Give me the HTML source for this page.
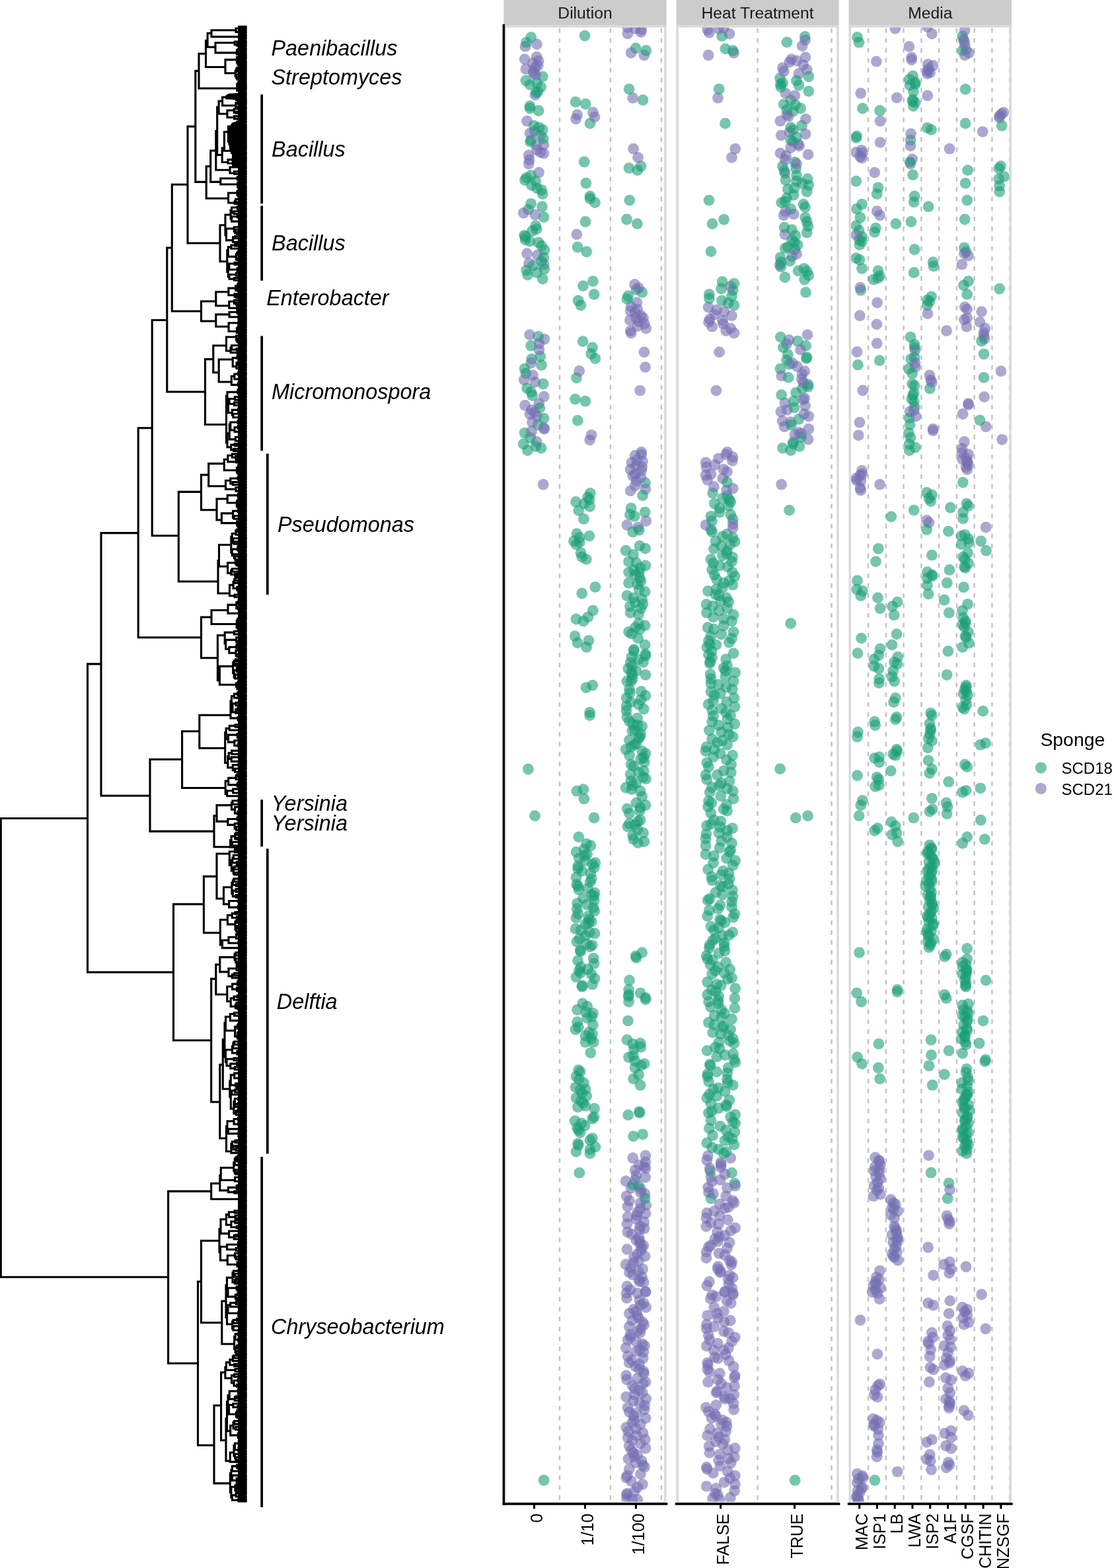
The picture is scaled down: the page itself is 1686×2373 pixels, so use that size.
<!DOCTYPE html>
<html><head><meta charset="utf-8"><title>Isolates</title>
<style>
html,body{margin:0;padding:0;background:#fff;}
svg{display:block;}
text{font-family:"Liberation Sans",sans-serif;fill:#000;}
.st{font-size:24.7px;text-anchor:middle;fill:#1a1a1a;}
.gl{font-size:32.4px;font-style:italic;}
.tl{font-size:25px;text-anchor:end;}
.lt{font-size:28.4px;}
.ll{font-size:24px;}
.dl{stroke:#c2c2c2;stroke-width:2.4;stroke-dasharray:7 8;}
.ax{stroke:#000;stroke-width:3.5;}
.tk{stroke:#000;stroke-width:3.1;}
.bar{stroke:#000;stroke-width:3.7;}
.g{fill:#1b9e77;fill-opacity:0.6;}
.p{fill:#7570b3;fill-opacity:0.6;}
.tree{fill:none;stroke:#000;stroke-width:3.1;stroke-linecap:square;}
</style></head><body>
<svg width="1686" height="2373" viewBox="0 0 1686 2373">
<rect x="0" y="0" width="1686" height="2373" fill="#fff"/>
<rect x="762.35" y="0" width="246.25" height="38.20" fill="#cccccc"/>
<text x="885.48" y="28.1" class="st">Dilution</text>
<line x1="847.00" y1="42.70" x2="847.00" y2="2275.00" class="dl"/>
<line x1="923.95" y1="42.70" x2="923.95" y2="2275.00" class="dl"/>
<line x1="1000.90" y1="42.70" x2="1000.90" y2="2275.00" class="dl"/>
<rect x="1023.50" y="0" width="246.20" height="38.20" fill="#cccccc"/>
<text x="1146.60" y="28.1" class="st">Heat Treatment</text>
<line x1="1146.60" y1="42.70" x2="1146.60" y2="2275.00" class="dl"/>
<line x1="1258.51" y1="42.70" x2="1258.51" y2="2275.00" class="dl"/>
<rect x="1284.60" y="0" width="246.30" height="38.20" fill="#cccccc"/>
<text x="1407.75" y="28.1" class="st">Media</text>
<line x1="1314.05" y1="42.70" x2="1314.05" y2="2275.00" class="dl"/>
<line x1="1340.82" y1="42.70" x2="1340.82" y2="2275.00" class="dl"/>
<line x1="1367.59" y1="42.70" x2="1367.59" y2="2275.00" class="dl"/>
<line x1="1394.36" y1="42.70" x2="1394.36" y2="2275.00" class="dl"/>
<line x1="1421.14" y1="42.70" x2="1421.14" y2="2275.00" class="dl"/>
<line x1="1447.91" y1="42.70" x2="1447.91" y2="2275.00" class="dl"/>
<line x1="1474.68" y1="42.70" x2="1474.68" y2="2275.00" class="dl"/>
<line x1="1501.45" y1="42.70" x2="1501.45" y2="2275.00" class="dl"/>
<line x1="1528.22" y1="42.70" x2="1528.22" y2="2275.00" class="dl"/>
<defs><clipPath id="clipD"><rect x="762.35" y="38.20" width="246.25" height="2237.80"/></clipPath><clipPath id="clipH"><rect x="1023.50" y="38.20" width="246.20" height="2237.80"/></clipPath><clipPath id="clipM"><rect x="1284.60" y="38.20" width="246.30" height="2237.80"/></clipPath></defs>
<g clip-path="url(#clipD)">
<circle cx="804.6" cy="620.3" r="8.4" class="p"/>
<circle cx="961.2" cy="689.5" r="8.4" class="p"/>
<circle cx="794.1" cy="655.3" r="8.4" class="g"/>
<circle cx="962.1" cy="1446.8" r="8.4" class="g"/>
<circle cx="893.0" cy="1432.8" r="8.4" class="g"/>
<circle cx="899.0" cy="1356.1" r="8.4" class="g"/>
<circle cx="891.4" cy="1562.5" r="8.4" class="g"/>
<circle cx="803.7" cy="523.2" r="8.4" class="g"/>
<circle cx="875.8" cy="772.6" r="8.4" class="g"/>
<circle cx="963.0" cy="438.4" r="8.4" class="g"/>
<circle cx="893.0" cy="1745.5" r="8.4" class="g"/>
<circle cx="974.3" cy="1166.6" r="8.4" class="g"/>
<circle cx="799.4" cy="317.1" r="8.4" class="g"/>
<circle cx="955.1" cy="1798.0" r="8.4" class="p"/>
<circle cx="957.7" cy="1579.8" r="8.4" class="g"/>
<circle cx="969.1" cy="1579.0" r="8.4" class="g"/>
<circle cx="966.4" cy="998.1" r="8.4" class="g"/>
<circle cx="952.3" cy="2062.4" r="8.4" class="p"/>
<circle cx="948.6" cy="332.0" r="8.4" class="g"/>
<circle cx="949.0" cy="1573.7" r="8.4" class="g"/>
<circle cx="964.7" cy="1897.9" r="8.4" class="p"/>
<circle cx="968.2" cy="1882.0" r="8.4" class="p"/>
<circle cx="950.1" cy="2130.1" r="8.4" class="p"/>
<circle cx="972.6" cy="1920.5" r="8.4" class="p"/>
<circle cx="807.5" cy="111.2" r="8.4" class="p"/>
<circle cx="884.2" cy="762.1" r="8.4" class="g"/>
<circle cx="963.0" cy="1185.0" r="8.4" class="g"/>
<circle cx="971.8" cy="1136.8" r="8.4" class="g"/>
<circle cx="949.9" cy="1826.0" r="8.4" class="p"/>
<circle cx="961.1" cy="717.5" r="8.4" class="p"/>
<circle cx="960.3" cy="781.3" r="8.4" class="g"/>
<circle cx="885.0" cy="1294.8" r="8.4" class="g"/>
<circle cx="975.2" cy="1859.2" r="8.4" class="p"/>
<circle cx="963.8" cy="1839.8" r="8.4" class="p"/>
<circle cx="892.1" cy="756.0" r="8.4" class="g"/>
<circle cx="957.0" cy="1998.5" r="8.4" class="p"/>
<circle cx="890.9" cy="969.4" r="8.4" class="g"/>
<circle cx="895.4" cy="1394.8" r="8.4" class="g"/>
<circle cx="948.6" cy="1964.6" r="8.4" class="p"/>
<circle cx="874.6" cy="1314.7" r="8.4" class="g"/>
<circle cx="964.7" cy="1097.5" r="8.4" class="g"/>
<circle cx="798.5" cy="416.0" r="8.4" class="g"/>
<circle cx="883.4" cy="1638.7" r="8.4" class="g"/>
<circle cx="949.9" cy="1841.7" r="8.4" class="p"/>
<circle cx="961.2" cy="912.0" r="8.4" class="g"/>
<circle cx="957.3" cy="1027.1" r="8.4" class="g"/>
<circle cx="878.4" cy="1472.2" r="8.4" class="g"/>
<circle cx="957.0" cy="2269.4" r="8.4" class="p"/>
<circle cx="977.1" cy="2091.6" r="8.4" class="p"/>
<circle cx="793.6" cy="356.3" r="8.4" class="g"/>
<circle cx="967.3" cy="866.5" r="8.4" class="g"/>
<circle cx="804.6" cy="280.3" r="8.4" class="g"/>
<circle cx="956.0" cy="700.0" r="8.4" class="p"/>
<circle cx="961.2" cy="472.5" r="8.4" class="p"/>
<circle cx="871.9" cy="1478.6" r="8.4" class="g"/>
<circle cx="951.6" cy="1497.6" r="8.4" class="g"/>
<circle cx="889.5" cy="1344.5" r="8.4" class="g"/>
<circle cx="972.4" cy="2246.3" r="8.4" class="p"/>
<circle cx="886.0" cy="1673.7" r="8.4" class="g"/>
<circle cx="965.6" cy="798.0" r="8.4" class="p"/>
<circle cx="969.6" cy="1111.0" r="8.4" class="g"/>
<circle cx="949.9" cy="51.1" r="8.4" class="p"/>
<circle cx="961.2" cy="870.0" r="8.4" class="g"/>
<circle cx="955.1" cy="1031.0" r="8.4" class="g"/>
<circle cx="971.7" cy="906.7" r="8.4" class="g"/>
<circle cx="795.0" cy="70.4" r="8.4" class="p"/>
<circle cx="812.1" cy="668.5" r="8.4" class="p"/>
<circle cx="965.5" cy="1275.5" r="8.4" class="g"/>
<circle cx="956.8" cy="2152.7" r="8.4" class="p"/>
<circle cx="822.1" cy="733.2" r="8.4" class="p"/>
<circle cx="879.0" cy="836.7" r="8.4" class="g"/>
<circle cx="896.8" cy="1037.1" r="8.4" class="g"/>
<circle cx="961.2" cy="1770.8" r="8.4" class="p"/>
<circle cx="899.1" cy="1458.2" r="8.4" class="g"/>
<circle cx="823.9" cy="513.3" r="8.4" class="p"/>
<circle cx="968.2" cy="1861.0" r="8.4" class="p"/>
<circle cx="803.7" cy="212.1" r="8.4" class="g"/>
<circle cx="872.5" cy="571.9" r="8.4" class="g"/>
<circle cx="972.6" cy="698.2" r="8.4" class="p"/>
<circle cx="963.0" cy="851.6" r="8.4" class="g"/>
<circle cx="977.0" cy="1218.5" r="8.4" class="g"/>
<circle cx="878.1" cy="1438.1" r="8.4" class="g"/>
<circle cx="973.2" cy="2093.9" r="8.4" class="p"/>
<circle cx="976.6" cy="830.1" r="8.4" class="g"/>
<circle cx="873.7" cy="1367.2" r="8.4" class="g"/>
<circle cx="819.5" cy="372.2" r="8.4" class="g"/>
<circle cx="970.1" cy="2010.8" r="8.4" class="p"/>
<circle cx="802.0" cy="128.1" r="8.4" class="g"/>
<circle cx="815.1" cy="167.5" r="8.4" class="g"/>
<circle cx="964.7" cy="1087.0" r="8.4" class="g"/>
<circle cx="823.3" cy="600.2" r="8.4" class="p"/>
<circle cx="817.5" cy="204.8" r="8.4" class="p"/>
<circle cx="958.6" cy="225.2" r="8.4" class="p"/>
<circle cx="970.8" cy="45.0" r="8.4" class="p"/>
<circle cx="896.8" cy="1307.7" r="8.4" class="g"/>
<circle cx="968.2" cy="1115.0" r="8.4" class="g"/>
<circle cx="975.2" cy="1609.9" r="8.4" class="g"/>
<circle cx="812.5" cy="412.5" r="8.4" class="g"/>
<circle cx="976.1" cy="946.6" r="8.4" class="g"/>
<circle cx="823.0" cy="400.2" r="8.4" class="p"/>
<circle cx="882.5" cy="1359.4" r="8.4" class="g"/>
<circle cx="812.5" cy="284.7" r="8.4" class="g"/>
<circle cx="872.0" cy="937.0" r="8.4" class="g"/>
<circle cx="872.9" cy="354.7" r="8.4" class="p"/>
<circle cx="972.8" cy="2001.1" r="8.4" class="p"/>
<circle cx="959.5" cy="1588.0" r="8.4" class="g"/>
<circle cx="886.0" cy="1577.2" r="8.4" class="g"/>
<circle cx="809.9" cy="578.4" r="8.4" class="p"/>
<circle cx="957.7" cy="720.1" r="8.4" class="p"/>
<circle cx="956.0" cy="959.2" r="8.4" class="g"/>
<circle cx="959.2" cy="1159.4" r="8.4" class="g"/>
<circle cx="972.6" cy="1716.6" r="8.4" class="g"/>
<circle cx="878.7" cy="1439.9" r="8.4" class="g"/>
<circle cx="965.5" cy="2014.0" r="8.4" class="p"/>
<circle cx="963.2" cy="2172.5" r="8.4" class="p"/>
<circle cx="893.0" cy="300.5" r="8.4" class="g"/>
<circle cx="964.7" cy="884.0" r="8.4" class="g"/>
<circle cx="974.9" cy="1273.6" r="8.4" class="g"/>
<circle cx="792.4" cy="672.0" r="8.4" class="g"/>
<circle cx="804.6" cy="543.4" r="8.4" class="g"/>
<circle cx="955.1" cy="769.1" r="8.4" class="g"/>
<circle cx="873.3" cy="1375.4" r="8.4" class="g"/>
<circle cx="958.8" cy="1910.8" r="8.4" class="p"/>
<circle cx="872.9" cy="1197.2" r="8.4" class="g"/>
<circle cx="964.7" cy="2201.7" r="8.4" class="p"/>
<circle cx="976.1" cy="895.4" r="8.4" class="g"/>
<circle cx="959.5" cy="1903.0" r="8.4" class="p"/>
<circle cx="975.1" cy="1765.7" r="8.4" class="p"/>
<circle cx="976.1" cy="1806.7" r="8.4" class="p"/>
<circle cx="900.9" cy="542.5" r="8.4" class="g"/>
<circle cx="970.0" cy="1584.5" r="8.4" class="g"/>
<circle cx="797.6" cy="183.2" r="8.4" class="p"/>
<circle cx="961.7" cy="2067.8" r="8.4" class="p"/>
<circle cx="823.9" cy="407.2" r="8.4" class="g"/>
<circle cx="961.5" cy="949.7" r="8.4" class="g"/>
<circle cx="947.2" cy="1913.5" r="8.4" class="p"/>
<circle cx="965.0" cy="1243.2" r="8.4" class="g"/>
<circle cx="812.1" cy="346.7" r="8.4" class="g"/>
<circle cx="892.6" cy="1078.2" r="8.4" class="g"/>
<circle cx="952.5" cy="1246.5" r="8.4" class="g"/>
<circle cx="949.0" cy="794.5" r="8.4" class="p"/>
<circle cx="954.0" cy="2020.0" r="8.4" class="p"/>
<circle cx="795.9" cy="565.2" r="8.4" class="g"/>
<circle cx="808.1" cy="190.2" r="8.4" class="g"/>
<circle cx="892.6" cy="1082.6" r="8.4" class="g"/>
<circle cx="973.5" cy="1176.2" r="8.4" class="g"/>
<circle cx="887.7" cy="1658.9" r="8.4" class="g"/>
<circle cx="899.7" cy="1378.7" r="8.4" class="g"/>
<circle cx="967.5" cy="2104.3" r="8.4" class="p"/>
<circle cx="895.3" cy="1330.3" r="8.4" class="g"/>
<circle cx="812.5" cy="630.0" r="8.4" class="p"/>
<circle cx="954.2" cy="1003.0" r="8.4" class="g"/>
<circle cx="811.6" cy="220.0" r="8.4" class="p"/>
<circle cx="872.0" cy="1629.1" r="8.4" class="g"/>
<circle cx="895.6" cy="1354.1" r="8.4" class="g"/>
<circle cx="894.7" cy="1474.0" r="8.4" class="g"/>
<circle cx="968.6" cy="591.1" r="8.4" class="p"/>
<circle cx="815.6" cy="610.7" r="8.4" class="p"/>
<circle cx="964.7" cy="468.1" r="8.4" class="p"/>
<circle cx="969.1" cy="1222.0" r="8.4" class="g"/>
<circle cx="964.7" cy="2086.2" r="8.4" class="p"/>
<circle cx="968.2" cy="1227.2" r="8.4" class="g"/>
<circle cx="823.0" cy="219.1" r="8.4" class="p"/>
<circle cx="961.2" cy="1605.5" r="8.4" class="g"/>
<circle cx="797.6" cy="383.6" r="8.4" class="p"/>
<circle cx="821.2" cy="293.5" r="8.4" class="g"/>
<circle cx="802.0" cy="164.0" r="8.4" class="g"/>
<circle cx="897.4" cy="425.6" r="8.4" class="g"/>
<circle cx="817.7" cy="539.5" r="8.4" class="g"/>
<circle cx="949.9" cy="41.5" r="8.4" class="p"/>
<circle cx="801.1" cy="241.8" r="8.4" class="p"/>
<circle cx="887.7" cy="1277.1" r="8.4" class="g"/>
<circle cx="880.7" cy="1318.2" r="8.4" class="g"/>
<circle cx="954.2" cy="500.5" r="8.4" class="p"/>
<circle cx="971.7" cy="707.0" r="8.4" class="p"/>
<circle cx="963.0" cy="1449.5" r="8.4" class="g"/>
<circle cx="955.0" cy="1181.9" r="8.4" class="g"/>
<circle cx="950.7" cy="1011.7" r="8.4" class="g"/>
<circle cx="823.0" cy="328.5" r="8.4" class="g"/>
<circle cx="899.6" cy="1677.6" r="8.4" class="g"/>
<circle cx="976.3" cy="2178.5" r="8.4" class="p"/>
<circle cx="881.6" cy="1518.6" r="8.4" class="g"/>
<circle cx="899.1" cy="1313.0" r="8.4" class="g"/>
<circle cx="974.0" cy="2075.5" r="8.4" class="p"/>
<circle cx="955.1" cy="463.7" r="8.4" class="p"/>
<circle cx="899.1" cy="1690.4" r="8.4" class="g"/>
<circle cx="966.3" cy="1994.6" r="8.4" class="p"/>
<circle cx="794.1" cy="89.6" r="8.4" class="p"/>
<circle cx="948.9" cy="1085.2" r="8.4" class="g"/>
<circle cx="962.1" cy="73.0" r="8.4" class="g"/>
<circle cx="872.9" cy="1338.4" r="8.4" class="g"/>
<circle cx="958.9" cy="904.6" r="8.4" class="g"/>
<circle cx="812.5" cy="125.5" r="8.4" class="g"/>
<circle cx="955.3" cy="1017.5" r="8.4" class="g"/>
<circle cx="880.7" cy="898.0" r="8.4" class="g"/>
<circle cx="968.2" cy="1684.2" r="8.4" class="g"/>
<circle cx="956.9" cy="1106.2" r="8.4" class="g"/>
<circle cx="973.5" cy="1260.5" r="8.4" class="g"/>
<circle cx="969.4" cy="2155.5" r="8.4" class="p"/>
<circle cx="794.6" cy="613.4" r="8.4" class="p"/>
<circle cx="957.7" cy="805.0" r="8.4" class="g"/>
<circle cx="879.9" cy="1700.0" r="8.4" class="g"/>
<circle cx="969.1" cy="1642.2" r="8.4" class="g"/>
<circle cx="953.5" cy="917.5" r="8.4" class="g"/>
<circle cx="873.7" cy="1707.0" r="8.4" class="g"/>
<circle cx="893.0" cy="297.0" r="8.4" class="g"/>
<circle cx="960.6" cy="430.5" r="8.4" class="p"/>
<circle cx="962.4" cy="704.6" r="8.4" class="p"/>
<circle cx="976.7" cy="1781.8" r="8.4" class="p"/>
<circle cx="963.8" cy="457.6" r="8.4" class="p"/>
<circle cx="947.2" cy="1787.5" r="8.4" class="p"/>
<circle cx="815.6" cy="261.1" r="8.4" class="p"/>
<circle cx="894.7" cy="1572.0" r="8.4" class="g"/>
<circle cx="887.7" cy="1428.5" r="8.4" class="g"/>
<circle cx="872.0" cy="1661.5" r="8.4" class="g"/>
<circle cx="803.7" cy="549.5" r="8.4" class="p"/>
<circle cx="977.8" cy="1823.7" r="8.4" class="p"/>
<circle cx="875.8" cy="1266.6" r="8.4" class="g"/>
<circle cx="972.4" cy="2033.9" r="8.4" class="p"/>
<circle cx="948.3" cy="2262.3" r="8.4" class="p"/>
<circle cx="815.1" cy="92.2" r="8.4" class="p"/>
<circle cx="947.8" cy="2081.6" r="8.4" class="p"/>
<circle cx="890.4" cy="1386.5" r="8.4" class="g"/>
<circle cx="886.0" cy="1398.7" r="8.4" class="g"/>
<circle cx="967.8" cy="2123.2" r="8.4" class="p"/>
<circle cx="803.7" cy="56.4" r="8.4" class="g"/>
<circle cx="967.3" cy="1682.5" r="8.4" class="g"/>
<circle cx="962.3" cy="2030.1" r="8.4" class="p"/>
<circle cx="872.2" cy="824.0" r="8.4" class="g"/>
<circle cx="878.1" cy="1622.1" r="8.4" class="g"/>
<circle cx="949.9" cy="1864.5" r="8.4" class="p"/>
<circle cx="800.2" cy="234.9" r="8.4" class="p"/>
<circle cx="952.5" cy="1231.1" r="8.4" class="g"/>
<circle cx="886.0" cy="1648.4" r="8.4" class="g"/>
<circle cx="821.2" cy="196.4" r="8.4" class="g"/>
<circle cx="950.1" cy="2175.5" r="8.4" class="p"/>
<circle cx="888.6" cy="1540.5" r="8.4" class="g"/>
<circle cx="812.5" cy="227.0" r="8.4" class="p"/>
<circle cx="819.1" cy="678.1" r="8.4" class="g"/>
<circle cx="977.0" cy="856.0" r="8.4" class="g"/>
<circle cx="955.1" cy="504.0" r="8.4" class="p"/>
<circle cx="874.4" cy="1675.4" r="8.4" class="g"/>
<circle cx="963.0" cy="1876.7" r="8.4" class="p"/>
<circle cx="963.0" cy="1845.2" r="8.4" class="p"/>
<circle cx="952.5" cy="1120.2" r="8.4" class="g"/>
<circle cx="977.1" cy="1955.4" r="8.4" class="p"/>
<circle cx="972.9" cy="2217.2" r="8.4" class="p"/>
<circle cx="954.1" cy="2023.7" r="8.4" class="p"/>
<circle cx="956.0" cy="994.2" r="8.4" class="g"/>
<circle cx="959.3" cy="985.2" r="8.4" class="g"/>
<circle cx="977.0" cy="1140.3" r="8.4" class="g"/>
<circle cx="900.9" cy="888.4" r="8.4" class="g"/>
<circle cx="977.0" cy="1758.6" r="8.4" class="p"/>
<circle cx="975.2" cy="490.0" r="8.4" class="p"/>
<circle cx="886.9" cy="1040.6" r="8.4" class="g"/>
<circle cx="952.5" cy="1043.2" r="8.4" class="g"/>
<circle cx="793.2" cy="574.9" r="8.4" class="p"/>
<circle cx="884.0" cy="1285.1" r="8.4" class="g"/>
<circle cx="947.8" cy="2114.0" r="8.4" class="p"/>
<circle cx="889.5" cy="1467.0" r="8.4" class="g"/>
<circle cx="802.0" cy="365.2" r="8.4" class="g"/>
<circle cx="950.1" cy="2027.7" r="8.4" class="p"/>
<circle cx="955.5" cy="2194.6" r="8.4" class="p"/>
<circle cx="970.8" cy="712.2" r="8.4" class="p"/>
<circle cx="949.0" cy="901.5" r="8.4" class="g"/>
<circle cx="975.2" cy="1153.5" r="8.4" class="g"/>
<circle cx="977.0" cy="1836.5" r="8.4" class="p"/>
<circle cx="965.8" cy="1923.7" r="8.4" class="p"/>
<circle cx="977.8" cy="1978.5" r="8.4" class="p"/>
<circle cx="800.2" cy="248.0" r="8.4" class="p"/>
<circle cx="870.6" cy="604.1" r="8.4" class="g"/>
<circle cx="954.2" cy="1952.0" r="8.4" class="p"/>
<circle cx="892.3" cy="1410.9" r="8.4" class="g"/>
<circle cx="898.2" cy="1450.3" r="8.4" class="g"/>
<circle cx="896.5" cy="525.9" r="8.4" class="g"/>
<circle cx="952.5" cy="1143.0" r="8.4" class="g"/>
<circle cx="871.6" cy="759.5" r="8.4" class="g"/>
<circle cx="963.2" cy="2044.7" r="8.4" class="p"/>
<circle cx="976.1" cy="775.2" r="8.4" class="g"/>
<circle cx="880.7" cy="842.9" r="8.4" class="g"/>
<circle cx="900.0" cy="1412.7" r="8.4" class="g"/>
<circle cx="965.6" cy="965.9" r="8.4" class="g"/>
<circle cx="878.1" cy="1649.2" r="8.4" class="g"/>
<circle cx="976.1" cy="975.9" r="8.4" class="g"/>
<circle cx="813.4" cy="386.2" r="8.4" class="p"/>
<circle cx="969.1" cy="1197.2" r="8.4" class="g"/>
<circle cx="966.5" cy="1626.5" r="8.4" class="g"/>
<circle cx="947.8" cy="2236.3" r="8.4" class="p"/>
<circle cx="794.4" cy="272.5" r="8.4" class="g"/>
<circle cx="951.6" cy="866.1" r="8.4" class="g"/>
<circle cx="810.7" cy="675.5" r="8.4" class="g"/>
<circle cx="961.2" cy="1616.0" r="8.4" class="g"/>
<circle cx="948.1" cy="1068.6" r="8.4" class="g"/>
<circle cx="802.5" cy="214.4" r="8.4" class="g"/>
<circle cx="966.9" cy="1117.4" r="8.4" class="g"/>
<circle cx="973.9" cy="1885.0" r="8.4" class="p"/>
<circle cx="977.0" cy="1509.8" r="8.4" class="g"/>
<circle cx="970.0" cy="879.6" r="8.4" class="g"/>
<circle cx="951.1" cy="1507.7" r="8.4" class="g"/>
<circle cx="871.1" cy="1405.7" r="8.4" class="g"/>
<circle cx="950.9" cy="2166.3" r="8.4" class="p"/>
<circle cx="822.1" cy="209.5" r="8.4" class="g"/>
<circle cx="895.6" cy="1538.7" r="8.4" class="g"/>
<circle cx="963.0" cy="1215.0" r="8.4" class="g"/>
<circle cx="956.3" cy="2058.5" r="8.4" class="p"/>
<circle cx="964.7" cy="2269.4" r="8.4" class="p"/>
<circle cx="970.0" cy="1799.7" r="8.4" class="p"/>
<circle cx="954.6" cy="1062.6" r="8.4" class="g"/>
<circle cx="977.1" cy="2191.7" r="8.4" class="p"/>
<circle cx="970.0" cy="48.5" r="8.4" class="p"/>
<circle cx="976.6" cy="730.6" r="8.4" class="g"/>
<circle cx="966.6" cy="1794.7" r="8.4" class="g"/>
<circle cx="877.1" cy="1420.6" r="8.4" class="g"/>
<circle cx="874.6" cy="1730.6" r="8.4" class="g"/>
<circle cx="959.5" cy="982.9" r="8.4" class="g"/>
<circle cx="871.6" cy="180.1" r="8.4" class="p"/>
<circle cx="808.9" cy="198.3" r="8.4" class="g"/>
<circle cx="883.0" cy="1194.6" r="8.4" class="g"/>
<circle cx="977.0" cy="740.2" r="8.4" class="p"/>
<circle cx="800.6" cy="398.3" r="8.4" class="p"/>
<circle cx="970.0" cy="1612.5" r="8.4" class="g"/>
<circle cx="814.2" cy="99.2" r="8.4" class="p"/>
<circle cx="974.3" cy="1146.5" r="8.4" class="g"/>
<circle cx="883.9" cy="1208.9" r="8.4" class="g"/>
<circle cx="952.4" cy="2007.7" r="8.4" class="p"/>
<circle cx="876.4" cy="1633.5" r="8.4" class="g"/>
<circle cx="886.3" cy="157.5" r="8.4" class="g"/>
<circle cx="963.0" cy="1778.7" r="8.4" class="p"/>
<circle cx="963.0" cy="728.0" r="8.4" class="p"/>
<circle cx="950.7" cy="1687.4" r="8.4" class="g"/>
<circle cx="887.7" cy="979.4" r="8.4" class="g"/>
<circle cx="810.7" cy="274.2" r="8.4" class="g"/>
<circle cx="971.7" cy="1441.6" r="8.4" class="g"/>
<circle cx="955.1" cy="1157.0" r="8.4" class="g"/>
<circle cx="957.7" cy="148.2" r="8.4" class="p"/>
<circle cx="960.1" cy="2257.1" r="8.4" class="p"/>
<circle cx="966.5" cy="486.5" r="8.4" class="p"/>
<circle cx="961.2" cy="1248.2" r="8.4" class="g"/>
<circle cx="797.6" cy="587.6" r="8.4" class="g"/>
<circle cx="973.5" cy="481.2" r="8.4" class="p"/>
<circle cx="973.2" cy="2168.8" r="8.4" class="p"/>
<circle cx="955.5" cy="2241.7" r="8.4" class="p"/>
<circle cx="807.2" cy="402.0" r="8.4" class="g"/>
<circle cx="964.9" cy="1991.4" r="8.4" class="p"/>
<circle cx="954.2" cy="1171.8" r="8.4" class="g"/>
<circle cx="897.5" cy="1533.5" r="8.4" class="g"/>
<circle cx="959.8" cy="2204.3" r="8.4" class="p"/>
<circle cx="814.2" cy="643.1" r="8.4" class="g"/>
<circle cx="977.0" cy="1052.8" r="8.4" class="g"/>
<circle cx="823.0" cy="232.2" r="8.4" class="p"/>
<circle cx="955.3" cy="1130.3" r="8.4" class="g"/>
<circle cx="956.9" cy="1020.5" r="8.4" class="g"/>
<circle cx="963.0" cy="1015.2" r="8.4" class="g"/>
<circle cx="974.3" cy="1073.0" r="8.4" class="g"/>
<circle cx="822.1" cy="581.0" r="8.4" class="g"/>
<circle cx="896.5" cy="1565.0" r="8.4" class="g"/>
<circle cx="874.1" cy="972.9" r="8.4" class="g"/>
<circle cx="958.6" cy="1632.6" r="8.4" class="g"/>
<circle cx="977.0" cy="1749.0" r="8.4" class="p"/>
<circle cx="823.9" cy="649.2" r="8.4" class="p"/>
<circle cx="963.0" cy="481.2" r="8.4" class="p"/>
<circle cx="963.2" cy="2138.6" r="8.4" class="p"/>
<circle cx="970.4" cy="1046.5" r="8.4" class="g"/>
<circle cx="950.4" cy="1544.8" r="8.4" class="g"/>
<circle cx="900.0" cy="1481.0" r="8.4" class="g"/>
<circle cx="952.4" cy="2137.0" r="8.4" class="p"/>
<circle cx="971.7" cy="1099.2" r="8.4" class="g"/>
<circle cx="951.6" cy="849.9" r="8.4" class="g"/>
<circle cx="882.5" cy="1669.4" r="8.4" class="g"/>
<circle cx="871.1" cy="154.4" r="8.4" class="g"/>
<circle cx="819.5" cy="287.3" r="8.4" class="g"/>
<circle cx="795.0" cy="362.8" r="8.4" class="g"/>
<circle cx="898.2" cy="1373.4" r="8.4" class="g"/>
<circle cx="948.1" cy="1957.2" r="8.4" class="p"/>
<circle cx="795.9" cy="122.0" r="8.4" class="g"/>
<circle cx="948.1" cy="1075.6" r="8.4" class="g"/>
<circle cx="970.0" cy="251.5" r="8.4" class="g"/>
<circle cx="873.7" cy="1528.2" r="8.4" class="g"/>
<circle cx="897.4" cy="1551.0" r="8.4" class="g"/>
<circle cx="966.5" cy="943.5" r="8.4" class="g"/>
<circle cx="964.7" cy="257.6" r="8.4" class="g"/>
<circle cx="974.7" cy="2004.7" r="8.4" class="p"/>
<circle cx="957.7" cy="1095.7" r="8.4" class="g"/>
<circle cx="948.1" cy="1810.2" r="8.4" class="p"/>
<circle cx="966.5" cy="929.5" r="8.4" class="g"/>
<circle cx="967.3" cy="891.9" r="8.4" class="g"/>
<circle cx="969.1" cy="1502.8" r="8.4" class="g"/>
<circle cx="954.2" cy="470.7" r="8.4" class="p"/>
<circle cx="806.4" cy="567.9" r="8.4" class="p"/>
<circle cx="896.3" cy="1430.3" r="8.4" class="g"/>
<circle cx="968.2" cy="1939.7" r="8.4" class="p"/>
<circle cx="973.5" cy="1002.1" r="8.4" class="g"/>
<circle cx="872.0" cy="1742.9" r="8.4" class="g"/>
<circle cx="816.9" cy="617.4" r="8.4" class="g"/>
<circle cx="886.0" cy="335.5" r="8.4" class="g"/>
<circle cx="873.7" cy="1546.6" r="8.4" class="g"/>
<circle cx="958.6" cy="1597.6" r="8.4" class="g"/>
<circle cx="952.5" cy="1817.2" r="8.4" class="p"/>
<circle cx="882.1" cy="516.6" r="8.4" class="g"/>
<circle cx="877.2" cy="813.7" r="8.4" class="g"/>
<circle cx="970.0" cy="920.7" r="8.4" class="g"/>
<circle cx="964.4" cy="338.6" r="8.4" class="g"/>
<circle cx="976.6" cy="555.6" r="8.4" class="p"/>
<circle cx="948.1" cy="1056.3" r="8.4" class="g"/>
<circle cx="960.8" cy="1104.5" r="8.4" class="g"/>
<circle cx="960.3" cy="2110.8" r="8.4" class="p"/>
<circle cx="900.0" cy="1351.1" r="8.4" class="g"/>
<circle cx="886.0" cy="607.2" r="8.4" class="g"/>
<circle cx="950.7" cy="448.0" r="8.4" class="g"/>
<circle cx="976.1" cy="1901.2" r="8.4" class="p"/>
<circle cx="896.5" cy="1722.7" r="8.4" class="g"/>
<circle cx="823.0" cy="633.1" r="8.4" class="g"/>
<circle cx="795.9" cy="104.5" r="8.4" class="p"/>
<circle cx="977.0" cy="989.9" r="8.4" class="g"/>
<circle cx="956.0" cy="1194.6" r="8.4" class="g"/>
<circle cx="874.6" cy="1383.0" r="8.4" class="g"/>
<circle cx="805.8" cy="598.5" r="8.4" class="g"/>
<circle cx="875.5" cy="1619.5" r="8.4" class="g"/>
<circle cx="967.8" cy="2064.7" r="8.4" class="p"/>
<circle cx="889.5" cy="752.5" r="8.4" class="g"/>
<circle cx="947.4" cy="2039.8" r="8.4" class="p"/>
<circle cx="875.9" cy="1346.4" r="8.4" class="g"/>
<circle cx="977.0" cy="1768.2" r="8.4" class="p"/>
<circle cx="898.2" cy="1577.2" r="8.4" class="g"/>
<circle cx="806.4" cy="95.7" r="8.4" class="p"/>
<circle cx="976.1" cy="1813.7" r="8.4" class="g"/>
<circle cx="972.6" cy="749.8" r="8.4" class="g"/>
<circle cx="966.8" cy="1169.0" r="8.4" class="g"/>
<circle cx="969.1" cy="859.5" r="8.4" class="g"/>
<circle cx="959.0" cy="1981.7" r="8.4" class="p"/>
<circle cx="879.0" cy="1463.5" r="8.4" class="g"/>
<circle cx="966.7" cy="1936.6" r="8.4" class="p"/>
<circle cx="893.0" cy="186.7" r="8.4" class="g"/>
<circle cx="952.5" cy="1483.6" r="8.4" class="g"/>
<circle cx="967.8" cy="1967.7" r="8.4" class="p"/>
<circle cx="874.6" cy="1341.0" r="8.4" class="g"/>
<circle cx="873.7" cy="173.6" r="8.4" class="p"/>
<circle cx="954.2" cy="927.4" r="8.4" class="g"/>
<circle cx="967.3" cy="802.3" r="8.4" class="g"/>
<circle cx="870.2" cy="1696.5" r="8.4" class="g"/>
<circle cx="971.7" cy="442.4" r="8.4" class="g"/>
<circle cx="874.8" cy="1310.9" r="8.4" class="g"/>
<circle cx="877.2" cy="820.7" r="8.4" class="g"/>
<circle cx="961.2" cy="735.0" r="8.4" class="p"/>
<circle cx="959.4" cy="862.7" r="8.4" class="g"/>
<circle cx="888.7" cy="1369.0" r="8.4" class="g"/>
<circle cx="900.5" cy="306.6" r="8.4" class="g"/>
<circle cx="818.6" cy="131.6" r="8.4" class="g"/>
<circle cx="968.6" cy="2017.0" r="8.4" class="p"/>
<circle cx="805.5" cy="349.5" r="8.4" class="g"/>
<circle cx="820.4" cy="312.7" r="8.4" class="g"/>
<circle cx="970.9" cy="2210.9" r="8.4" class="p"/>
<circle cx="970.0" cy="1148.2" r="8.4" class="g"/>
<circle cx="799.4" cy="1164.0" r="8.4" class="g"/>
<circle cx="893.0" cy="1725.4" r="8.4" class="g"/>
<circle cx="809.9" cy="143.9" r="8.4" class="p"/>
<circle cx="970.0" cy="722.7" r="8.4" class="p"/>
<circle cx="965.6" cy="238.3" r="8.4" class="p"/>
<circle cx="955.1" cy="80.0" r="8.4" class="p"/>
<circle cx="971.4" cy="1888.2" r="8.4" class="p"/>
<circle cx="886.9" cy="1531.7" r="8.4" class="g"/>
<circle cx="885.1" cy="1302.5" r="8.4" class="g"/>
<circle cx="967.4" cy="2072.1" r="8.4" class="p"/>
<circle cx="821.2" cy="422.1" r="8.4" class="g"/>
<circle cx="809.9" cy="325.0" r="8.4" class="p"/>
<circle cx="972.4" cy="2107.8" r="8.4" class="p"/>
<circle cx="897.4" cy="170.1" r="8.4" class="p"/>
<circle cx="795.0" cy="358.2" r="8.4" class="g"/>
<circle cx="974.1" cy="1972.1" r="8.4" class="p"/>
<circle cx="970.8" cy="684.2" r="8.4" class="p"/>
<circle cx="968.7" cy="1856.0" r="8.4" class="p"/>
<circle cx="883.0" cy="940.0" r="8.4" class="g"/>
<circle cx="872.9" cy="807.6" r="8.4" class="g"/>
<circle cx="893.9" cy="1321.7" r="8.4" class="g"/>
<circle cx="974.7" cy="1849.5" r="8.4" class="p"/>
<circle cx="947.2" cy="833.2" r="8.4" class="g"/>
<circle cx="966.5" cy="1066.0" r="8.4" class="g"/>
<circle cx="802.9" cy="662.3" r="8.4" class="g"/>
<circle cx="874.3" cy="636.4" r="8.4" class="g"/>
<circle cx="883.4" cy="785.4" r="8.4" class="g"/>
<circle cx="823.9" cy="378.3" r="8.4" class="g"/>
<circle cx="971.7" cy="1205.4" r="8.4" class="g"/>
<circle cx="964.7" cy="1957.2" r="8.4" class="p"/>
<circle cx="952.8" cy="303.1" r="8.4" class="g"/>
<circle cx="973.1" cy="151.4" r="8.4" class="g"/>
<circle cx="952.4" cy="2223.3" r="8.4" class="p"/>
<circle cx="803.7" cy="308.3" r="8.4" class="g"/>
<circle cx="890.4" cy="1397.0" r="8.4" class="g"/>
<circle cx="953.4" cy="1048.5" r="8.4" class="g"/>
<circle cx="963.8" cy="696.5" r="8.4" class="p"/>
<circle cx="974.0" cy="2046.2" r="8.4" class="p"/>
<circle cx="966.5" cy="435.7" r="8.4" class="p"/>
<circle cx="954.2" cy="1918.7" r="8.4" class="p"/>
<circle cx="969.4" cy="2230.9" r="8.4" class="p"/>
<circle cx="949.9" cy="1250.9" r="8.4" class="g"/>
<circle cx="950.9" cy="2207.9" r="8.4" class="p"/>
<circle cx="969.4" cy="2184.8" r="8.4" class="p"/>
<circle cx="947.8" cy="2160.1" r="8.4" class="p"/>
<circle cx="962.2" cy="2213.9" r="8.4" class="p"/>
<circle cx="811.2" cy="140.3" r="8.4" class="g"/>
<circle cx="960.1" cy="2101.6" r="8.4" class="p"/>
<circle cx="879.1" cy="1407.7" r="8.4" class="g"/>
<circle cx="957.7" cy="1792.7" r="8.4" class="g"/>
<circle cx="882.5" cy="432.6" r="8.4" class="g"/>
<circle cx="948.6" cy="2087.8" r="8.4" class="p"/>
<circle cx="973.1" cy="914.3" r="8.4" class="g"/>
<circle cx="958.9" cy="2143.0" r="8.4" class="p"/>
<circle cx="963.2" cy="1984.6" r="8.4" class="p"/>
<circle cx="951.6" cy="1600.2" r="8.4" class="g"/>
<circle cx="812.1" cy="86.1" r="8.4" class="p"/>
<circle cx="951.6" cy="1516.0" r="8.4" class="g"/>
<circle cx="899.3" cy="1362.5" r="8.4" class="g"/>
<circle cx="819.5" cy="552.5" r="8.4" class="g"/>
<circle cx="947.2" cy="1134.2" r="8.4" class="g"/>
<circle cx="809.1" cy="624.0" r="8.4" class="p"/>
<circle cx="966.5" cy="1908.2" r="8.4" class="p"/>
<circle cx="957.7" cy="1264.0" r="8.4" class="g"/>
<circle cx="821.2" cy="115.9" r="8.4" class="g"/>
<circle cx="967.3" cy="1763.0" r="8.4" class="p"/>
<circle cx="803.7" cy="593.2" r="8.4" class="g"/>
<circle cx="964.7" cy="1834.7" r="8.4" class="p"/>
<circle cx="967.9" cy="2043.0" r="8.4" class="p"/>
<circle cx="814.6" cy="509.2" r="8.4" class="g"/>
<circle cx="798.5" cy="681.6" r="8.4" class="g"/>
<circle cx="884.2" cy="245.0" r="8.4" class="g"/>
<circle cx="875.5" cy="1554.5" r="8.4" class="g"/>
<circle cx="885.1" cy="54.1" r="8.4" class="g"/>
<circle cx="956.0" cy="1868.0" r="8.4" class="p"/>
<circle cx="809.5" cy="1234.6" r="8.4" class="g"/>
<circle cx="886.9" cy="277.2" r="8.4" class="g"/>
<circle cx="879.0" cy="1665.9" r="8.4" class="g"/>
<circle cx="977.8" cy="2117.0" r="8.4" class="p"/>
<circle cx="900.9" cy="1305.6" r="8.4" class="g"/>
<circle cx="893.9" cy="1279.7" r="8.4" class="g"/>
<circle cx="818.1" cy="230.6" r="8.4" class="p"/>
<circle cx="952.4" cy="1987.7" r="8.4" class="p"/>
<circle cx="885.1" cy="1703.5" r="8.4" class="g"/>
<circle cx="803.7" cy="265.5" r="8.4" class="g"/>
<circle cx="953.4" cy="778.7" r="8.4" class="g"/>
<circle cx="958.6" cy="1719.6" r="8.4" class="g"/>
<circle cx="974.9" cy="83.5" r="8.4" class="p"/>
<circle cx="970.8" cy="687.7" r="8.4" class="p"/>
<circle cx="878.1" cy="1714.0" r="8.4" class="g"/>
<circle cx="974.9" cy="532.9" r="8.4" class="p"/>
<circle cx="802.0" cy="160.5" r="8.4" class="g"/>
<circle cx="891.8" cy="1391.6" r="8.4" class="g"/>
<circle cx="950.1" cy="2052.4" r="8.4" class="p"/>
<circle cx="952.2" cy="2188.2" r="8.4" class="p"/>
<circle cx="967.3" cy="1873.2" r="8.4" class="p"/>
<circle cx="957.7" cy="1929.2" r="8.4" class="p"/>
<circle cx="962.3" cy="2162.3" r="8.4" class="p"/>
<circle cx="891.9" cy="811.1" r="8.4" class="g"/>
<circle cx="956.9" cy="1008.2" r="8.4" class="g"/>
<circle cx="888.6" cy="1523.0" r="8.4" class="g"/>
<circle cx="887.7" cy="381.0" r="8.4" class="g"/>
<circle cx="802.0" cy="626.5" r="8.4" class="p"/>
<circle cx="894.7" cy="535.5" r="8.4" class="g"/>
<circle cx="881.4" cy="1491.5" r="8.4" class="g"/>
<circle cx="796.7" cy="64.2" r="8.4" class="g"/>
<circle cx="970.0" cy="477.7" r="8.4" class="p"/>
<circle cx="876.7" cy="561.4" r="8.4" class="p"/>
<circle cx="815.1" cy="367.0" r="8.4" class="g"/>
<circle cx="957.0" cy="2180.1" r="8.4" class="p"/>
<circle cx="810.4" cy="101.6" r="8.4" class="p"/>
<circle cx="977.0" cy="992.5" r="8.4" class="g"/>
<circle cx="805.5" cy="638.7" r="8.4" class="p"/>
<circle cx="977.7" cy="788.5" r="8.4" class="p"/>
<circle cx="968.2" cy="952.2" r="8.4" class="g"/>
<circle cx="875.1" cy="455.0" r="8.4" class="g"/>
<circle cx="893.0" cy="1334.9" r="8.4" class="g"/>
<circle cx="892.6" cy="665.8" r="8.4" class="p"/>
<circle cx="875.5" cy="1710.5" r="8.4" class="g"/>
<circle cx="893.3" cy="746.3" r="8.4" class="g"/>
<circle cx="969.5" cy="1804.4" r="8.4" class="p"/>
<circle cx="951.6" cy="882.2" r="8.4" class="g"/>
<circle cx="961.2" cy="1785.7" r="8.4" class="p"/>
<circle cx="969.1" cy="1241.2" r="8.4" class="g"/>
<circle cx="977.5" cy="1178.7" r="8.4" class="g"/>
<circle cx="810.7" cy="113.2" r="8.4" class="p"/>
<circle cx="958.6" cy="839.4" r="8.4" class="g"/>
<circle cx="823.0" cy="389.7" r="8.4" class="g"/>
<circle cx="949.0" cy="1031.0" r="8.4" class="g"/>
<circle cx="957.0" cy="2097.0" r="8.4" class="p"/>
<circle cx="977.1" cy="2146.3" r="8.4" class="p"/>
<circle cx="951.6" cy="1505.5" r="8.4" class="g"/>
<circle cx="823.0" cy="647.5" r="8.4" class="p"/>
<circle cx="949.3" cy="1223.9" r="8.4" class="g"/>
<circle cx="810.7" cy="341.6" r="8.4" class="g"/>
<circle cx="871.1" cy="1645.4" r="8.4" class="g"/>
<circle cx="889.8" cy="933.9" r="8.4" class="g"/>
<circle cx="949.0" cy="1946.7" r="8.4" class="p"/>
<circle cx="952.1" cy="134.8" r="8.4" class="g"/>
<circle cx="964.7" cy="2251.0" r="8.4" class="p"/>
<circle cx="874.6" cy="1453.8" r="8.4" class="g"/>
<circle cx="957.2" cy="1188.4" r="8.4" class="g"/>
<circle cx="977.0" cy="1954.6" r="8.4" class="p"/>
<circle cx="951.6" cy="956.3" r="8.4" class="g"/>
<circle cx="952.5" cy="1925.7" r="8.4" class="p"/>
<circle cx="948.6" cy="2267.9" r="8.4" class="p"/>
<circle cx="949.3" cy="2260.2" r="8.4" class="p"/>
<circle cx="872.0" cy="1289.4" r="8.4" class="g"/>
<circle cx="949.0" cy="452.4" r="8.4" class="g"/>
<circle cx="880.7" cy="1654.5" r="8.4" class="g"/>
<circle cx="970.0" cy="1059.0" r="8.4" class="g"/>
<circle cx="977.8" cy="497.0" r="8.4" class="p"/>
<circle cx="957.7" cy="1752.5" r="8.4" class="p"/>
<circle cx="870.2" cy="962.7" r="8.4" class="g"/>
<circle cx="973.2" cy="2055.5" r="8.4" class="p"/>
<circle cx="970.0" cy="1892.5" r="8.4" class="p"/>
<circle cx="967.9" cy="826.2" r="8.4" class="g"/>
<circle cx="960.0" cy="1127.1" r="8.4" class="g"/>
<circle cx="887.4" cy="846.4" r="8.4" class="g"/>
<circle cx="871.1" cy="1558.0" r="8.4" class="g"/>
<circle cx="964.7" cy="493.5" r="8.4" class="p"/>
<circle cx="954.2" cy="710.5" r="8.4" class="p"/>
<circle cx="816.0" cy="519.7" r="8.4" class="p"/>
<circle cx="888.6" cy="1292.9" r="8.4" class="g"/>
<circle cx="796.7" cy="269.0" r="8.4" class="g"/>
<circle cx="971.7" cy="1932.7" r="8.4" class="p"/>
<circle cx="952.5" cy="1091.6" r="8.4" class="g"/>
<circle cx="814.2" cy="138.6" r="8.4" class="g"/>
<circle cx="969.1" cy="1820.7" r="8.4" class="p"/>
<circle cx="796.7" cy="409.0" r="8.4" class="g"/>
<circle cx="953.4" cy="484.4" r="8.4" class="p"/>
<circle cx="895.1" cy="658.3" r="8.4" class="p"/>
<circle cx="947.2" cy="1192.0" r="8.4" class="g"/>
<circle cx="794.1" cy="558.2" r="8.4" class="g"/>
<circle cx="899.1" cy="1237.7" r="8.4" class="g"/>
<circle cx="949.0" cy="1890.7" r="8.4" class="p"/>
<circle cx="819.5" cy="395.0" r="8.4" class="g"/>
<circle cx="949.3" cy="2233.3" r="8.4" class="p"/>
<circle cx="963.0" cy="1125.5" r="8.4" class="g"/>
<circle cx="960.1" cy="2149.4" r="8.4" class="p"/>
<circle cx="876.9" cy="1774.9" r="8.4" class="g"/>
<circle cx="977.0" cy="1512.5" r="8.4" class="g"/>
<circle cx="954.2" cy="742.8" r="8.4" class="p"/>
<circle cx="872.0" cy="1327.9" r="8.4" class="g"/>
<circle cx="868.5" cy="819.0" r="8.4" class="g"/>
<circle cx="964.7" cy="1255.2" r="8.4" class="g"/>
<circle cx="892.5" cy="766.5" r="8.4" class="g"/>
<circle cx="975.2" cy="2133.3" r="8.4" class="p"/>
<circle cx="879.0" cy="462.0" r="8.4" class="g"/>
<circle cx="875.5" cy="1733.2" r="8.4" class="g"/>
<circle cx="900.9" cy="1735.9" r="8.4" class="g"/>
<circle cx="816.0" cy="529.4" r="8.4" class="p"/>
<circle cx="807.2" cy="108.0" r="8.4" class="p"/>
<circle cx="886.0" cy="1567.6" r="8.4" class="g"/>
<circle cx="975.5" cy="2127.0" r="8.4" class="p"/>
<circle cx="816.0" cy="192.9" r="8.4" class="g"/>
<circle cx="975.5" cy="2220.2" r="8.4" class="p"/>
<circle cx="949.0" cy="1852.2" r="8.4" class="p"/>
<circle cx="977.8" cy="76.5" r="8.4" class="g"/>
<circle cx="958.6" cy="1270.1" r="8.4" class="g"/>
<circle cx="812.5" cy="66.9" r="8.4" class="p"/>
<circle cx="896.5" cy="1489.7" r="8.4" class="g"/>
<circle cx="896.5" cy="1693.0" r="8.4" class="g"/>
<circle cx="792.4" cy="322.3" r="8.4" class="p"/>
<circle cx="876.4" cy="1469.0" r="8.4" class="g"/>
<circle cx="900.0" cy="177.1" r="8.4" class="p"/>
<circle cx="958.6" cy="2198.6" r="8.4" class="p"/>
<circle cx="974.3" cy="1940.6" r="8.4" class="p"/>
<circle cx="969.4" cy="1975.4" r="8.4" class="p"/>
<circle cx="804.6" cy="652.7" r="8.4" class="p"/>
<circle cx="872.0" cy="1389.1" r="8.4" class="g"/>
<circle cx="886.0" cy="1416.2" r="8.4" class="g"/>
<circle cx="880.7" cy="1493.2" r="8.4" class="g"/>
<circle cx="893.9" cy="1593.2" r="8.4" class="g"/>
<circle cx="969.1" cy="1829.5" r="8.4" class="p"/>
<circle cx="872.9" cy="1425.0" r="8.4" class="g"/>
<circle cx="958.6" cy="2120.1" r="8.4" class="p"/>
<circle cx="823.1" cy="2240.2" r="8.4" class="g"/>
<circle cx="897.4" cy="923.9" r="8.4" class="g"/>
<circle cx="968.2" cy="875.2" r="8.4" class="g"/>
<circle cx="893.0" cy="1739.4" r="8.4" class="g"/>
<circle cx="975.4" cy="2036.6" r="8.4" class="p"/>
<circle cx="952.1" cy="254.4" r="8.4" class="g"/>
<circle cx="899.1" cy="445.4" r="8.4" class="g"/>
<circle cx="974.5" cy="2078.5" r="8.4" class="p"/>
<circle cx="968.1" cy="1878.5" r="8.4" class="p"/>
<circle cx="802.0" cy="201.6" r="8.4" class="p"/>
<circle cx="961.2" cy="43.2" r="8.4" class="p"/>
<circle cx="876.4" cy="1299.0" r="8.4" class="g"/>
<circle cx="801.6" cy="506.6" r="8.4" class="p"/>
<circle cx="977.0" cy="1021.3" r="8.4" class="g"/>
<circle cx="874.1" cy="374.0" r="8.4" class="g"/>
</g>
<g clip-path="url(#clipH)">
<circle cx="1071.1" cy="949.7" r="8.4" class="g"/>
<circle cx="1076.9" cy="985.5" r="8.4" class="g"/>
<circle cx="1078.6" cy="917.2" r="8.4" class="g"/>
<circle cx="1194.1" cy="514.5" r="8.4" class="p"/>
<circle cx="1079.3" cy="2229.4" r="8.4" class="p"/>
<circle cx="1110.6" cy="2133.3" r="8.4" class="p"/>
<circle cx="1093.5" cy="754.2" r="8.4" class="g"/>
<circle cx="1109.2" cy="1309.5" r="8.4" class="g"/>
<circle cx="1109.2" cy="1817.2" r="8.4" class="p"/>
<circle cx="1098.5" cy="2050.1" r="8.4" class="p"/>
<circle cx="1076.0" cy="1781.3" r="8.4" class="p"/>
<circle cx="1073.4" cy="445.4" r="8.4" class="g"/>
<circle cx="1109.2" cy="1957.2" r="8.4" class="p"/>
<circle cx="1220.3" cy="542.5" r="8.4" class="g"/>
<circle cx="1180.6" cy="1163.6" r="8.4" class="g"/>
<circle cx="1202.9" cy="377.5" r="8.4" class="g"/>
<circle cx="1195.0" cy="94.0" r="8.4" class="p"/>
<circle cx="1075.4" cy="1965.4" r="8.4" class="p"/>
<circle cx="1069.5" cy="927.2" r="8.4" class="g"/>
<circle cx="1207.2" cy="516.2" r="8.4" class="g"/>
<circle cx="1108.4" cy="1043.2" r="8.4" class="g"/>
<circle cx="1070.8" cy="1990.8" r="8.4" class="p"/>
<circle cx="1090.0" cy="1251.7" r="8.4" class="g"/>
<circle cx="1213.4" cy="190.2" r="8.4" class="g"/>
<circle cx="1098.7" cy="687.7" r="8.4" class="p"/>
<circle cx="1217.7" cy="423.0" r="8.4" class="g"/>
<circle cx="1069.0" cy="914.6" r="8.4" class="g"/>
<circle cx="1103.1" cy="1111.5" r="8.4" class="g"/>
<circle cx="1103.1" cy="1943.0" r="8.4" class="p"/>
<circle cx="1073.9" cy="1656.0" r="8.4" class="g"/>
<circle cx="1205.5" cy="384.5" r="8.4" class="p"/>
<circle cx="1112.4" cy="2233.3" r="8.4" class="p"/>
<circle cx="1109.3" cy="1959.2" r="8.4" class="p"/>
<circle cx="1090.9" cy="1766.5" r="8.4" class="p"/>
<circle cx="1194.6" cy="772.1" r="8.4" class="g"/>
<circle cx="1072.5" cy="1804.4" r="8.4" class="p"/>
<circle cx="1103.7" cy="878.8" r="8.4" class="g"/>
<circle cx="1110.1" cy="2124.0" r="8.4" class="p"/>
<circle cx="1090.0" cy="1140.3" r="8.4" class="g"/>
<circle cx="1078.6" cy="1718.4" r="8.4" class="g"/>
<circle cx="1088.2" cy="1188.5" r="8.4" class="g"/>
<circle cx="1074.8" cy="1772.1" r="8.4" class="g"/>
<circle cx="1079.5" cy="1145.6" r="8.4" class="g"/>
<circle cx="1217.7" cy="602.9" r="8.4" class="p"/>
<circle cx="1073.4" cy="1939.7" r="8.4" class="p"/>
<circle cx="1091.1" cy="1491.5" r="8.4" class="g"/>
<circle cx="1086.4" cy="1920.5" r="8.4" class="p"/>
<circle cx="1090.9" cy="1759.5" r="8.4" class="p"/>
<circle cx="1111.9" cy="1095.7" r="8.4" class="g"/>
<circle cx="1105.7" cy="1286.7" r="8.4" class="g"/>
<circle cx="1203.2" cy="2240.2" r="8.4" class="g"/>
<circle cx="1215.6" cy="604.7" r="8.4" class="p"/>
<circle cx="1107.5" cy="1910.0" r="8.4" class="p"/>
<circle cx="1221.2" cy="105.4" r="8.4" class="p"/>
<circle cx="1188.0" cy="419.5" r="8.4" class="g"/>
<circle cx="1086.4" cy="1994.6" r="8.4" class="p"/>
<circle cx="1077.7" cy="494.4" r="8.4" class="p"/>
<circle cx="1107.5" cy="1774.9" r="8.4" class="g"/>
<circle cx="1104.0" cy="1880.2" r="8.4" class="p"/>
<circle cx="1072.5" cy="1516.0" r="8.4" class="g"/>
<circle cx="1100.5" cy="1193.7" r="8.4" class="g"/>
<circle cx="1181.0" cy="183.2" r="8.4" class="p"/>
<circle cx="1091.6" cy="437.0" r="8.4" class="g"/>
<circle cx="1076.0" cy="1027.5" r="8.4" class="g"/>
<circle cx="1087.4" cy="1036.2" r="8.4" class="g"/>
<circle cx="1196.7" cy="151.7" r="8.4" class="g"/>
<circle cx="1079.5" cy="1306.0" r="8.4" class="g"/>
<circle cx="1108.6" cy="1410.9" r="8.4" class="g"/>
<circle cx="1085.4" cy="1987.7" r="8.4" class="p"/>
<circle cx="1201.3" cy="324.1" r="8.4" class="p"/>
<circle cx="1074.6" cy="2162.4" r="8.4" class="p"/>
<circle cx="1081.2" cy="762.1" r="8.4" class="g"/>
<circle cx="1181.9" cy="396.7" r="8.4" class="g"/>
<circle cx="1111.9" cy="1525.6" r="8.4" class="g"/>
<circle cx="1092.6" cy="455.0" r="8.4" class="g"/>
<circle cx="1104.0" cy="51.1" r="8.4" class="p"/>
<circle cx="1188.0" cy="262.0" r="8.4" class="p"/>
<circle cx="1218.6" cy="614.2" r="8.4" class="p"/>
<circle cx="1075.4" cy="1523.8" r="8.4" class="g"/>
<circle cx="1088.2" cy="1896.8" r="8.4" class="p"/>
<circle cx="1098.7" cy="1810.2" r="8.4" class="p"/>
<circle cx="1089.3" cy="2078.5" r="8.4" class="p"/>
<circle cx="1184.5" cy="102.7" r="8.4" class="p"/>
<circle cx="1089.2" cy="1839.8" r="8.4" class="p"/>
<circle cx="1084.7" cy="469.0" r="8.4" class="p"/>
<circle cx="1095.2" cy="936.5" r="8.4" class="g"/>
<circle cx="1086.4" cy="1878.5" r="8.4" class="p"/>
<circle cx="1077.7" cy="1074.7" r="8.4" class="g"/>
<circle cx="1077.7" cy="995.1" r="8.4" class="g"/>
<circle cx="1097.0" cy="1828.6" r="8.4" class="p"/>
<circle cx="1074.1" cy="1430.3" r="8.4" class="g"/>
<circle cx="1106.2" cy="1972.3" r="8.4" class="p"/>
<circle cx="1110.1" cy="956.3" r="8.4" class="g"/>
<circle cx="1077.7" cy="1736.7" r="8.4" class="g"/>
<circle cx="1223.0" cy="585.4" r="8.4" class="g"/>
<circle cx="1077.7" cy="805.0" r="8.4" class="g"/>
<circle cx="1077.7" cy="1959.8" r="8.4" class="p"/>
<circle cx="1068.9" cy="1856.0" r="8.4" class="p"/>
<circle cx="1090.3" cy="1049.7" r="8.4" class="g"/>
<circle cx="1111.9" cy="1713.1" r="8.4" class="g"/>
<circle cx="1072.5" cy="969.7" r="8.4" class="g"/>
<circle cx="1072.5" cy="1160.5" r="8.4" class="g"/>
<circle cx="1076.0" cy="1046.7" r="8.4" class="g"/>
<circle cx="1080.4" cy="1295.5" r="8.4" class="g"/>
<circle cx="1107.5" cy="1480.1" r="8.4" class="g"/>
<circle cx="1100.5" cy="920.7" r="8.4" class="g"/>
<circle cx="1218.6" cy="329.3" r="8.4" class="g"/>
<circle cx="1112.7" cy="1700.0" r="8.4" class="g"/>
<circle cx="1109.0" cy="885.2" r="8.4" class="g"/>
<circle cx="1100.7" cy="1007.8" r="8.4" class="g"/>
<circle cx="1105.7" cy="1752.5" r="8.4" class="p"/>
<circle cx="1077.1" cy="1498.0" r="8.4" class="g"/>
<circle cx="1105.7" cy="778.7" r="8.4" class="g"/>
<circle cx="1111.6" cy="2256.3" r="8.4" class="p"/>
<circle cx="1068.5" cy="2130.1" r="8.4" class="p"/>
<circle cx="1090.0" cy="1785.7" r="8.4" class="p"/>
<circle cx="1111.0" cy="1056.3" r="8.4" class="g"/>
<circle cx="1219.5" cy="180.1" r="8.4" class="p"/>
<circle cx="1223.0" cy="342.5" r="8.4" class="g"/>
<circle cx="1110.6" cy="80.0" r="8.4" class="p"/>
<circle cx="1074.2" cy="1199.0" r="8.4" class="g"/>
<circle cx="1196.7" cy="943.5" r="8.4" class="g"/>
<circle cx="1191.0" cy="63.9" r="8.4" class="g"/>
<circle cx="1083.0" cy="899.7" r="8.4" class="g"/>
<circle cx="1219.5" cy="523.2" r="8.4" class="g"/>
<circle cx="1109.1" cy="1933.4" r="8.4" class="p"/>
<circle cx="1093.8" cy="2149.4" r="8.4" class="p"/>
<circle cx="1087.5" cy="1852.7" r="8.4" class="p"/>
<circle cx="1091.8" cy="1072.3" r="8.4" class="g"/>
<circle cx="1087.7" cy="2210.2" r="8.4" class="p"/>
<circle cx="1078.4" cy="1452.8" r="8.4" class="g"/>
<circle cx="1083.4" cy="2143.0" r="8.4" class="p"/>
<circle cx="1112.4" cy="2081.6" r="8.4" class="p"/>
<circle cx="1088.2" cy="1260.5" r="8.4" class="g"/>
<circle cx="1112.4" cy="2246.3" r="8.4" class="p"/>
<circle cx="1211.6" cy="164.0" r="8.4" class="g"/>
<circle cx="1071.6" cy="894.5" r="8.4" class="g"/>
<circle cx="1109.2" cy="785.7" r="8.4" class="g"/>
<circle cx="1089.1" cy="856.0" r="8.4" class="g"/>
<circle cx="1190.6" cy="545.1" r="8.4" class="g"/>
<circle cx="1081.2" cy="1551.0" r="8.4" class="g"/>
<circle cx="1110.1" cy="988.6" r="8.4" class="g"/>
<circle cx="1076.9" cy="1215.0" r="8.4" class="g"/>
<circle cx="1085.6" cy="1864.5" r="8.4" class="p"/>
<circle cx="1214.2" cy="588.0" r="8.4" class="g"/>
<circle cx="1081.2" cy="1052.0" r="8.4" class="g"/>
<circle cx="1092.6" cy="54.6" r="8.4" class="g"/>
<circle cx="1106.6" cy="1157.0" r="8.4" class="g"/>
<circle cx="1073.1" cy="2188.6" r="8.4" class="p"/>
<circle cx="1069.9" cy="1835.6" r="8.4" class="p"/>
<circle cx="1081.6" cy="2140.1" r="8.4" class="p"/>
<circle cx="1084.7" cy="1489.7" r="8.4" class="g"/>
<circle cx="1188.9" cy="141.2" r="8.4" class="p"/>
<circle cx="1097.0" cy="1439.0" r="8.4" class="g"/>
<circle cx="1107.6" cy="2030.1" r="8.4" class="p"/>
<circle cx="1108.4" cy="866.1" r="8.4" class="g"/>
<circle cx="1111.9" cy="1510.7" r="8.4" class="g"/>
<circle cx="1069.3" cy="1446.4" r="8.4" class="g"/>
<circle cx="1112.0" cy="872.3" r="8.4" class="g"/>
<circle cx="1180.6" cy="118.5" r="8.4" class="g"/>
<circle cx="1093.7" cy="724.0" r="8.4" class="p"/>
<circle cx="1211.6" cy="529.4" r="8.4" class="p"/>
<circle cx="1190.6" cy="173.6" r="8.4" class="p"/>
<circle cx="1069.9" cy="1661.5" r="8.4" class="g"/>
<circle cx="1108.6" cy="1143.2" r="8.4" class="g"/>
<circle cx="1187.1" cy="645.7" r="8.4" class="p"/>
<circle cx="1100.5" cy="1257.0" r="8.4" class="g"/>
<circle cx="1108.6" cy="843.3" r="8.4" class="g"/>
<circle cx="1181.0" cy="558.2" r="8.4" class="g"/>
<circle cx="1097.0" cy="1955.4" r="8.4" class="p"/>
<circle cx="1095.6" cy="332.3" r="8.4" class="g"/>
<circle cx="1078.6" cy="1423.2" r="8.4" class="g"/>
<circle cx="1182.7" cy="733.2" r="8.4" class="p"/>
<circle cx="1203.7" cy="356.5" r="8.4" class="g"/>
<circle cx="1102.2" cy="458.5" r="8.4" class="g"/>
<circle cx="1100.5" cy="808.5" r="8.4" class="g"/>
<circle cx="1095.4" cy="2014.7" r="8.4" class="p"/>
<circle cx="1074.2" cy="1003.8" r="8.4" class="g"/>
<circle cx="1105.4" cy="1998.5" r="8.4" class="p"/>
<circle cx="1099.1" cy="1040.0" r="8.4" class="g"/>
<circle cx="1091.7" cy="1272.7" r="8.4" class="g"/>
<circle cx="1099.6" cy="1299.0" r="8.4" class="g"/>
<circle cx="1071.6" cy="1315.6" r="8.4" class="g"/>
<circle cx="1077.7" cy="1332.2" r="8.4" class="g"/>
<circle cx="1086.8" cy="1375.4" r="8.4" class="g"/>
<circle cx="1209.0" cy="129.0" r="8.4" class="g"/>
<circle cx="1078.6" cy="746.3" r="8.4" class="g"/>
<circle cx="1085.6" cy="1172.7" r="8.4" class="g"/>
<circle cx="1081.2" cy="870.0" r="8.4" class="g"/>
<circle cx="1100.5" cy="1889.0" r="8.4" class="p"/>
<circle cx="1111.6" cy="2204.8" r="8.4" class="p"/>
<circle cx="1102.2" cy="1616.0" r="8.4" class="g"/>
<circle cx="1195.0" cy="551.2" r="8.4" class="g"/>
<circle cx="1069.9" cy="1179.7" r="8.4" class="g"/>
<circle cx="1104.7" cy="2117.0" r="8.4" class="p"/>
<circle cx="1215.6" cy="98.3" r="8.4" class="p"/>
<circle cx="1102.2" cy="1936.2" r="8.4" class="p"/>
<circle cx="1097.0" cy="1899.5" r="8.4" class="p"/>
<circle cx="1069.0" cy="707.0" r="8.4" class="p"/>
<circle cx="1097.0" cy="2178.5" r="8.4" class="p"/>
<circle cx="1079.5" cy="1060.7" r="8.4" class="g"/>
<circle cx="1105.7" cy="497.0" r="8.4" class="p"/>
<circle cx="1091.7" cy="1393.5" r="8.4" class="g"/>
<circle cx="1076.0" cy="1670.2" r="8.4" class="g"/>
<circle cx="1202.9" cy="245.3" r="8.4" class="g"/>
<circle cx="1204.6" cy="255.0" r="8.4" class="g"/>
<circle cx="1102.4" cy="2017.0" r="8.4" class="p"/>
<circle cx="1100.9" cy="1088.4" r="8.4" class="g"/>
<circle cx="1089.1" cy="1587.1" r="8.4" class="g"/>
<circle cx="1070.7" cy="1486.2" r="8.4" class="g"/>
<circle cx="1097.0" cy="1777.0" r="8.4" class="p"/>
<circle cx="1072.5" cy="1684.2" r="8.4" class="g"/>
<circle cx="1081.2" cy="1537.0" r="8.4" class="g"/>
<circle cx="1096.1" cy="471.6" r="8.4" class="p"/>
<circle cx="1100.8" cy="684.2" r="8.4" class="p"/>
<circle cx="1091.7" cy="1185.2" r="8.4" class="g"/>
<circle cx="1216.0" cy="309.2" r="8.4" class="g"/>
<circle cx="1098.7" cy="1710.5" r="8.4" class="g"/>
<circle cx="1094.4" cy="1318.2" r="8.4" class="g"/>
<circle cx="1077.7" cy="862.1" r="8.4" class="g"/>
<circle cx="1091.6" cy="2093.9" r="8.4" class="p"/>
<circle cx="1109.6" cy="1594.7" r="8.4" class="g"/>
<circle cx="1113.0" cy="1607.6" r="8.4" class="g"/>
<circle cx="1097.9" cy="1015.2" r="8.4" class="g"/>
<circle cx="1209.0" cy="111.5" r="8.4" class="p"/>
<circle cx="1069.9" cy="1729.7" r="8.4" class="g"/>
<circle cx="1203.7" cy="158.7" r="8.4" class="g"/>
<circle cx="1097.9" cy="73.9" r="8.4" class="g"/>
<circle cx="1087.1" cy="1646.3" r="8.4" class="g"/>
<circle cx="1200.2" cy="168.4" r="8.4" class="g"/>
<circle cx="1106.2" cy="2214.0" r="8.4" class="p"/>
<circle cx="1093.5" cy="1554.5" r="8.4" class="g"/>
<circle cx="1088.0" cy="901.4" r="8.4" class="g"/>
<circle cx="1102.5" cy="1826.9" r="8.4" class="p"/>
<circle cx="1109.2" cy="439.2" r="8.4" class="g"/>
<circle cx="1099.3" cy="2152.4" r="8.4" class="p"/>
<circle cx="1205.5" cy="248.0" r="8.4" class="p"/>
<circle cx="1101.6" cy="2194.0" r="8.4" class="p"/>
<circle cx="1086.8" cy="1514.1" r="8.4" class="g"/>
<circle cx="1087.8" cy="1507.7" r="8.4" class="g"/>
<circle cx="1205.5" cy="274.2" r="8.4" class="g"/>
<circle cx="1086.2" cy="2262.3" r="8.4" class="p"/>
<circle cx="1109.2" cy="798.8" r="8.4" class="p"/>
<circle cx="1109.6" cy="1388.3" r="8.4" class="g"/>
<circle cx="1071.6" cy="1221.1" r="8.4" class="g"/>
<circle cx="1071.2" cy="1362.5" r="8.4" class="g"/>
<circle cx="1072.5" cy="1212.4" r="8.4" class="g"/>
<circle cx="1100.0" cy="2100.1" r="8.4" class="p"/>
<circle cx="1107.5" cy="238.3" r="8.4" class="p"/>
<circle cx="1070.7" cy="726.2" r="8.4" class="p"/>
<circle cx="1180.1" cy="401.1" r="8.4" class="p"/>
<circle cx="1181.3" cy="127.4" r="8.4" class="g"/>
<circle cx="1083.1" cy="2181.7" r="8.4" class="p"/>
<circle cx="1089.3" cy="2200.9" r="8.4" class="p"/>
<circle cx="1085.4" cy="2105.5" r="8.4" class="p"/>
<circle cx="1078.1" cy="338.6" r="8.4" class="g"/>
<circle cx="1095.2" cy="1010.8" r="8.4" class="g"/>
<circle cx="1212.5" cy="656.3" r="8.4" class="p"/>
<circle cx="1208.1" cy="409.8" r="8.4" class="g"/>
<circle cx="1100.5" cy="1266.6" r="8.4" class="g"/>
<circle cx="1076.0" cy="1813.7" r="8.4" class="g"/>
<circle cx="1190.6" cy="520.6" r="8.4" class="p"/>
<circle cx="1073.4" cy="1377.7" r="8.4" class="g"/>
<circle cx="1087.4" cy="43.2" r="8.4" class="p"/>
<circle cx="1069.9" cy="1756.0" r="8.4" class="p"/>
<circle cx="1089.3" cy="2269.4" r="8.4" class="p"/>
<circle cx="1095.2" cy="42.4" r="8.4" class="p"/>
<circle cx="1087.4" cy="1518.6" r="8.4" class="g"/>
<circle cx="1072.3" cy="2020.8" r="8.4" class="p"/>
<circle cx="1219.1" cy="86.6" r="8.4" class="p"/>
<circle cx="1111.9" cy="1791.0" r="8.4" class="g"/>
<circle cx="1222.6" cy="1234.6" r="8.4" class="g"/>
<circle cx="1103.1" cy="1321.7" r="8.4" class="g"/>
<circle cx="1070.8" cy="2072.4" r="8.4" class="p"/>
<circle cx="1186.3" cy="108.0" r="8.4" class="p"/>
<circle cx="1071.6" cy="1797.1" r="8.4" class="p"/>
<circle cx="1104.2" cy="1907.6" r="8.4" class="p"/>
<circle cx="1095.2" cy="1166.6" r="8.4" class="g"/>
<circle cx="1196.7" cy="638.7" r="8.4" class="p"/>
<circle cx="1104.1" cy="1330.3" r="8.4" class="g"/>
<circle cx="1192.4" cy="286.5" r="8.4" class="g"/>
<circle cx="1072.6" cy="1636.7" r="8.4" class="g"/>
<circle cx="1099.6" cy="1674.6" r="8.4" class="g"/>
<circle cx="1078.7" cy="1562.5" r="8.4" class="g"/>
<circle cx="1190.6" cy="299.6" r="8.4" class="g"/>
<circle cx="1100.5" cy="1227.2" r="8.4" class="g"/>
<circle cx="1092.0" cy="1539.9" r="8.4" class="g"/>
<circle cx="1107.5" cy="966.2" r="8.4" class="g"/>
<circle cx="1097.0" cy="1396.1" r="8.4" class="g"/>
<circle cx="1101.4" cy="1101.0" r="8.4" class="g"/>
<circle cx="1219.1" cy="202.8" r="8.4" class="p"/>
<circle cx="1188.0" cy="354.7" r="8.4" class="p"/>
<circle cx="1112.4" cy="2191.7" r="8.4" class="p"/>
<circle cx="1221.2" cy="290.0" r="8.4" class="g"/>
<circle cx="1080.4" cy="736.7" r="8.4" class="p"/>
<circle cx="1079.5" cy="1083.5" r="8.4" class="g"/>
<circle cx="1100.8" cy="1623.8" r="8.4" class="g"/>
<circle cx="1181.9" cy="623.0" r="8.4" class="p"/>
<circle cx="1069.9" cy="1154.3" r="8.4" class="g"/>
<circle cx="1223.8" cy="280.3" r="8.4" class="g"/>
<circle cx="1098.9" cy="1672.1" r="8.4" class="g"/>
<circle cx="1077.4" cy="1788.2" r="8.4" class="p"/>
<circle cx="1111.0" cy="462.0" r="8.4" class="g"/>
<circle cx="1109.2" cy="739.3" r="8.4" class="p"/>
<circle cx="1079.5" cy="852.5" r="8.4" class="g"/>
<circle cx="1112.7" cy="1495.8" r="8.4" class="g"/>
<circle cx="1069.0" cy="1903.8" r="8.4" class="p"/>
<circle cx="1073.9" cy="2027.7" r="8.4" class="p"/>
<circle cx="1187.1" cy="344.2" r="8.4" class="g"/>
<circle cx="1071.4" cy="2065.6" r="8.4" class="p"/>
<circle cx="1102.6" cy="2039.8" r="8.4" class="p"/>
<circle cx="1112.7" cy="225.2" r="8.4" class="p"/>
<circle cx="1181.3" cy="510.1" r="8.4" class="g"/>
<circle cx="1223.8" cy="649.2" r="8.4" class="p"/>
<circle cx="1090.0" cy="2218.6" r="8.4" class="p"/>
<circle cx="1087.7" cy="1404.5" r="8.4" class="g"/>
<circle cx="1206.4" cy="554.7" r="8.4" class="p"/>
<circle cx="1070.2" cy="1590.1" r="8.4" class="g"/>
<circle cx="1181.0" cy="389.7" r="8.4" class="g"/>
<circle cx="1105.7" cy="433.5" r="8.4" class="p"/>
<circle cx="1189.7" cy="235.7" r="8.4" class="p"/>
<circle cx="1101.4" cy="1638.7" r="8.4" class="g"/>
<circle cx="1097.0" cy="1954.6" r="8.4" class="p"/>
<circle cx="1214.2" cy="277.7" r="8.4" class="g"/>
<circle cx="1214.0" cy="566.0" r="8.4" class="p"/>
<circle cx="1188.2" cy="304.8" r="8.4" class="g"/>
<circle cx="1069.0" cy="1262.2" r="8.4" class="g"/>
<circle cx="1200.2" cy="214.4" r="8.4" class="g"/>
<circle cx="1184.5" cy="678.1" r="8.4" class="g"/>
<circle cx="1100.5" cy="1798.0" r="8.4" class="p"/>
<circle cx="1102.2" cy="1337.5" r="8.4" class="g"/>
<circle cx="1078.5" cy="2267.9" r="8.4" class="p"/>
<circle cx="1073.9" cy="2198.6" r="8.4" class="p"/>
<circle cx="1110.1" cy="930.4" r="8.4" class="g"/>
<circle cx="1109.2" cy="76.5" r="8.4" class="g"/>
<circle cx="1207.2" cy="370.5" r="8.4" class="g"/>
<circle cx="1093.3" cy="1120.7" r="8.4" class="g"/>
<circle cx="1081.2" cy="476.0" r="8.4" class="p"/>
<circle cx="1100.5" cy="750.7" r="8.4" class="g"/>
<circle cx="1104.3" cy="1930.1" r="8.4" class="p"/>
<circle cx="1103.5" cy="972.3" r="8.4" class="g"/>
<circle cx="1181.9" cy="403.7" r="8.4" class="g"/>
<circle cx="1108.4" cy="1347.1" r="8.4" class="g"/>
<circle cx="1100.5" cy="1633.5" r="8.4" class="g"/>
<circle cx="1082.1" cy="703.5" r="8.4" class="p"/>
<circle cx="1075.1" cy="1460.0" r="8.4" class="g"/>
<circle cx="1204.3" cy="1237.7" r="8.4" class="g"/>
<circle cx="1096.2" cy="2000.8" r="8.4" class="p"/>
<circle cx="1196.7" cy="681.6" r="8.4" class="g"/>
<circle cx="1081.2" cy="1134.2" r="8.4" class="g"/>
<circle cx="1187.1" cy="258.5" r="8.4" class="g"/>
<circle cx="1095.9" cy="1427.0" r="8.4" class="g"/>
<circle cx="1216.9" cy="406.3" r="8.4" class="g"/>
<circle cx="1070.7" cy="1625.6" r="8.4" class="g"/>
<circle cx="1202.0" cy="367.0" r="8.4" class="g"/>
<circle cx="1109.1" cy="1697.9" r="8.4" class="g"/>
<circle cx="1086.2" cy="2033.1" r="8.4" class="p"/>
<circle cx="1102.2" cy="1720.5" r="8.4" class="g"/>
<circle cx="1111.0" cy="504.0" r="8.4" class="p"/>
<circle cx="1068.1" cy="1269.2" r="8.4" class="g"/>
<circle cx="1096.1" cy="1432.0" r="8.4" class="g"/>
<circle cx="1191.5" cy="620.3" r="8.4" class="p"/>
<circle cx="1071.4" cy="1749.5" r="8.4" class="p"/>
<circle cx="1076.0" cy="1850.5" r="8.4" class="p"/>
<circle cx="1209.0" cy="634.3" r="8.4" class="g"/>
<circle cx="1103.1" cy="2059.3" r="8.4" class="p"/>
<circle cx="1192.4" cy="536.4" r="8.4" class="g"/>
<circle cx="1197.6" cy="89.6" r="8.4" class="p"/>
<circle cx="1097.0" cy="2117.0" r="8.4" class="p"/>
<circle cx="1223.0" cy="665.0" r="8.4" class="p"/>
<circle cx="1084.7" cy="1622.1" r="8.4" class="g"/>
<circle cx="1186.2" cy="325.8" r="8.4" class="p"/>
<circle cx="1090.8" cy="1204.5" r="8.4" class="g"/>
<circle cx="1091.4" cy="1323.8" r="8.4" class="g"/>
<circle cx="1083.0" cy="1350.6" r="8.4" class="g"/>
<circle cx="1091.7" cy="1107.8" r="8.4" class="g"/>
<circle cx="1189.1" cy="272.5" r="8.4" class="g"/>
<circle cx="1208.1" cy="218.2" r="8.4" class="p"/>
<circle cx="1070.0" cy="2223.3" r="8.4" class="p"/>
<circle cx="1080.4" cy="1407.5" r="8.4" class="g"/>
<circle cx="1200.2" cy="196.4" r="8.4" class="g"/>
<circle cx="1085.7" cy="2168.8" r="8.4" class="p"/>
<circle cx="1086.5" cy="1917.0" r="8.4" class="p"/>
<circle cx="1110.8" cy="2110.9" r="8.4" class="p"/>
<circle cx="1083.0" cy="1500.2" r="8.4" class="g"/>
<circle cx="1072.3" cy="2136.3" r="8.4" class="p"/>
<circle cx="1221.2" cy="352.1" r="8.4" class="g"/>
<circle cx="1082.3" cy="2260.2" r="8.4" class="p"/>
<circle cx="1110.1" cy="2068.5" r="8.4" class="p"/>
<circle cx="1100.0" cy="1968.5" r="8.4" class="p"/>
<circle cx="1098.7" cy="500.5" r="8.4" class="p"/>
<circle cx="1089.1" cy="1283.2" r="8.4" class="g"/>
<circle cx="1084.2" cy="2107.5" r="8.4" class="p"/>
<circle cx="1072.5" cy="990.7" r="8.4" class="g"/>
<circle cx="1099.6" cy="1062.5" r="8.4" class="g"/>
<circle cx="1077.3" cy="1681.8" r="8.4" class="g"/>
<circle cx="1083.9" cy="2252.5" r="8.4" class="p"/>
<circle cx="1213.4" cy="574.0" r="8.4" class="p"/>
<circle cx="1099.6" cy="742.0" r="8.4" class="p"/>
<circle cx="1090.0" cy="1925.7" r="8.4" class="p"/>
<circle cx="1223.0" cy="581.9" r="8.4" class="g"/>
<circle cx="1200.5" cy="669.2" r="8.4" class="g"/>
<circle cx="1100.5" cy="1127.2" r="8.4" class="g"/>
<circle cx="1074.2" cy="975.0" r="8.4" class="g"/>
<circle cx="1090.0" cy="1369.9" r="8.4" class="g"/>
<circle cx="1090.9" cy="1243.0" r="8.4" class="g"/>
<circle cx="1105.7" cy="1690.4" r="8.4" class="g"/>
<circle cx="1196.7" cy="316.2" r="8.4" class="g"/>
<circle cx="1188.9" cy="319.7" r="8.4" class="p"/>
<circle cx="1079.5" cy="1806.7" r="8.4" class="p"/>
<circle cx="1218.6" cy="313.6" r="8.4" class="g"/>
<circle cx="1106.1" cy="1862.4" r="8.4" class="p"/>
<circle cx="1223.8" cy="630.0" r="8.4" class="p"/>
<circle cx="1111.9" cy="1383.0" r="8.4" class="g"/>
<circle cx="1223.8" cy="416.8" r="8.4" class="g"/>
<circle cx="1088.2" cy="1442.5" r="8.4" class="g"/>
<circle cx="1093.9" cy="2185.5" r="8.4" class="p"/>
<circle cx="1076.0" cy="801.5" r="8.4" class="g"/>
<circle cx="1072.1" cy="83.5" r="8.4" class="p"/>
<circle cx="1195.0" cy="199.9" r="8.4" class="p"/>
<circle cx="1080.0" cy="2043.1" r="8.4" class="p"/>
<circle cx="1108.4" cy="697.3" r="8.4" class="p"/>
<circle cx="1070.8" cy="2172.5" r="8.4" class="p"/>
<circle cx="1070.7" cy="1629.1" r="8.4" class="g"/>
<circle cx="1073.4" cy="1707.6" r="8.4" class="g"/>
<circle cx="1184.1" cy="636.9" r="8.4" class="p"/>
<circle cx="1076.0" cy="1695.6" r="8.4" class="g"/>
<circle cx="1083.9" cy="891.7" r="8.4" class="g"/>
<circle cx="1106.8" cy="1914.0" r="8.4" class="p"/>
<circle cx="1071.6" cy="2091.6" r="8.4" class="p"/>
<circle cx="1090.9" cy="1565.0" r="8.4" class="g"/>
<circle cx="1104.0" cy="1289.4" r="8.4" class="g"/>
<circle cx="1099.0" cy="1743.1" r="8.4" class="g"/>
<circle cx="1077.7" cy="1092.2" r="8.4" class="g"/>
<circle cx="1104.7" cy="2237.1" r="8.4" class="p"/>
<circle cx="1073.4" cy="49.4" r="8.4" class="p"/>
<circle cx="1216.9" cy="626.5" r="8.4" class="p"/>
<circle cx="1111.6" cy="2097.8" r="8.4" class="p"/>
<circle cx="1070.7" cy="45.0" r="8.4" class="p"/>
<circle cx="1082.5" cy="1420.6" r="8.4" class="g"/>
<circle cx="1107.5" cy="477.7" r="8.4" class="p"/>
<circle cx="1107.5" cy="448.0" r="8.4" class="g"/>
<circle cx="1093.5" cy="1354.1" r="8.4" class="g"/>
<circle cx="1087.4" cy="693.8" r="8.4" class="p"/>
<circle cx="1072.1" cy="465.1" r="8.4" class="p"/>
<circle cx="1095.2" cy="710.5" r="8.4" class="p"/>
<circle cx="1198.5" cy="388.0" r="8.4" class="p"/>
<circle cx="1075.7" cy="1885.0" r="8.4" class="p"/>
<circle cx="1201.1" cy="295.2" r="8.4" class="g"/>
<circle cx="1088.2" cy="134.8" r="8.4" class="g"/>
<circle cx="1079.5" cy="933.9" r="8.4" class="g"/>
<circle cx="1182.7" cy="568.7" r="8.4" class="p"/>
<circle cx="1069.9" cy="979.4" r="8.4" class="g"/>
<circle cx="1068.1" cy="794.5" r="8.4" class="p"/>
<circle cx="1195.6" cy="395.0" r="8.4" class="g"/>
<circle cx="1096.2" cy="2114.0" r="8.4" class="p"/>
<circle cx="1109.2" cy="1356.7" r="8.4" class="g"/>
<circle cx="1222.1" cy="270.7" r="8.4" class="g"/>
<circle cx="1079.5" cy="1648.4" r="8.4" class="g"/>
<circle cx="1096.0" cy="1472.2" r="8.4" class="g"/>
<circle cx="1202.0" cy="616.9" r="8.4" class="g"/>
<circle cx="1188.0" cy="609.9" r="8.4" class="p"/>
<circle cx="1084.7" cy="877.0" r="8.4" class="g"/>
<circle cx="1089.1" cy="1822.5" r="8.4" class="p"/>
<circle cx="1090.9" cy="909.4" r="8.4" class="g"/>
<circle cx="1090.0" cy="1704.4" r="8.4" class="g"/>
<circle cx="1184.5" cy="125.5" r="8.4" class="g"/>
<circle cx="1076.0" cy="717.5" r="8.4" class="p"/>
<circle cx="1102.7" cy="911.0" r="8.4" class="g"/>
<circle cx="1200.2" cy="672.0" r="8.4" class="g"/>
<circle cx="1099.6" cy="1217.6" r="8.4" class="g"/>
<circle cx="1212.5" cy="661.5" r="8.4" class="g"/>
<circle cx="1098.7" cy="1078.2" r="8.4" class="g"/>
<circle cx="1080.4" cy="1241.2" r="8.4" class="g"/>
<circle cx="1214.2" cy="69.5" r="8.4" class="p"/>
<circle cx="1103.9" cy="756.2" r="8.4" class="g"/>
<circle cx="1223.8" cy="138.1" r="8.4" class="g"/>
<circle cx="1088.2" cy="1577.2" r="8.4" class="g"/>
<circle cx="1073.4" cy="451.5" r="8.4" class="g"/>
<circle cx="1093.5" cy="1416.2" r="8.4" class="g"/>
<circle cx="1099.6" cy="1150.0" r="8.4" class="g"/>
<circle cx="1073.0" cy="303.1" r="8.4" class="g"/>
<circle cx="1104.5" cy="1575.4" r="8.4" class="g"/>
<circle cx="1097.0" cy="1869.7" r="8.4" class="p"/>
<circle cx="1185.4" cy="525.9" r="8.4" class="g"/>
<circle cx="1083.9" cy="2126.3" r="8.4" class="p"/>
<circle cx="1201.1" cy="607.2" r="8.4" class="g"/>
<circle cx="1086.2" cy="2087.8" r="8.4" class="p"/>
<circle cx="1107.5" cy="1276.2" r="8.4" class="g"/>
<circle cx="1100.0" cy="2158.6" r="8.4" class="p"/>
<circle cx="1069.0" cy="1843.5" r="8.4" class="p"/>
<circle cx="1076.9" cy="1327.0" r="8.4" class="g"/>
<circle cx="1087.4" cy="1677.2" r="8.4" class="g"/>
<circle cx="1068.1" cy="700.0" r="8.4" class="p"/>
<circle cx="1102.2" cy="765.6" r="8.4" class="g"/>
<circle cx="1069.0" cy="1130.7" r="8.4" class="g"/>
<circle cx="1182.7" cy="597.6" r="8.4" class="g"/>
<circle cx="1101.4" cy="1846.1" r="8.4" class="p"/>
<circle cx="1083.0" cy="819.0" r="8.4" class="g"/>
<circle cx="1221.2" cy="540.7" r="8.4" class="g"/>
<circle cx="1076.0" cy="380.6" r="8.4" class="g"/>
<circle cx="1097.5" cy="186.7" r="8.4" class="g"/>
<circle cx="1181.9" cy="131.6" r="8.4" class="g"/>
<circle cx="1088.6" cy="532.9" r="8.4" class="p"/>
<circle cx="1081.2" cy="1833.0" r="8.4" class="p"/>
<circle cx="1111.9" cy="819.8" r="8.4" class="g"/>
<circle cx="1090.2" cy="1340.0" r="8.4" class="g"/>
<circle cx="1069.3" cy="2249.4" r="8.4" class="p"/>
<circle cx="1089.1" cy="775.2" r="8.4" class="g"/>
<circle cx="1209.5" cy="220.9" r="8.4" class="p"/>
<circle cx="1087.4" cy="1739.4" r="8.4" class="g"/>
<circle cx="1073.9" cy="2076.2" r="8.4" class="p"/>
<circle cx="1109.0" cy="691.7" r="8.4" class="p"/>
<circle cx="1205.5" cy="207.7" r="8.4" class="g"/>
<circle cx="1105.7" cy="1082.6" r="8.4" class="g"/>
<circle cx="1084.7" cy="1658.9" r="8.4" class="g"/>
<circle cx="1184.5" cy="251.5" r="8.4" class="g"/>
<circle cx="1077.7" cy="1474.0" r="8.4" class="g"/>
<circle cx="1093.5" cy="484.7" r="8.4" class="p"/>
<circle cx="1084.7" cy="1599.4" r="8.4" class="g"/>
<circle cx="1218.3" cy="55.5" r="8.4" class="g"/>
<circle cx="1074.3" cy="1610.9" r="8.4" class="g"/>
<circle cx="1075.1" cy="1020.5" r="8.4" class="g"/>
<circle cx="1069.3" cy="2004.7" r="8.4" class="p"/>
<circle cx="1076.0" cy="962.6" r="8.4" class="g"/>
<circle cx="1111.0" cy="1732.4" r="8.4" class="g"/>
<circle cx="1074.2" cy="1360.2" r="8.4" class="g"/>
<circle cx="1192.4" cy="374.0" r="8.4" class="g"/>
<circle cx="1080.4" cy="952.2" r="8.4" class="g"/>
<circle cx="1076.0" cy="1402.2" r="8.4" class="g"/>
<circle cx="1222.1" cy="506.6" r="8.4" class="p"/>
<circle cx="1095.4" cy="1984.6" r="8.4" class="p"/>
<circle cx="1197.6" cy="643.1" r="8.4" class="g"/>
<circle cx="1069.0" cy="1894.7" r="8.4" class="p"/>
<circle cx="1093.5" cy="812.0" r="8.4" class="g"/>
<circle cx="1101.4" cy="857.7" r="8.4" class="g"/>
<circle cx="1109.2" cy="1115.0" r="8.4" class="g"/>
<circle cx="1111.6" cy="2084.7" r="8.4" class="p"/>
<circle cx="1068.1" cy="1136.8" r="8.4" class="g"/>
<circle cx="1112.7" cy="1302.5" r="8.4" class="g"/>
<circle cx="1096.5" cy="1533.5" r="8.4" class="g"/>
<circle cx="1082.4" cy="1585.1" r="8.4" class="g"/>
<circle cx="1188.0" cy="241.8" r="8.4" class="p"/>
<circle cx="1070.8" cy="2062.4" r="8.4" class="p"/>
<circle cx="1097.0" cy="1596.7" r="8.4" class="g"/>
<circle cx="1069.5" cy="1249.7" r="8.4" class="g"/>
<circle cx="1074.2" cy="1768.2" r="8.4" class="p"/>
<circle cx="1198.5" cy="363.5" r="8.4" class="g"/>
<circle cx="1097.9" cy="1024.0" r="8.4" class="g"/>
<circle cx="1088.2" cy="924.2" r="8.4" class="g"/>
<circle cx="1091.7" cy="1528.2" r="8.4" class="g"/>
<circle cx="1094.4" cy="490.0" r="8.4" class="p"/>
<circle cx="1103.1" cy="1415.3" r="8.4" class="g"/>
<circle cx="1093.5" cy="841.1" r="8.4" class="g"/>
<circle cx="1205.5" cy="265.5" r="8.4" class="g"/>
<circle cx="1101.3" cy="2226.8" r="8.4" class="p"/>
<circle cx="1086.5" cy="148.2" r="8.4" class="p"/>
<circle cx="1112.4" cy="2023.9" r="8.4" class="p"/>
<circle cx="1218.6" cy="60.7" r="8.4" class="p"/>
<circle cx="1074.9" cy="1001.3" r="8.4" class="g"/>
<circle cx="1100.5" cy="729.7" r="8.4" class="g"/>
<circle cx="1091.3" cy="1762.4" r="8.4" class="p"/>
<circle cx="1107.5" cy="1372.5" r="8.4" class="g"/>
<circle cx="1070.7" cy="1505.5" r="8.4" class="g"/>
<circle cx="1068.1" cy="1172.7" r="8.4" class="g"/>
<circle cx="1089.4" cy="1391.6" r="8.4" class="g"/>
<circle cx="1095.2" cy="882.2" r="8.4" class="g"/>
<circle cx="1073.4" cy="1434.6" r="8.4" class="g"/>
<circle cx="1104.9" cy="824.0" r="8.4" class="g"/>
<circle cx="1111.0" cy="1579.0" r="8.4" class="g"/>
<circle cx="1100.4" cy="833.6" r="8.4" class="g"/>
<circle cx="1104.0" cy="1665.0" r="8.4" class="g"/>
<circle cx="1106.3" cy="1169.0" r="8.4" class="g"/>
<circle cx="1096.2" cy="2243.3" r="8.4" class="p"/>
<circle cx="1077.7" cy="1118.5" r="8.4" class="g"/>
<circle cx="1095.6" cy="1552.8" r="8.4" class="g"/>
<circle cx="1105.7" cy="759.5" r="8.4" class="g"/>
<circle cx="1072.5" cy="1547.5" r="8.4" class="g"/>
<circle cx="1072.5" cy="1887.2" r="8.4" class="p"/>
<circle cx="1108.4" cy="1253.5" r="8.4" class="g"/>
<circle cx="1110.1" cy="1031.0" r="8.4" class="g"/>
<circle cx="1190.8" cy="166.1" r="8.4" class="g"/>
<circle cx="1098.5" cy="2166.3" r="8.4" class="p"/>
<circle cx="1100.5" cy="714.0" r="8.4" class="p"/>
<circle cx="1205.7" cy="91.9" r="8.4" class="p"/>
<circle cx="1080.8" cy="2007.7" r="8.4" class="p"/>
<circle cx="1102.4" cy="2207.5" r="8.4" class="p"/>
<circle cx="1112.7" cy="1686.9" r="8.4" class="g"/>
<circle cx="1076.0" cy="1247.4" r="8.4" class="g"/>
<circle cx="1209.9" cy="675.5" r="8.4" class="g"/>
<circle cx="1223.8" cy="115.9" r="8.4" class="g"/>
<circle cx="1083.9" cy="591.1" r="8.4" class="p"/>
<circle cx="1091.6" cy="2154.7" r="8.4" class="p"/>
<circle cx="1076.0" cy="781.3" r="8.4" class="g"/>
<circle cx="1204.6" cy="594.1" r="8.4" class="g"/>
<circle cx="1186.2" cy="157.9" r="8.4" class="g"/>
<circle cx="1095.4" cy="2043.1" r="8.4" class="p"/>
<circle cx="1107.5" cy="940.0" r="8.4" class="g"/>
<circle cx="1075.1" cy="1612.5" r="8.4" class="g"/>
<circle cx="1110.1" cy="1208.9" r="8.4" class="g"/>
<circle cx="1196.7" cy="212.1" r="8.4" class="g"/>
<circle cx="1090.8" cy="1923.7" r="8.4" class="p"/>
<circle cx="1112.7" cy="1017.8" r="8.4" class="g"/>
<circle cx="1068.1" cy="1292.9" r="8.4" class="g"/>
<circle cx="1112.6" cy="1794.7" r="8.4" class="p"/>
<circle cx="1221.2" cy="335.5" r="8.4" class="g"/>
<circle cx="1082.1" cy="1875.0" r="8.4" class="p"/>
<circle cx="1109.2" cy="1572.0" r="8.4" class="g"/>
<circle cx="1068.1" cy="1279.7" r="8.4" class="g"/>
<circle cx="1111.0" cy="429.1" r="8.4" class="g"/>
<circle cx="1072.5" cy="487.4" r="8.4" class="p"/>
<circle cx="1095.2" cy="947.0" r="8.4" class="g"/>
<circle cx="1068.1" cy="719.2" r="8.4" class="p"/>
<circle cx="1070.7" cy="1451.2" r="8.4" class="g"/>
<circle cx="1109.2" cy="792.7" r="8.4" class="p"/>
<circle cx="1196.7" cy="223.5" r="8.4" class="p"/>
<circle cx="1098.7" cy="1456.5" r="8.4" class="g"/>
<circle cx="1221.2" cy="410.7" r="8.4" class="g"/>
<circle cx="1111.9" cy="1069.5" r="8.4" class="g"/>
<circle cx="1076.0" cy="846.4" r="8.4" class="g"/>
<circle cx="1089.0" cy="769.1" r="8.4" class="g"/>
<circle cx="1110.9" cy="1820.5" r="8.4" class="p"/>
<circle cx="1077.0" cy="2146.3" r="8.4" class="p"/>
<circle cx="1076.0" cy="1034.5" r="8.4" class="g"/>
<circle cx="1217.7" cy="561.7" r="8.4" class="p"/>
<circle cx="1087.7" cy="2174.8" r="8.4" class="p"/>
<circle cx="1093.1" cy="426.5" r="8.4" class="g"/>
<circle cx="1087.4" cy="1097.5" r="8.4" class="g"/>
<circle cx="1086.5" cy="1463.5" r="8.4" class="g"/>
<circle cx="1073.4" cy="1105.3" r="8.4" class="g"/>
<circle cx="1193.2" cy="176.2" r="8.4" class="p"/>
<circle cx="1202.0" cy="284.7" r="8.4" class="g"/>
<circle cx="1108.4" cy="1723.6" r="8.4" class="g"/>
<circle cx="1102.2" cy="1566.7" r="8.4" class="g"/>
<circle cx="1105.4" cy="2266.4" r="8.4" class="p"/>
<circle cx="1209.0" cy="654.5" r="8.4" class="p"/>
<circle cx="1069.3" cy="2037.0" r="8.4" class="p"/>
<circle cx="1193.2" cy="571.4" r="8.4" class="g"/>
<circle cx="1081.6" cy="2053.9" r="8.4" class="p"/>
<circle cx="1112.7" cy="1858.3" r="8.4" class="p"/>
<circle cx="1069.3" cy="2220.4" r="8.4" class="p"/>
<circle cx="1095.2" cy="1224.6" r="8.4" class="g"/>
<circle cx="1083.9" cy="1962.3" r="8.4" class="p"/>
<circle cx="1077.3" cy="1191.6" r="8.4" class="g"/>
<circle cx="1091.7" cy="826.2" r="8.4" class="g"/>
<circle cx="1109.2" cy="1642.2" r="8.4" class="g"/>
<circle cx="1202.9" cy="658.0" r="8.4" class="p"/>
<circle cx="1069.3" cy="2010.8" r="8.4" class="p"/>
<circle cx="1219.5" cy="442.4" r="8.4" class="g"/>
<circle cx="1182.3" cy="204.8" r="8.4" class="p"/>
<circle cx="1216.0" cy="579.2" r="8.4" class="p"/>
<circle cx="1083.9" cy="975.9" r="8.4" class="g"/>
<circle cx="1070.7" cy="1386.5" r="8.4" class="g"/>
<circle cx="1086.4" cy="2055.9" r="8.4" class="p"/>
<circle cx="1099.6" cy="837.6" r="8.4" class="g"/>
<circle cx="1196.7" cy="192.9" r="8.4" class="g"/>
<circle cx="1107.5" cy="1542.2" r="8.4" class="g"/>
<circle cx="1105.7" cy="1558.0" r="8.4" class="g"/>
<circle cx="1080.4" cy="830.6" r="8.4" class="g"/>
<circle cx="1111.0" cy="1603.4" r="8.4" class="g"/>
<circle cx="1107.5" cy="1949.3" r="8.4" class="p"/>
<circle cx="1199.4" cy="549.5" r="8.4" class="p"/>
<circle cx="1085.3" cy="1123.9" r="8.4" class="g"/>
<circle cx="1077.4" cy="788.5" r="8.4" class="g"/>
<circle cx="1107.5" cy="1364.6" r="8.4" class="g"/>
<circle cx="1181.0" cy="231.9" r="8.4" class="p"/>
<circle cx="1088.6" cy="1872.1" r="8.4" class="p"/>
<circle cx="1072.1" cy="1065.8" r="8.4" class="g"/>
<circle cx="1097.0" cy="1651.9" r="8.4" class="g"/>
<circle cx="1109.2" cy="813.7" r="8.4" class="g"/>
<circle cx="1202.9" cy="144.7" r="8.4" class="p"/>
<circle cx="1107.5" cy="849.9" r="8.4" class="g"/>
<circle cx="1082.7" cy="1469.0" r="8.4" class="g"/>
<circle cx="1093.5" cy="1341.9" r="8.4" class="g"/>
<circle cx="1076.0" cy="1230.7" r="8.4" class="g"/>
<circle cx="1104.9" cy="1467.0" r="8.4" class="g"/>
<circle cx="1093.5" cy="889.2" r="8.4" class="g"/>
<circle cx="1198.5" cy="347.7" r="8.4" class="g"/>
<circle cx="1069.9" cy="1945.8" r="8.4" class="p"/>
<circle cx="1097.0" cy="1726.2" r="8.4" class="g"/>
<circle cx="1091.7" cy="960.1" r="8.4" class="g"/>
<circle cx="1223.1" cy="233.8" r="8.4" class="p"/>
<circle cx="1074.2" cy="483.0" r="8.4" class="p"/>
<circle cx="1098.7" cy="997.7" r="8.4" class="g"/>
<circle cx="1104.0" cy="1182.3" r="8.4" class="g"/>
<circle cx="1099.6" cy="904.6" r="8.4" class="g"/>
<circle cx="1101.0" cy="1481.9" r="8.4" class="g"/>
<circle cx="1205.5" cy="122.0" r="8.4" class="g"/>
<circle cx="1182.7" cy="306.6" r="8.4" class="g"/>
<circle cx="1095.2" cy="1745.5" r="8.4" class="g"/>
<circle cx="1080.8" cy="1978.5" r="8.4" class="p"/>
<circle cx="1109.2" cy="1197.2" r="8.4" class="g"/>
<circle cx="1188.2" cy="375.7" r="8.4" class="g"/>
</g>
<g clip-path="url(#clipM)">
<circle cx="1408.6" cy="758.6" r="8.4" class="g"/>
<circle cx="1466.1" cy="2001.2" r="8.4" class="p"/>
<circle cx="1331.6" cy="167.5" r="8.4" class="g"/>
<circle cx="1303.6" cy="1516.0" r="8.4" class="g"/>
<circle cx="1460.2" cy="1677.2" r="8.4" class="g"/>
<circle cx="1462.0" cy="1581.0" r="8.4" class="g"/>
<circle cx="1434.9" cy="1845.2" r="8.4" class="p"/>
<circle cx="1409.1" cy="1573.7" r="8.4" class="g"/>
<circle cx="1406.9" cy="1362.0" r="8.4" class="g"/>
<circle cx="1460.2" cy="332.0" r="8.4" class="g"/>
<circle cx="1405.1" cy="1388.3" r="8.4" class="g"/>
<circle cx="1458.0" cy="59.6" r="8.4" class="p"/>
<circle cx="1351.7" cy="1141.2" r="8.4" class="g"/>
<circle cx="1324.7" cy="1939.8" r="8.4" class="p"/>
<circle cx="1330.7" cy="1770.0" r="8.4" class="p"/>
<circle cx="1463.7" cy="1545.7" r="8.4" class="g"/>
<circle cx="1456.7" cy="54.6" r="8.4" class="g"/>
<circle cx="1322.9" cy="1008.2" r="8.4" class="g"/>
<circle cx="1406.9" cy="456.3" r="8.4" class="g"/>
<circle cx="1461.0" cy="962.6" r="8.4" class="g"/>
<circle cx="1302.7" cy="901.5" r="8.4" class="g"/>
<circle cx="1297.5" cy="1173.6" r="8.4" class="g"/>
<circle cx="1355.1" cy="1143.2" r="8.4" class="g"/>
<circle cx="1404.8" cy="1972.2" r="8.4" class="p"/>
<circle cx="1332.0" cy="920.7" r="8.4" class="g"/>
<circle cx="1384.1" cy="616.0" r="8.4" class="g"/>
<circle cx="1464.6" cy="257.6" r="8.4" class="g"/>
<circle cx="1461.1" cy="1577.2" r="8.4" class="g"/>
<circle cx="1433.9" cy="2006.7" r="8.4" class="p"/>
<circle cx="1378.7" cy="543.4" r="8.4" class="g"/>
<circle cx="1384.1" cy="525.9" r="8.4" class="g"/>
<circle cx="1297.5" cy="878.7" r="8.4" class="g"/>
<circle cx="1298.8" cy="2268.2" r="8.4" class="p"/>
<circle cx="1456.6" cy="2075.0" r="8.4" class="p"/>
<circle cx="1305.9" cy="591.0" r="8.4" class="p"/>
<circle cx="1409.7" cy="1330.3" r="8.4" class="g"/>
<circle cx="1382.7" cy="1237.7" r="8.4" class="g"/>
<circle cx="1456.7" cy="1462.5" r="8.4" class="g"/>
<circle cx="1455.9" cy="1638.7" r="8.4" class="g"/>
<circle cx="1358.7" cy="1872.1" r="8.4" class="p"/>
<circle cx="1491.7" cy="1124.6" r="8.4" class="g"/>
<circle cx="1462.0" cy="381.0" r="8.4" class="g"/>
<circle cx="1465.5" cy="612.5" r="8.4" class="p"/>
<circle cx="1353.1" cy="930.7" r="8.4" class="g"/>
<circle cx="1355.2" cy="1056.3" r="8.4" class="g"/>
<circle cx="1433.1" cy="1231.6" r="8.4" class="g"/>
<circle cx="1350.0" cy="1263.1" r="8.4" class="g"/>
<circle cx="1432.3" cy="2055.4" r="8.4" class="p"/>
<circle cx="1383.3" cy="620.8" r="8.4" class="p"/>
<circle cx="1410.4" cy="1121.1" r="8.4" class="g"/>
<circle cx="1518.8" cy="170.1" r="8.4" class="p"/>
<circle cx="1406.0" cy="1433.7" r="8.4" class="g"/>
<circle cx="1378.9" cy="335.5" r="8.4" class="g"/>
<circle cx="1330.4" cy="1756.0" r="8.4" class="p"/>
<circle cx="1434.7" cy="2100.9" r="8.4" class="p"/>
<circle cx="1295.8" cy="724.0" r="8.4" class="p"/>
<circle cx="1432.3" cy="2221.0" r="8.4" class="p"/>
<circle cx="1462.0" cy="1917.0" r="8.4" class="p"/>
<circle cx="1325.5" cy="849.9" r="8.4" class="g"/>
<circle cx="1300.1" cy="64.2" r="8.4" class="g"/>
<circle cx="1300.1" cy="348.6" r="8.4" class="g"/>
<circle cx="1410.4" cy="1390.0" r="8.4" class="g"/>
<circle cx="1462.0" cy="1623.0" r="8.4" class="g"/>
<circle cx="1353.5" cy="1890.7" r="8.4" class="p"/>
<circle cx="1357.9" cy="1501.1" r="8.4" class="g"/>
<circle cx="1462.0" cy="1477.5" r="8.4" class="g"/>
<circle cx="1403.4" cy="111.5" r="8.4" class="p"/>
<circle cx="1404.2" cy="1131.6" r="8.4" class="g"/>
<circle cx="1323.0" cy="1772.1" r="8.4" class="p"/>
<circle cx="1459.0" cy="2134.7" r="8.4" class="p"/>
<circle cx="1402.5" cy="745.5" r="8.4" class="g"/>
<circle cx="1328.7" cy="2097.0" r="8.4" class="p"/>
<circle cx="1463.3" cy="1739.9" r="8.4" class="g"/>
<circle cx="1328.1" cy="1957.2" r="8.4" class="p"/>
<circle cx="1406.9" cy="1278.9" r="8.4" class="g"/>
<circle cx="1327.1" cy="2194.4" r="8.4" class="p"/>
<circle cx="1465.5" cy="1714.0" r="8.4" class="g"/>
<circle cx="1305.4" cy="164.0" r="8.4" class="g"/>
<circle cx="1490.8" cy="1606.4" r="8.4" class="g"/>
<circle cx="1464.6" cy="1543.1" r="8.4" class="g"/>
<circle cx="1357.3" cy="147.9" r="8.4" class="p"/>
<circle cx="1460.2" cy="846.4" r="8.4" class="g"/>
<circle cx="1462.0" cy="1493.2" r="8.4" class="g"/>
<circle cx="1435.4" cy="2213.2" r="8.4" class="p"/>
<circle cx="1463.9" cy="1691.5" r="8.4" class="g"/>
<circle cx="1429.6" cy="1505.5" r="8.4" class="g"/>
<circle cx="1462.7" cy="1472.2" r="8.4" class="g"/>
<circle cx="1298.4" cy="1108.0" r="8.4" class="g"/>
<circle cx="1462.0" cy="75.6" r="8.4" class="g"/>
<circle cx="1324.6" cy="1751.6" r="8.4" class="p"/>
<circle cx="1458.1" cy="1049.7" r="8.4" class="g"/>
<circle cx="1404.2" cy="97.5" r="8.4" class="p"/>
<circle cx="1461.5" cy="943.3" r="8.4" class="g"/>
<circle cx="1352.3" cy="1901.1" r="8.4" class="p"/>
<circle cx="1456.7" cy="1742.0" r="8.4" class="g"/>
<circle cx="1305.1" cy="2233.6" r="8.4" class="p"/>
<circle cx="1305.4" cy="1211.5" r="8.4" class="g"/>
<circle cx="1408.6" cy="574.9" r="8.4" class="p"/>
<circle cx="1298.4" cy="552.1" r="8.4" class="g"/>
<circle cx="1380.6" cy="581.0" r="8.4" class="g"/>
<circle cx="1467.2" cy="1680.7" r="8.4" class="g"/>
<circle cx="1461.1" cy="940.0" r="8.4" class="g"/>
<circle cx="1460.2" cy="1735.0" r="8.4" class="g"/>
<circle cx="1323.7" cy="351.2" r="8.4" class="g"/>
<circle cx="1376.2" cy="681.6" r="8.4" class="g"/>
<circle cx="1358.7" cy="1273.6" r="8.4" class="g"/>
<circle cx="1456.7" cy="76.5" r="8.4" class="g"/>
<circle cx="1437.5" cy="1910.0" r="8.4" class="p"/>
<circle cx="1302.7" cy="728.0" r="8.4" class="p"/>
<circle cx="1412.1" cy="396.7" r="8.4" class="g"/>
<circle cx="1456.7" cy="1276.2" r="8.4" class="g"/>
<circle cx="1326.4" cy="1932.7" r="8.4" class="p"/>
<circle cx="1410.4" cy="1164.0" r="8.4" class="g"/>
<circle cx="1492.1" cy="645.7" r="8.4" class="p"/>
<circle cx="1295.7" cy="230.5" r="8.4" class="p"/>
<circle cx="1463.7" cy="1451.2" r="8.4" class="g"/>
<circle cx="1485.6" cy="471.6" r="8.4" class="p"/>
<circle cx="1466.4" cy="821.0" r="8.4" class="g"/>
<circle cx="1434.9" cy="985.5" r="8.4" class="g"/>
<circle cx="1331.6" cy="1923.1" r="8.4" class="p"/>
<circle cx="1409.5" cy="1283.2" r="8.4" class="g"/>
<circle cx="1324.4" cy="1765.7" r="8.4" class="p"/>
<circle cx="1332.5" cy="1949.3" r="8.4" class="p"/>
<circle cx="1402.5" cy="1332.2" r="8.4" class="g"/>
<circle cx="1462.9" cy="1745.5" r="8.4" class="g"/>
<circle cx="1459.4" cy="857.7" r="8.4" class="g"/>
<circle cx="1304.5" cy="1609.9" r="8.4" class="g"/>
<circle cx="1436.1" cy="1790.6" r="8.4" class="g"/>
<circle cx="1357.0" cy="1085.2" r="8.4" class="g"/>
<circle cx="1297.5" cy="56.4" r="8.4" class="g"/>
<circle cx="1437.0" cy="2062.5" r="8.4" class="p"/>
<circle cx="1412.1" cy="99.2" r="8.4" class="p"/>
<circle cx="1358.7" cy="994.2" r="8.4" class="g"/>
<circle cx="1376.2" cy="672.0" r="8.4" class="g"/>
<circle cx="1407.7" cy="1293.7" r="8.4" class="g"/>
<circle cx="1410.4" cy="1208.3" r="8.4" class="g"/>
<circle cx="1411.9" cy="2024.0" r="8.4" class="p"/>
<circle cx="1411.2" cy="1367.2" r="8.4" class="g"/>
<circle cx="1330.7" cy="1027.5" r="8.4" class="g"/>
<circle cx="1405.6" cy="1748.6" r="8.4" class="p"/>
<circle cx="1460.2" cy="1482.7" r="8.4" class="g"/>
<circle cx="1406.0" cy="1304.2" r="8.4" class="g"/>
<circle cx="1459.4" cy="483.9" r="8.4" class="p"/>
<circle cx="1327.1" cy="2204.6" r="8.4" class="p"/>
<circle cx="1406.0" cy="1337.5" r="8.4" class="g"/>
<circle cx="1459.4" cy="374.8" r="8.4" class="g"/>
<circle cx="1405.1" cy="1372.5" r="8.4" class="g"/>
<circle cx="1375.9" cy="70.4" r="8.4" class="p"/>
<circle cx="1411.2" cy="1642.2" r="8.4" class="g"/>
<circle cx="1331.0" cy="1965.9" r="8.4" class="p"/>
<circle cx="1331.6" cy="1632.6" r="8.4" class="g"/>
<circle cx="1405.6" cy="2033.4" r="8.4" class="p"/>
<circle cx="1463.7" cy="700.0" r="8.4" class="p"/>
<circle cx="1381.5" cy="115.0" r="8.4" class="g"/>
<circle cx="1357.0" cy="959.6" r="8.4" class="g"/>
<circle cx="1385.0" cy="555.6" r="8.4" class="p"/>
<circle cx="1463.7" cy="1990.2" r="8.4" class="p"/>
<circle cx="1403.4" cy="875.2" r="8.4" class="g"/>
<circle cx="1406.0" cy="791.0" r="8.4" class="p"/>
<circle cx="1432.6" cy="500.5" r="8.4" class="p"/>
<circle cx="1458.5" cy="1665.0" r="8.4" class="g"/>
<circle cx="1383.2" cy="305.7" r="8.4" class="g"/>
<circle cx="1332.5" cy="1763.0" r="8.4" class="p"/>
<circle cx="1457.4" cy="1994.2" r="8.4" class="p"/>
<circle cx="1405.1" cy="104.5" r="8.4" class="p"/>
<circle cx="1462.9" cy="1617.7" r="8.4" class="g"/>
<circle cx="1406.4" cy="2091.5" r="8.4" class="p"/>
<circle cx="1403.7" cy="144.7" r="8.4" class="p"/>
<circle cx="1458.5" cy="888.7" r="8.4" class="g"/>
<circle cx="1351.7" cy="1880.2" r="8.4" class="p"/>
<circle cx="1353.5" cy="1855.7" r="8.4" class="p"/>
<circle cx="1464.6" cy="1052.0" r="8.4" class="g"/>
<circle cx="1456.7" cy="1594.1" r="8.4" class="g"/>
<circle cx="1461.1" cy="277.4" r="8.4" class="g"/>
<circle cx="1375.4" cy="558.2" r="8.4" class="g"/>
<circle cx="1487.3" cy="199.3" r="8.4" class="p"/>
<circle cx="1322.9" cy="1794.5" r="8.4" class="p"/>
<circle cx="1403.4" cy="108.0" r="8.4" class="p"/>
<circle cx="1456.7" cy="1536.7" r="8.4" class="g"/>
<circle cx="1405.1" cy="1414.5" r="8.4" class="g"/>
<circle cx="1512.7" cy="281.2" r="8.4" class="g"/>
<circle cx="1379.7" cy="603.7" r="8.4" class="g"/>
<circle cx="1327.9" cy="2197.5" r="8.4" class="p"/>
<circle cx="1409.5" cy="1379.5" r="8.4" class="g"/>
<circle cx="1459.4" cy="383.6" r="8.4" class="p"/>
<circle cx="1348.2" cy="1838.2" r="8.4" class="p"/>
<circle cx="1403.4" cy="1386.5" r="8.4" class="g"/>
<circle cx="1381.1" cy="153.2" r="8.4" class="g"/>
<circle cx="1410.4" cy="1311.2" r="8.4" class="g"/>
<circle cx="1402.8" cy="1410.9" r="8.4" class="g"/>
<circle cx="1378.0" cy="212.1" r="8.4" class="g"/>
<circle cx="1461.1" cy="186.7" r="8.4" class="g"/>
<circle cx="1410.4" cy="870.0" r="8.4" class="g"/>
<circle cx="1432.2" cy="1215.0" r="8.4" class="g"/>
<circle cx="1383.2" cy="607.2" r="8.4" class="g"/>
<circle cx="1410.3" cy="2178.7" r="8.4" class="p"/>
<circle cx="1461.6" cy="1059.4" r="8.4" class="g"/>
<circle cx="1437.1" cy="225.2" r="8.4" class="p"/>
<circle cx="1380.6" cy="241.0" r="8.4" class="p"/>
<circle cx="1512.7" cy="178.0" r="8.4" class="p"/>
<circle cx="1408.6" cy="1079.1" r="8.4" class="g"/>
<circle cx="1437.7" cy="2059.2" r="8.4" class="p"/>
<circle cx="1327.2" cy="319.7" r="8.4" class="p"/>
<circle cx="1384.1" cy="377.5" r="8.4" class="g"/>
<circle cx="1461.3" cy="2082.1" r="8.4" class="p"/>
<circle cx="1460.2" cy="1538.7" r="8.4" class="g"/>
<circle cx="1407.3" cy="1111.0" r="8.4" class="g"/>
<circle cx="1492.1" cy="798.0" r="8.4" class="p"/>
<circle cx="1433.1" cy="1021.3" r="8.4" class="g"/>
<circle cx="1327.9" cy="2049.4" r="8.4" class="p"/>
<circle cx="1297.1" cy="532.5" r="8.4" class="p"/>
<circle cx="1463.7" cy="1726.2" r="8.4" class="g"/>
<circle cx="1515.0" cy="561.7" r="8.4" class="p"/>
<circle cx="1456.6" cy="1978.5" r="8.4" class="p"/>
<circle cx="1455.9" cy="685.1" r="8.4" class="p"/>
<circle cx="1463.9" cy="1530.2" r="8.4" class="g"/>
<circle cx="1404.6" cy="1887.7" r="8.4" class="p"/>
<circle cx="1492.6" cy="833.2" r="8.4" class="g"/>
<circle cx="1413.0" cy="1300.7" r="8.4" class="g"/>
<circle cx="1325.5" cy="1780.5" r="8.4" class="p"/>
<circle cx="1301.0" cy="639.2" r="8.4" class="p"/>
<circle cx="1382.4" cy="138.6" r="8.4" class="g"/>
<circle cx="1332.1" cy="982.0" r="8.4" class="g"/>
<circle cx="1464.0" cy="698.2" r="8.4" class="p"/>
<circle cx="1434.7" cy="2020.9" r="8.4" class="p"/>
<circle cx="1348.2" cy="1166.6" r="8.4" class="g"/>
<circle cx="1431.5" cy="2188.1" r="8.4" class="p"/>
<circle cx="1483.0" cy="487.4" r="8.4" class="p"/>
<circle cx="1304.5" cy="406.3" r="8.4" class="g"/>
<circle cx="1403.4" cy="454.1" r="8.4" class="g"/>
<circle cx="1305.1" cy="2250.9" r="8.4" class="p"/>
<circle cx="1463.7" cy="1658.0" r="8.4" class="g"/>
<circle cx="1456.1" cy="678.8" r="8.4" class="p"/>
<circle cx="1331.1" cy="545.6" r="8.4" class="g"/>
<circle cx="1323.7" cy="1257.0" r="8.4" class="g"/>
<circle cx="1357.0" cy="1134.2" r="8.4" class="g"/>
<circle cx="1433.3" cy="882.2" r="8.4" class="g"/>
<circle cx="1302.7" cy="439.2" r="8.4" class="g"/>
<circle cx="1304.5" cy="239.2" r="8.4" class="p"/>
<circle cx="1322.9" cy="997.7" r="8.4" class="g"/>
<circle cx="1321.6" cy="2147.3" r="8.4" class="p"/>
<circle cx="1410.3" cy="1285.1" r="8.4" class="g"/>
<circle cx="1358.2" cy="1497.6" r="8.4" class="g"/>
<circle cx="1303.9" cy="2252.7" r="8.4" class="p"/>
<circle cx="1410.4" cy="1334.0" r="8.4" class="g"/>
<circle cx="1460.5" cy="1694.7" r="8.4" class="g"/>
<circle cx="1353.5" cy="1903.0" r="8.4" class="p"/>
<circle cx="1328.6" cy="420.8" r="8.4" class="g"/>
<circle cx="1434.0" cy="1221.1" r="8.4" class="g"/>
<circle cx="1406.9" cy="567.9" r="8.4" class="p"/>
<circle cx="1322.0" cy="423.0" r="8.4" class="g"/>
<circle cx="1304.5" cy="712.2" r="8.4" class="p"/>
<circle cx="1301.0" cy="370.5" r="8.4" class="g"/>
<circle cx="1511.8" cy="270.7" r="8.4" class="g"/>
<circle cx="1460.5" cy="1568.9" r="8.4" class="g"/>
<circle cx="1460.2" cy="464.6" r="8.4" class="p"/>
<circle cx="1456.7" cy="1684.2" r="8.4" class="g"/>
<circle cx="1295.7" cy="208.6" r="8.4" class="g"/>
<circle cx="1489.6" cy="600.6" r="8.4" class="p"/>
<circle cx="1407.7" cy="1344.5" r="8.4" class="g"/>
<circle cx="1460.2" cy="1043.2" r="8.4" class="g"/>
<circle cx="1304.5" cy="309.2" r="8.4" class="g"/>
<circle cx="1329.3" cy="1616.0" r="8.4" class="g"/>
<circle cx="1305.4" cy="894.5" r="8.4" class="g"/>
<circle cx="1330.7" cy="1936.2" r="8.4" class="p"/>
<circle cx="1462.9" cy="1066.8" r="8.4" class="g"/>
<circle cx="1439.2" cy="1920.5" r="8.4" class="p"/>
<circle cx="1465.5" cy="687.7" r="8.4" class="p"/>
<circle cx="1455.0" cy="1572.0" r="8.4" class="g"/>
<circle cx="1459.4" cy="668.5" r="8.4" class="p"/>
<circle cx="1459.4" cy="62.5" r="8.4" class="p"/>
<circle cx="1329.0" cy="409.8" r="8.4" class="g"/>
<circle cx="1409.5" cy="1321.7" r="8.4" class="g"/>
<circle cx="1412.7" cy="2072.7" r="8.4" class="p"/>
<circle cx="1456.7" cy="1456.5" r="8.4" class="g"/>
<circle cx="1456.4" cy="924.2" r="8.4" class="g"/>
<circle cx="1329.9" cy="991.6" r="8.4" class="g"/>
<circle cx="1383.2" cy="772.1" r="8.4" class="g"/>
<circle cx="1405.1" cy="1150.8" r="8.4" class="g"/>
<circle cx="1434.3" cy="1813.7" r="8.4" class="g"/>
<circle cx="1466.4" cy="973.2" r="8.4" class="g"/>
<circle cx="1383.2" cy="412.5" r="8.4" class="g"/>
<circle cx="1404.2" cy="1425.0" r="8.4" class="g"/>
<circle cx="1457.6" cy="842.9" r="8.4" class="g"/>
<circle cx="1462.4" cy="1040.0" r="8.4" class="g"/>
<circle cx="1492.1" cy="1483.6" r="8.4" class="g"/>
<circle cx="1350.5" cy="917.6" r="8.4" class="g"/>
<circle cx="1327.2" cy="519.7" r="8.4" class="p"/>
<circle cx="1490.3" cy="1270.1" r="8.4" class="g"/>
<circle cx="1295.7" cy="274.2" r="8.4" class="g"/>
<circle cx="1460.2" cy="1157.0" r="8.4" class="g"/>
<circle cx="1438.6" cy="2038.9" r="8.4" class="p"/>
<circle cx="1458.5" cy="1551.0" r="8.4" class="g"/>
<circle cx="1465.5" cy="815.5" r="8.4" class="g"/>
<circle cx="1358.6" cy="1878.5" r="8.4" class="p"/>
<circle cx="1323.2" cy="2158.2" r="8.4" class="p"/>
<circle cx="1437.8" cy="2108.0" r="8.4" class="p"/>
<circle cx="1357.9" cy="1875.0" r="8.4" class="p"/>
<circle cx="1377.1" cy="623.0" r="8.4" class="p"/>
<circle cx="1465.5" cy="1533.5" r="8.4" class="g"/>
<circle cx="1328.7" cy="2163.0" r="8.4" class="p"/>
<circle cx="1429.2" cy="2036.6" r="8.4" class="p"/>
<circle cx="1462.9" cy="1556.2" r="8.4" class="g"/>
<circle cx="1410.8" cy="1298.0" r="8.4" class="g"/>
<circle cx="1482.1" cy="1579.0" r="8.4" class="g"/>
<circle cx="1332.1" cy="183.2" r="8.4" class="p"/>
<circle cx="1378.0" cy="662.3" r="8.4" class="g"/>
<circle cx="1465.3" cy="2141.8" r="8.4" class="p"/>
<circle cx="1406.0" cy="1395.2" r="8.4" class="g"/>
<circle cx="1324.7" cy="2103.3" r="8.4" class="p"/>
<circle cx="1403.4" cy="885.7" r="8.4" class="g"/>
<circle cx="1457.3" cy="730.1" r="8.4" class="g"/>
<circle cx="1384.1" cy="297.0" r="8.4" class="g"/>
<circle cx="1489.1" cy="507.9" r="8.4" class="p"/>
<circle cx="1409.1" cy="1774.7" r="8.4" class="g"/>
<circle cx="1358.7" cy="1833.0" r="8.4" class="p"/>
<circle cx="1512.7" cy="175.4" r="8.4" class="p"/>
<circle cx="1483.0" cy="636.1" r="8.4" class="g"/>
<circle cx="1460.2" cy="1696.5" r="8.4" class="g"/>
<circle cx="1464.6" cy="914.3" r="8.4" class="g"/>
<circle cx="1354.9" cy="43.2" r="8.4" class="p"/>
<circle cx="1459.4" cy="1073.0" r="8.4" class="g"/>
<circle cx="1483.8" cy="1127.2" r="8.4" class="g"/>
<circle cx="1301.9" cy="435.2" r="8.4" class="p"/>
<circle cx="1436.2" cy="1987.9" r="8.4" class="p"/>
<circle cx="1466.4" cy="80.0" r="8.4" class="p"/>
<circle cx="1329.5" cy="2184.9" r="8.4" class="p"/>
<circle cx="1460.2" cy="1661.5" r="8.4" class="g"/>
<circle cx="1352.6" cy="1062.5" r="8.4" class="g"/>
<circle cx="1456.8" cy="1720.5" r="8.4" class="g"/>
<circle cx="1302.7" cy="1218.5" r="8.4" class="g"/>
<circle cx="1465.5" cy="765.6" r="8.4" class="g"/>
<circle cx="1410.3" cy="2016.9" r="8.4" class="p"/>
<circle cx="1465.5" cy="956.6" r="8.4" class="g"/>
<circle cx="1382.4" cy="160.5" r="8.4" class="g"/>
<circle cx="1489.1" cy="535.8" r="8.4" class="g"/>
<circle cx="1484.4" cy="1241.2" r="8.4" class="g"/>
<circle cx="1324.0" cy="2240.2" r="8.4" class="g"/>
<circle cx="1357.0" cy="1862.7" r="8.4" class="p"/>
<circle cx="1296.6" cy="316.2" r="8.4" class="g"/>
<circle cx="1375.4" cy="655.3" r="8.4" class="g"/>
<circle cx="1432.2" cy="1510.7" r="8.4" class="g"/>
<circle cx="1463.7" cy="1689.5" r="8.4" class="g"/>
<circle cx="1490.0" cy="512.7" r="8.4" class="p"/>
<circle cx="1409.5" cy="448.9" r="8.4" class="g"/>
<circle cx="1381.6" cy="598.2" r="8.4" class="g"/>
<circle cx="1437.0" cy="2217.1" r="8.4" class="p"/>
<circle cx="1465.5" cy="1652.7" r="8.4" class="g"/>
<circle cx="1408.6" cy="1105.3" r="8.4" class="g"/>
<circle cx="1431.5" cy="2085.2" r="8.4" class="p"/>
<circle cx="1296.6" cy="206.0" r="8.4" class="g"/>
<circle cx="1402.5" cy="787.5" r="8.4" class="p"/>
<circle cx="1456.7" cy="1474.0" r="8.4" class="g"/>
<circle cx="1349.1" cy="1243.9" r="8.4" class="g"/>
<circle cx="1329.3" cy="830.3" r="8.4" class="g"/>
<circle cx="1380.6" cy="565.2" r="8.4" class="g"/>
<circle cx="1301.2" cy="2259.1" r="8.4" class="p"/>
<circle cx="1485.6" cy="516.2" r="8.4" class="g"/>
<circle cx="1458.5" cy="1722.7" r="8.4" class="g"/>
<circle cx="1378.5" cy="202.5" r="8.4" class="p"/>
<circle cx="1324.6" cy="1952.0" r="8.4" class="p"/>
<circle cx="1412.1" cy="651.8" r="8.4" class="p"/>
<circle cx="1459.4" cy="1675.4" r="8.4" class="g"/>
<circle cx="1462.0" cy="1730.2" r="8.4" class="g"/>
<circle cx="1456.7" cy="979.4" r="8.4" class="g"/>
<circle cx="1465.5" cy="387.1" r="8.4" class="p"/>
<circle cx="1377.1" cy="642.6" r="8.4" class="g"/>
<circle cx="1385.0" cy="155.2" r="8.4" class="g"/>
<circle cx="1305.7" cy="2236.5" r="8.4" class="p"/>
<circle cx="1406.9" cy="1170.1" r="8.4" class="g"/>
<circle cx="1458.5" cy="431.7" r="8.4" class="g"/>
<circle cx="1383.2" cy="595.0" r="8.4" class="g"/>
<circle cx="1437.8" cy="2013.8" r="8.4" class="p"/>
<circle cx="1404.2" cy="1354.1" r="8.4" class="g"/>
<circle cx="1327.2" cy="1176.2" r="8.4" class="g"/>
<circle cx="1296.6" cy="727.1" r="8.4" class="p"/>
<circle cx="1302.0" cy="1997.8" r="8.4" class="p"/>
<circle cx="1465.5" cy="703.5" r="8.4" class="p"/>
<circle cx="1462.0" cy="1460.0" r="8.4" class="g"/>
<circle cx="1439.4" cy="2175.5" r="8.4" class="p"/>
<circle cx="1408.0" cy="2069.5" r="8.4" class="p"/>
<circle cx="1327.1" cy="2149.6" r="8.4" class="p"/>
<circle cx="1330.7" cy="1153.5" r="8.4" class="g"/>
<circle cx="1350.0" cy="1827.7" r="8.4" class="p"/>
<circle cx="1302.7" cy="742.0" r="8.4" class="p"/>
<circle cx="1410.4" cy="51.1" r="8.4" class="p"/>
<circle cx="1300.4" cy="362.8" r="8.4" class="g"/>
<circle cx="1456.7" cy="945.2" r="8.4" class="g"/>
<circle cx="1357.9" cy="1004.7" r="8.4" class="g"/>
<circle cx="1439.4" cy="2192.0" r="8.4" class="p"/>
<circle cx="1330.4" cy="1033.6" r="8.4" class="g"/>
<circle cx="1327.9" cy="2114.3" r="8.4" class="p"/>
<circle cx="1457.6" cy="934.7" r="8.4" class="g"/>
<circle cx="1463.7" cy="710.5" r="8.4" class="p"/>
<circle cx="1376.2" cy="632.6" r="8.4" class="g"/>
<circle cx="1407.1" cy="1094.9" r="8.4" class="g"/>
<circle cx="1301.9" cy="738.5" r="8.4" class="p"/>
<circle cx="1403.4" cy="1405.7" r="8.4" class="g"/>
<circle cx="1332.1" cy="215.6" r="8.4" class="p"/>
<circle cx="1414.7" cy="1306.0" r="8.4" class="g"/>
<circle cx="1326.9" cy="490.9" r="8.4" class="p"/>
<circle cx="1405.3" cy="1417.4" r="8.4" class="g"/>
<circle cx="1385.0" cy="677.2" r="8.4" class="g"/>
<circle cx="1487.7" cy="1076.1" r="8.4" class="g"/>
<circle cx="1410.4" cy="749.0" r="8.4" class="g"/>
<circle cx="1351.7" cy="1015.2" r="8.4" class="g"/>
<circle cx="1295.7" cy="341.6" r="8.4" class="g"/>
<circle cx="1296.2" cy="2265.5" r="8.4" class="p"/>
<circle cx="1428.7" cy="1913.5" r="8.4" class="p"/>
<circle cx="1466.1" cy="2078.2" r="8.4" class="p"/>
<circle cx="1377.1" cy="129.0" r="8.4" class="g"/>
<circle cx="1514.5" cy="251.5" r="8.4" class="g"/>
<circle cx="1405.1" cy="898.9" r="8.4" class="g"/>
<circle cx="1429.2" cy="2065.6" r="8.4" class="p"/>
<circle cx="1464.6" cy="836.7" r="8.4" class="g"/>
<circle cx="1355.2" cy="1250.0" r="8.4" class="g"/>
<circle cx="1462.0" cy="707.0" r="8.4" class="p"/>
<circle cx="1406.0" cy="754.2" r="8.4" class="g"/>
<circle cx="1436.3" cy="927.4" r="8.4" class="g"/>
<circle cx="1460.2" cy="1566.7" r="8.4" class="g"/>
<circle cx="1410.4" cy="840.2" r="8.4" class="g"/>
<circle cx="1409.5" cy="196.4" r="8.4" class="g"/>
<circle cx="1301.9" cy="719.2" r="8.4" class="p"/>
<circle cx="1431.5" cy="2117.4" r="8.4" class="p"/>
<circle cx="1463.7" cy="1981.6" r="8.4" class="p"/>
<circle cx="1329.9" cy="1179.7" r="8.4" class="g"/>
<circle cx="1439.4" cy="2088.4" r="8.4" class="p"/>
<circle cx="1403.6" cy="1291.6" r="8.4" class="g"/>
<circle cx="1465.5" cy="1732.4" r="8.4" class="g"/>
<circle cx="1300.1" cy="1234.6" r="8.4" class="g"/>
<circle cx="1326.0" cy="1943.0" r="8.4" class="p"/>
<circle cx="1378.0" cy="220.9" r="8.4" class="p"/>
<circle cx="1303.6" cy="965.9" r="8.4" class="g"/>
<circle cx="1410.4" cy="1082.6" r="8.4" class="g"/>
<circle cx="1358.7" cy="1907.3" r="8.4" class="p"/>
<circle cx="1324.6" cy="1097.5" r="8.4" class="g"/>
<circle cx="1357.0" cy="1260.5" r="8.4" class="g"/>
<circle cx="1358.2" cy="2227.3" r="8.4" class="p"/>
<circle cx="1299.6" cy="2271.3" r="8.4" class="p"/>
<circle cx="1465.5" cy="610.7" r="8.4" class="p"/>
<circle cx="1331.8" cy="2094.7" r="8.4" class="p"/>
<circle cx="1463.7" cy="1266.6" r="8.4" class="g"/>
<circle cx="1378.0" cy="248.0" r="8.4" class="p"/>
<circle cx="1385.3" cy="127.4" r="8.4" class="g"/>
<circle cx="1385.0" cy="530.2" r="8.4" class="p"/>
<circle cx="1512.7" cy="437.0" r="8.4" class="g"/>
<circle cx="1516.2" cy="190.2" r="8.4" class="g"/>
<circle cx="1437.5" cy="1800.6" r="8.4" class="p"/>
<circle cx="1351.9" cy="1820.5" r="8.4" class="p"/>
<circle cx="1348.8" cy="781.9" r="8.4" class="g"/>
<circle cx="1439.4" cy="2165.3" r="8.4" class="p"/>
<circle cx="1299.6" cy="2238.3" r="8.4" class="p"/>
<circle cx="1464.6" cy="1630.2" r="8.4" class="g"/>
<circle cx="1296.6" cy="1502.8" r="8.4" class="g"/>
<circle cx="1328.1" cy="1253.5" r="8.4" class="g"/>
<circle cx="1456.7" cy="1070.3" r="8.4" class="g"/>
<circle cx="1384.1" cy="583.6" r="8.4" class="g"/>
<circle cx="1462.0" cy="964.5" r="8.4" class="g"/>
<circle cx="1330.7" cy="1757.7" r="8.4" class="p"/>
<circle cx="1402.5" cy="801.5" r="8.4" class="g"/>
<circle cx="1379.7" cy="87.0" r="8.4" class="p"/>
<circle cx="1355.2" cy="1822.5" r="8.4" class="p"/>
<circle cx="1350.0" cy="1024.0" r="8.4" class="g"/>
<circle cx="1437.8" cy="1968.6" r="8.4" class="p"/>
<circle cx="1304.9" cy="717.5" r="8.4" class="p"/>
<circle cx="1331.6" cy="733.2" r="8.4" class="p"/>
<circle cx="1330.7" cy="1775.2" r="8.4" class="p"/>
<circle cx="1432.2" cy="1444.2" r="8.4" class="g"/>
<circle cx="1300.5" cy="1441.6" r="8.4" class="g"/>
<circle cx="1377.1" cy="245.3" r="8.4" class="g"/>
<circle cx="1406.0" cy="1612.8" r="8.4" class="g"/>
<circle cx="1487.9" cy="1544.8" r="8.4" class="g"/>
<circle cx="1331.6" cy="325.8" r="8.4" class="p"/>
<circle cx="1403.4" cy="462.0" r="8.4" class="g"/>
<circle cx="1460.2" cy="45.9" r="8.4" class="p"/>
<circle cx="1297.3" cy="2263.4" r="8.4" class="p"/>
<circle cx="1462.6" cy="1046.5" r="8.4" class="g"/>
<circle cx="1511.8" cy="255.0" r="8.4" class="g"/>
<circle cx="1412.1" cy="1400.5" r="8.4" class="g"/>
<circle cx="1456.7" cy="1708.7" r="8.4" class="g"/>
<circle cx="1463.7" cy="1160.5" r="8.4" class="g"/>
<circle cx="1462.0" cy="1196.3" r="8.4" class="g"/>
<circle cx="1435.4" cy="804.1" r="8.4" class="g"/>
<circle cx="1304.5" cy="358.2" r="8.4" class="g"/>
<circle cx="1353.5" cy="1002.1" r="8.4" class="g"/>
<circle cx="1515.6" cy="172.5" r="8.4" class="p"/>
<circle cx="1412.2" cy="1398.0" r="8.4" class="g"/>
<circle cx="1301.9" cy="329.3" r="8.4" class="g"/>
<circle cx="1297.3" cy="2243.8" r="8.4" class="p"/>
<circle cx="1350.0" cy="1897.7" r="8.4" class="p"/>
<circle cx="1297.5" cy="1599.9" r="8.4" class="g"/>
<circle cx="1355.2" cy="1859.2" r="8.4" class="p"/>
<circle cx="1436.6" cy="1852.2" r="8.4" class="p"/>
<circle cx="1456.7" cy="1668.5" r="8.4" class="g"/>
<circle cx="1461.1" cy="1491.5" r="8.4" class="g"/>
<circle cx="1437.0" cy="2120.6" r="8.4" class="p"/>
<circle cx="1305.4" cy="231.4" r="8.4" class="p"/>
<circle cx="1297.3" cy="2230.5" r="8.4" class="p"/>
<circle cx="1295.7" cy="355.6" r="8.4" class="p"/>
<circle cx="1456.4" cy="695.0" r="8.4" class="p"/>
<circle cx="1330.7" cy="1145.6" r="8.4" class="g"/>
<circle cx="1438.6" cy="2027.1" r="8.4" class="p"/>
<circle cx="1381.5" cy="150.9" r="8.4" class="g"/>
<circle cx="1328.5" cy="904.6" r="8.4" class="g"/>
<circle cx="1438.1" cy="2123.7" r="8.4" class="p"/>
<circle cx="1323.7" cy="1147.3" r="8.4" class="g"/>
<circle cx="1461.1" cy="859.4" r="8.4" class="g"/>
<circle cx="1462.9" cy="494.4" r="8.4" class="p"/>
<circle cx="1458.5" cy="1528.2" r="8.4" class="g"/>
<circle cx="1462.0" cy="693.0" r="8.4" class="p"/>
<circle cx="1407.4" cy="588.0" r="8.4" class="g"/>
<circle cx="1483.8" cy="1192.8" r="8.4" class="g"/>
<circle cx="1407.2" cy="2201.4" r="8.4" class="p"/>
<circle cx="1356.4" cy="1865.6" r="8.4" class="p"/>
<circle cx="1429.1" cy="908.0" r="8.4" class="g"/>
<circle cx="1329.0" cy="283.8" r="8.4" class="g"/>
<circle cx="1489.1" cy="503.1" r="8.4" class="p"/>
<circle cx="1324.6" cy="1190.2" r="8.4" class="g"/>
<circle cx="1455.9" cy="400.2" r="8.4" class="p"/>
<circle cx="1301.3" cy="477.7" r="8.4" class="p"/>
<circle cx="1429.3" cy="1626.0" r="8.4" class="g"/>
<circle cx="1413.0" cy="1374.2" r="8.4" class="g"/>
<circle cx="1463.7" cy="445.4" r="8.4" class="g"/>
<circle cx="1385.0" cy="124.6" r="8.4" class="g"/>
<circle cx="1411.2" cy="1316.5" r="8.4" class="g"/>
<circle cx="1463.7" cy="1435.5" r="8.4" class="g"/>
<circle cx="1402.5" cy="2182.6" r="8.4" class="p"/>
<circle cx="1429.9" cy="2169.2" r="8.4" class="p"/>
<circle cx="1328.1" cy="1789.2" r="8.4" class="p"/>
<circle cx="1436.2" cy="2127.6" r="8.4" class="p"/>
<circle cx="1463.7" cy="481.2" r="8.4" class="p"/>
<circle cx="1353.5" cy="1843.5" r="8.4" class="p"/>
<circle cx="1350.0" cy="975.9" r="8.4" class="g"/>
<circle cx="1457.1" cy="626.5" r="8.4" class="p"/>
<circle cx="1403.4" cy="40.6" r="8.4" class="p"/>
<circle cx="1325.5" cy="345.1" r="8.4" class="g"/>
<circle cx="1301.0" cy="393.2" r="8.4" class="g"/>
<circle cx="1436.2" cy="2130.8" r="8.4" class="p"/>
<circle cx="1407.2" cy="2053.0" r="8.4" class="p"/>
<circle cx="1489.1" cy="571.4" r="8.4" class="g"/>
<circle cx="1429.6" cy="1447.7" r="8.4" class="g"/>
<circle cx="1412.7" cy="1975.3" r="8.4" class="p"/>
<circle cx="1402.5" cy="2208.5" r="8.4" class="p"/>
<circle cx="1434.7" cy="2046.8" r="8.4" class="p"/>
<circle cx="1465.5" cy="852.5" r="8.4" class="g"/>
<circle cx="1329.9" cy="1579.8" r="8.4" class="g"/>
<circle cx="1332.5" cy="1784.0" r="8.4" class="p"/>
<circle cx="1512.7" cy="290.0" r="8.4" class="g"/>
<circle cx="1323.7" cy="261.1" r="8.4" class="p"/>
<circle cx="1327.6" cy="458.1" r="8.4" class="p"/>
<circle cx="1296.6" cy="891.9" r="8.4" class="g"/>
<circle cx="1462.0" cy="1705.2" r="8.4" class="g"/>
<circle cx="1456.7" cy="1561.5" r="8.4" class="g"/>
<circle cx="1407.7" cy="109.7" r="8.4" class="p"/>
<circle cx="1411.2" cy="871.7" r="8.4" class="g"/>
<circle cx="1381.5" cy="264.6" r="8.4" class="g"/>
<circle cx="1356.1" cy="1885.5" r="8.4" class="p"/>
<circle cx="1460.2" cy="1985.0" r="8.4" class="p"/>
<circle cx="1459.0" cy="2004.4" r="8.4" class="p"/>
<circle cx="1327.2" cy="1801.5" r="8.4" class="p"/>
<circle cx="1299.2" cy="658.8" r="8.4" class="p"/>
<circle cx="1407.7" cy="1430.2" r="8.4" class="g"/>
<circle cx="1405.1" cy="312.7" r="8.4" class="g"/>
<circle cx="1348.2" cy="1815.5" r="8.4" class="p"/>
<circle cx="1385.9" cy="630.0" r="8.4" class="p"/>
<circle cx="1376.2" cy="120.2" r="8.4" class="g"/>
<circle cx="1462.9" cy="1656.0" r="8.4" class="g"/>
<circle cx="1461.1" cy="135.1" r="8.4" class="g"/>
<circle cx="1298.1" cy="2255.6" r="8.4" class="p"/>
<circle cx="1326.4" cy="93.1" r="8.4" class="p"/>
<circle cx="1408.6" cy="1358.5" r="8.4" class="g"/>
<circle cx="1322.3" cy="2155.9" r="8.4" class="p"/>
<circle cx="1329.8" cy="1797.9" r="8.4" class="p"/>
<circle cx="1436.6" cy="1926.6" r="8.4" class="p"/>
<circle cx="1413.0" cy="402.8" r="8.4" class="g"/>
<circle cx="1329.5" cy="2172.4" r="8.4" class="p"/>
<circle cx="1465.5" cy="425.6" r="8.4" class="g"/>
<circle cx="1331.6" cy="417.7" r="8.4" class="g"/>
<circle cx="1406.0" cy="1326.1" r="8.4" class="g"/>
<circle cx="1406.2" cy="1314.2" r="8.4" class="g"/>
<circle cx="1455.9" cy="1648.4" r="8.4" class="g"/>
<circle cx="1456.7" cy="1521.2" r="8.4" class="g"/>
<circle cx="1298.0" cy="988.6" r="8.4" class="g"/>
<circle cx="1384.1" cy="540.7" r="8.4" class="g"/>
<circle cx="1408.7" cy="1356.1" r="8.4" class="g"/>
<circle cx="1436.1" cy="1590.1" r="8.4" class="g"/>
<circle cx="1357.5" cy="1894.7" r="8.4" class="p"/>
<circle cx="1459.4" cy="948.7" r="8.4" class="g"/>
<circle cx="1460.2" cy="83.5" r="8.4" class="p"/>
<circle cx="1357.9" cy="1136.8" r="8.4" class="g"/>
<circle cx="1462.0" cy="1037.1" r="8.4" class="g"/>
<circle cx="1462.0" cy="1717.5" r="8.4" class="g"/>
<circle cx="1297.5" cy="1115.0" r="8.4" class="g"/>
<circle cx="1404.2" cy="1288.5" r="8.4" class="g"/>
<circle cx="1463.7" cy="1644.0" r="8.4" class="g"/>
<circle cx="1407.7" cy="1383.0" r="8.4" class="g"/>
<circle cx="1519.7" cy="267.2" r="8.4" class="g"/>
<circle cx="1437.5" cy="1848.7" r="8.4" class="p"/>
<circle cx="1403.4" cy="865.6" r="8.4" class="g"/>
<circle cx="1491.7" cy="1603.7" r="8.4" class="g"/>
<circle cx="1457.6" cy="775.2" r="8.4" class="g"/>
<circle cx="1465.5" cy="1519.5" r="8.4" class="g"/>
<circle cx="1350.0" cy="1868.8" r="8.4" class="p"/>
<circle cx="1437.0" cy="862.5" r="8.4" class="g"/>
<circle cx="1412.6" cy="1930.1" r="8.4" class="p"/>
<circle cx="1355.8" cy="338.6" r="8.4" class="g"/>
<circle cx="1405.1" cy="1117.6" r="8.4" class="g"/>
<circle cx="1352.7" cy="1830.2" r="8.4" class="p"/>
<circle cx="1408.6" cy="1102.7" r="8.4" class="g"/>
<circle cx="1463.7" cy="468.1" r="8.4" class="p"/>
<circle cx="1304.0" cy="227.3" r="8.4" class="p"/>
<circle cx="1320.2" cy="1955.5" r="8.4" class="p"/>
<circle cx="1358.2" cy="911.1" r="8.4" class="g"/>
<circle cx="1465.5" cy="1635.2" r="8.4" class="g"/>
<circle cx="1408.7" cy="2042.8" r="8.4" class="p"/>
<circle cx="1409.5" cy="1350.6" r="8.4" class="g"/>
<circle cx="1295.7" cy="390.6" r="8.4" class="g"/>
<circle cx="1490.8" cy="497.0" r="8.4" class="p"/>
<circle cx="1491.7" cy="2011.0" r="8.4" class="p"/>
<circle cx="1385.0" cy="549.5" r="8.4" class="p"/>
<circle cx="1485.6" cy="1959.0" r="8.4" class="p"/>
<circle cx="1433.1" cy="1839.8" r="8.4" class="p"/>
<circle cx="1409.1" cy="1427.0" r="8.4" class="g"/>
<circle cx="1462.9" cy="1467.0" r="8.4" class="g"/>
<circle cx="1465.5" cy="1672.0" r="8.4" class="g"/>
<circle cx="1353.5" cy="1031.0" r="8.4" class="g"/>
<circle cx="1408.2" cy="2210.7" r="8.4" class="p"/>
<circle cx="1410.4" cy="578.4" r="8.4" class="p"/>
<circle cx="1457.6" cy="784.8" r="8.4" class="g"/>
<circle cx="1409.5" cy="1596.7" r="8.4" class="g"/>
<circle cx="1456.7" cy="1199.0" r="8.4" class="g"/>
<circle cx="1413.0" cy="1421.5" r="8.4" class="g"/>
<circle cx="1460.2" cy="809.3" r="8.4" class="g"/>
<circle cx="1327.2" cy="293.5" r="8.4" class="g"/>
<circle cx="1460.2" cy="67.7" r="8.4" class="p"/>
<circle cx="1438.4" cy="768.2" r="8.4" class="g"/>
<circle cx="1435.7" cy="1183.2" r="8.4" class="g"/>
<circle cx="1409.5" cy="1409.2" r="8.4" class="g"/>
<circle cx="1464.2" cy="1559.3" r="8.4" class="g"/>
<circle cx="1410.5" cy="1369.0" r="8.4" class="g"/>
<circle cx="1400.7" cy="1341.0" r="8.4" class="g"/>
<circle cx="1329.9" cy="1011.7" r="8.4" class="g"/>
<circle cx="1403.9" cy="474.6" r="8.4" class="p"/>
<circle cx="1355.2" cy="1088.7" r="8.4" class="g"/>
<circle cx="1384.1" cy="521.5" r="8.4" class="g"/>
<circle cx="1403.4" cy="193.4" r="8.4" class="g"/>
<circle cx="1322.0" cy="1810.2" r="8.4" class="p"/>
<circle cx="1301.7" cy="237.0" r="8.4" class="p"/>
<circle cx="1412.1" cy="649.2" r="8.4" class="p"/>
<circle cx="1378.0" cy="510.1" r="8.4" class="g"/>
<circle cx="1516.6" cy="665.3" r="8.4" class="p"/>
<circle cx="1455.0" cy="823.6" r="8.4" class="g"/>
<circle cx="1484.7" cy="819.0" r="8.4" class="g"/>
<circle cx="1330.4" cy="1188.4" r="8.4" class="g"/>
<circle cx="1323.7" cy="1092.2" r="8.4" class="g"/>
<circle cx="1331.5" cy="2152.7" r="8.4" class="p"/>
<circle cx="1411.2" cy="1224.6" r="8.4" class="g"/>
<circle cx="1403.4" cy="1318.2" r="8.4" class="g"/>
<circle cx="1379.7" cy="90.5" r="8.4" class="p"/>
<circle cx="1462.0" cy="1488.0" r="8.4" class="g"/>
<circle cx="1465.5" cy="1700.0" r="8.4" class="g"/>
<circle cx="1409.5" cy="2224.2" r="8.4" class="p"/>
<circle cx="1462.9" cy="762.1" r="8.4" class="g"/>
<circle cx="1406.9" cy="1228.1" r="8.4" class="g"/>
<circle cx="1457.0" cy="1710.8" r="8.4" class="g"/>
<circle cx="1323.2" cy="2111.1" r="8.4" class="p"/>
<circle cx="1455.0" cy="811.1" r="8.4" class="g"/>
<circle cx="1404.5" cy="2030.1" r="8.4" class="p"/>
<circle cx="1304.5" cy="365.2" r="8.4" class="g"/>
<circle cx="1463.7" cy="303.1" r="8.4" class="g"/>
<circle cx="1322.0" cy="1945.0" r="8.4" class="p"/>
<circle cx="1332.5" cy="1807.6" r="8.4" class="p"/>
<circle cx="1463.2" cy="1469.0" r="8.4" class="g"/>
<circle cx="1302.7" cy="141.2" r="8.4" class="p"/>
</g>
<rect x="764.05" y="39.90" width="242.85" height="2234.40" fill="none" stroke="#d9d9d9" stroke-width="3.4"/>
<rect x="1025.20" y="39.90" width="242.80" height="2234.40" fill="none" stroke="#d9d9d9" stroke-width="3.4"/>
<rect x="1286.30" y="39.90" width="242.90" height="2234.40" fill="none" stroke="#d9d9d9" stroke-width="3.4"/>
<line x1="762.35" y1="36.4" x2="762.35" y2="2277.7" class="ax"/>
<line x1="760.60" y1="2276" x2="1010.35" y2="2276" class="ax"/>
<line x1="808.52" y1="2276" x2="808.52" y2="2283.4" class="tk"/>
<text transform="translate(820.62 2290.5) rotate(-90)" class="tl">0</text>
<line x1="885.48" y1="2276" x2="885.48" y2="2283.4" class="tk"/>
<text transform="translate(897.58 2290.5) rotate(-90)" class="tl">1/10</text>
<line x1="962.43" y1="2276" x2="962.43" y2="2283.4" class="tk"/>
<text transform="translate(974.53 2290.5) rotate(-90)" class="tl">1/100</text>
<line x1="1021.75" y1="2276" x2="1271.45" y2="2276" class="ax"/>
<line x1="1090.65" y1="2276" x2="1090.65" y2="2283.4" class="tk"/>
<text transform="translate(1102.75 2290.5) rotate(-90)" class="tl">FALSE</text>
<line x1="1202.55" y1="2276" x2="1202.55" y2="2283.4" class="tk"/>
<text transform="translate(1214.65 2290.5) rotate(-90)" class="tl">TRUE</text>
<line x1="1282.85" y1="2276" x2="1532.65" y2="2276" class="ax"/>
<line x1="1300.66" y1="2276" x2="1300.66" y2="2283.4" class="tk"/>
<text transform="translate(1312.76 2290.5) rotate(-90)" class="tl">MAC</text>
<line x1="1327.43" y1="2276" x2="1327.43" y2="2283.4" class="tk"/>
<text transform="translate(1339.53 2290.5) rotate(-90)" class="tl">ISP1</text>
<line x1="1354.21" y1="2276" x2="1354.21" y2="2283.4" class="tk"/>
<text transform="translate(1366.31 2290.5) rotate(-90)" class="tl">LB</text>
<line x1="1380.98" y1="2276" x2="1380.98" y2="2283.4" class="tk"/>
<text transform="translate(1393.08 2290.5) rotate(-90)" class="tl">LWA</text>
<line x1="1407.75" y1="2276" x2="1407.75" y2="2283.4" class="tk"/>
<text transform="translate(1419.85 2290.5) rotate(-90)" class="tl">ISP2</text>
<line x1="1434.52" y1="2276" x2="1434.52" y2="2283.4" class="tk"/>
<text transform="translate(1446.62 2290.5) rotate(-90)" class="tl">A1F</text>
<line x1="1461.29" y1="2276" x2="1461.29" y2="2283.4" class="tk"/>
<text transform="translate(1473.39 2290.5) rotate(-90)" class="tl">CGSF</text>
<line x1="1488.07" y1="2276" x2="1488.07" y2="2283.4" class="tk"/>
<text transform="translate(1500.17 2290.5) rotate(-90)" class="tl">CHITIN</text>
<line x1="1514.84" y1="2276" x2="1514.84" y2="2283.4" class="tk"/>
<text transform="translate(1526.94 2290.5) rotate(-90)" class="tl">NZSGF</text>
<rect x="360" y="38.8" width="13.5" height="2234.7" fill="#000"/>
<path class="tree" d="M1.3 1238.5V1932.8M1.3 1238.5H132.5M132.5 1004.9V1471.4M132.5 1004.9H153M153 806.6V1204.3M153 806.6H209.2M209.2 647.8V964.7M209.2 647.8H230.2M230.2 484.5V810.8M230.2 484.5H252.8M252.8 375V593M252.8 375H260.3M260.3 279.3V471M260.3 279.3H284M284 191.4V368M284 191.4H295.8M295.8 107.4V275.4M295.8 107.4H301M301 81.2V133.7M301 81.2H311.5M311.5 61.5V101.5M311.5 61.5H314.1M314.1 50.3V71.3M314.1 50.3H320M320 45.7V55.6M320 45.7H357M357 43V48.4M357 43H363M363 40.8V44.2M363 40.8H372M363 44.2H372M357 48.4H372M320 55.6H361.6M361.6 53.1V57.2M361.6 53.1H372M361.6 57.2H372M314.1 71.3H326M326 64.8V79.9M326 64.8H355.2M355.2 63V67.6M355.2 63H372M355.2 67.6H359M359 65.9V69.5M359 65.9H372M359 69.5H372M326 79.9H358.4M358.4 75.8V82.5M358.4 75.8H359.9M359.9 74.2V78.4M359.9 74.2H372M359.9 78.4H372M358.4 82.5H372M311.5 101.5H341M341 90.4V110.7M341 90.4H358.4M358.4 86.5V94.8M358.4 86.5H362.6M362.6 85.5V88.2M362.6 85.5H372M362.6 88.2H372M358.4 94.8H359.9M359.9 93V97.8M359.9 93H372M359.9 97.8H361.4M361.4 96.4V99.2M361.4 96.4H372M361.4 99.2H372M341 110.7H356.2M356.2 107V115.4M356.2 107H357.7M357.7 103.9V108.6M357.7 103.9H359.2M359.2 102.3V105.2M359.2 102.3H372M359.2 105.2H372M357.7 108.6H372M356.2 115.4H357.7M357.7 112.7V118.2M357.7 112.7H372M357.7 118.2H359.2M359.2 116.7V120.5M359.2 116.7H372M359.2 120.5H372M301 133.7H358.8M358.8 127V137.3M358.8 127H360.3M360.3 125.1V130.2M360.3 125.1H372M360.3 130.2H361.8M361.8 129V131.9M361.8 129H372M361.8 131.9H372M358.8 137.3H362.4M362.4 135.3V140M362.4 135.3H372M362.4 140H372M295.8 275.4H312.2M312.2 251.8V300.3M312.2 251.8H318.7M318.7 228V275.4M318.7 228H326.8M326.8 198.3V257.3M326.8 198.3H328.7M328.7 162V234.5M328.7 162H331.1M331.1 153V172.3M331.1 153H336.6M336.6 147V159.7M336.6 147H354.2M354.2 143.9V149.8M354.2 143.9H372M354.2 149.8H357.5M357.5 148.3V151.7M357.5 148.3H372M357.5 151.7H372M336.6 159.7H356.9M356.9 155.9V161.8M356.9 155.9H359.6M359.6 154.5V157.3M359.6 154.5H372M359.6 157.3H372M356.9 161.8H372M331.1 172.3H344M344 167V177.8M344 167H354.3M354.3 164.8V170.5M354.3 164.8H372M354.3 170.5H357.6M357.6 169V171.4M357.6 169H372M357.6 171.4H372M344 177.8H354.5M354.5 175.9V179.9M354.5 175.9H363.2M363.2 174.5V176.6M363.2 174.5H372M363.2 176.6H372M354.5 179.9H372M328.7 234.5H336.2M336.2 224V245.5M336.2 224H339.4M339.4 199.6V228.3M339.4 199.6H345.5M345.5 191.4V214.5M345.5 191.4H357.4M357.4 186.8V195.6M357.4 186.8H358.9M358.9 184V189.6M358.9 184H372M358.9 189.6H372M357.4 195.6H359.9M359.9 193.6V197.5M359.9 193.6H372M359.9 197.5H372M345.5 214.5H347M347 205V218.3M347 205H357.2M357.2 202.8V209M357.2 202.8H360.5M360.5 201.1V203.7M360.5 201.1H372M360.5 203.7H372M357.2 209H362.2M362.2 207.1V211.6M362.2 207.1H372M362.2 211.6H363.7M363.7 209.9V213.2M363.7 209.9H372M363.7 213.2H372M347 218.3H356.4M356.4 216.3V221.4M356.4 216.3H372M356.4 221.4H363.9M363.9 219.5V222.9M363.9 219.5H372M363.9 222.9H372M339.4 228.3H350.7M350.7 225.8V231.4M350.7 225.8H372M350.7 231.4H359.9M359.9 230.2V233.4M359.9 230.2H372M359.9 233.4H372M336.2 245.5H345M345 241.6V247.2M345 241.6H359.2M359.2 239V243.4M359.2 239H363.3M363.3 237.6V240M363.3 237.6H372M363.3 240H372M359.2 243.4H372M345 247.2H372M326.8 257.3H348M348 253V262M348 253H362.3M362.3 251.6V254.6M362.3 251.6H372M362.3 254.6H372M348 262H354.5M354.5 259.6V263.2M354.5 259.6H372M354.5 263.2H372M318.7 275.4H333.8M333.8 270V279M333.8 270H359.3M359.3 267.7V272.1M359.3 267.7H372M359.3 272.1H372M333.8 279H359.7M359.7 276.3V283.5M359.7 276.3H372M359.7 283.5H361.2M361.2 281.3V284.5M361.2 281.3H372M361.2 284.5H372M312.2 300.3H345.6M345.6 292V307M345.6 292H359M359 289.3V295.2M359 289.3H360.5M360.5 288V290.3M360.5 288H372M360.5 290.3H372M359 295.2H360.5M360.5 293.6V296.9M360.5 293.6H372M360.5 296.9H372M345.6 307H355.2M355.2 304.3V308.5M355.2 304.3H356.7M356.7 301.4V305.8M356.7 301.4H372M356.7 305.8H372M355.2 308.5H372M284 368H333M333 340.7V395.8M333 340.7H341M341 325V356M341 325H349.1M349.1 318.1V331.2M349.1 318.1H350.6M350.6 314V322.1M350.6 314H359.5M359.5 312.3V316.4M359.5 312.3H372M359.5 316.4H372M350.6 322.1H354.1M354.1 319.7V323.8M354.1 319.7H372M354.1 323.8H372M349.1 331.2H350.6M350.6 327.7V335.1M350.6 327.7H359.3M359.3 326.4V328.9M359.3 326.4H372M359.3 328.9H372M350.6 335.1H362M362 333.4V337.4M362 333.4H372M362 337.4H363.5M363.5 335.9V338.9M363.5 335.9H372M363.5 338.9H372M341 356H342.5M342.5 346V363.6M342.5 346H354.2M354.2 343.7V350.2M354.2 343.7H362.9M362.9 342.4V344.9M362.9 342.4H372M362.9 344.9H372M354.2 350.2H355.7M355.7 347.6V353M355.7 347.6H372M355.7 353H358.5M358.5 351.4V354.2M358.5 351.4H372M358.5 354.2H372M342.5 363.6H352.5M352.5 358.9V366.2M352.5 358.9H355.6M355.6 357.5V360.8M355.6 357.5H372M355.6 360.8H372M352.5 366.2H372M333 395.8H343.8M343.8 378.7V411.5M343.8 378.7H345.3M345.3 373.9V388.4M345.3 373.9H349.9M349.9 371.1V376.2M349.9 371.1H355.8M355.8 369.4V372.2M355.8 369.4H372M355.8 372.2H372M349.9 376.2H372M345.3 388.4H357.3M357.3 384.6V392.6M357.3 384.6H358.8M358.8 382.2V386.8M358.8 382.2H360.3M360.3 380.3V383.3M360.3 380.3H372M360.3 383.3H372M358.8 386.8H372M357.3 392.6H358.8M358.8 390.9V393.5M358.8 390.9H372M358.8 393.5H372M343.8 411.5H345.3M345.3 402.6V418.9M345.3 402.6H346.8M346.8 399V408M346.8 399H355M355 397.4V400.5M355 397.4H372M355 400.5H372M346.8 408H359.3M359.3 405.7V409.9M359.3 405.7H362.3M362.3 404.2V406.6M362.3 404.2H372M362.3 406.6H372M359.3 409.9H372M345.3 418.9H347.1M347.1 415.5V422.3M347.1 415.5H357.5M357.5 413V417.1M357.5 413H372M357.5 417.1H372M347.1 422.3H354.5M354.5 420.6V424.2M354.5 420.6H372M354.5 424.2H372M260.3 471H304.5M304.5 456V486M304.5 456H326.8M326.8 441.7V462.7M326.8 441.7H345.9M345.9 436.1V446.8M345.9 436.1H356.7M356.7 432.6V439.4M356.7 432.6H359.9M359.9 429.3V434.6M359.9 429.3H361.4M361.4 427.8V431M361.4 427.8H372M361.4 431H372M359.9 434.6H372M356.7 439.4H359.6M359.6 437.5V440.3M359.6 437.5H372M359.6 440.3H372M345.9 446.8H355M355 444.6V449.1M355 444.6H372M355 449.1H357.9M357.9 447.9V450.7M357.9 447.9H372M357.9 450.7H372M326.8 462.7H346.8M346.8 456.2V466.2M346.8 456.2H354.4M354.4 454.2V459.4M354.4 454.2H372M354.4 459.4H357.3M357.3 457.8V461.1M357.3 457.8H372M357.3 461.1H372M346.8 466.2H358.7M358.7 464V468.3M358.7 464H372M358.7 468.3H372M304.5 486H326.8M326.8 475.9V494.2M326.8 475.9H347.1M347.1 472.2V479.8M347.1 472.2H359.3M359.3 470.8V474.4M359.3 470.8H372M359.3 474.4H372M347.1 479.8H360.9M360.9 478.3V482.3M360.9 478.3H372M360.9 482.3H364.1M364.1 481.3V483.3M364.1 481.3H372M364.1 483.3H372M326.8 494.2H346.1M346.1 488.8V501.5M346.1 488.8H360.7M360.7 486.7V491.8M360.7 486.7H372M360.7 491.8H363.4M363.4 490V493.3M363.4 490H372M363.4 493.3H372M346.1 501.5H358.3M358.3 496.9V503.6M358.3 496.9H359.8M359.8 495.1V499.6M359.8 495.1H372M359.8 499.6H372M358.3 503.6H372M252.8 593H310.5M310.5 543.6V642.5M310.5 543.6H322.8M322.8 523V563.8M322.8 523H342.5M342.5 510V531M342.5 510H357.6M357.6 508.1V515.3M357.6 508.1H372M357.6 515.3H359.1M359.1 513.1V517.6M359.1 513.1H360.6M360.6 512V514.3M360.6 512H372M360.6 514.3H372M359.1 517.6H361.1M361.1 516.8V518.9M361.1 516.8H372M361.1 518.9H372M342.5 531H349.1M349.1 525.7V533.6M349.1 525.7H350.6M350.6 522.7V529.1M350.6 522.7H363.9M363.9 521.7V523.8M363.9 521.7H372M363.9 523.8H372M350.6 529.1H358.1M358.1 527.6V529.8M358.1 527.6H372M358.1 529.8H372M349.1 533.6H359.5M359.5 532V536.2M359.5 532H372M359.5 536.2H372M322.8 563.8H331.2M331.2 544V578M331.2 544H352.2M352.2 541.6V554.6M352.2 541.6H359.1M359.1 539.6V542.5M359.1 539.6H372M359.1 542.5H372M352.2 554.6H358M358 548.7V557.7M358 548.7H360.8M360.8 545.7V551.9M360.8 545.7H372M360.8 551.9H362.3M362.3 550.7V553.6M362.3 550.7H372M362.3 553.6H372M358 557.7H363.4M363.4 555.8V559.3M363.4 555.8H372M363.4 559.3H372M331.2 578H350.3M350.3 569.2V582.4M350.3 569.2H354.8M354.8 566V573.7M354.8 566H360.4M360.4 564.1V567.3M360.4 564.1H372M360.4 567.3H372M354.8 573.7H362.1M362.1 571.9V575.6M362.1 571.9H372M362.1 575.6H372M350.3 582.4H360.6M360.6 579.9V583.5M360.6 579.9H372M360.6 583.5H372M310.5 642.5H342.5M342.5 599V670M342.5 599H344M344 593.4V615.1M344 593.4H359.9M359.9 589.8V595.4M359.9 589.8H361.4M361.4 587.3V591.2M361.4 587.3H372M361.4 591.2H372M359.9 595.4H361.4M361.4 594.1V596.7M361.4 594.1H372M361.4 596.7H372M344 615.1H345.5M345.5 607.4V624.8M345.5 607.4H347M347 603.5V611.3M347 603.5H355.4M355.4 600.6V605.2M355.4 600.6H372M355.4 605.2H372M347 611.3H354.6M354.6 609.1V613.4M354.6 609.1H372M354.6 613.4H372M345.5 624.8H351.4M351.4 620.4V628.3M351.4 620.4H360.6M360.6 618.4V622.9M360.6 618.4H362.5M362.5 617.1V619.2M362.5 617.1H372M362.5 619.2H372M360.6 622.9H372M351.4 628.3H352.9M352.9 626.2V631.7M352.9 626.2H372M352.9 631.7H361.5M361.5 630.3V632.9M361.5 630.3H372M361.5 632.9H372M342.5 670H344M344 655.9V676.8M344 655.9H347.3M347.3 642.2V664.9M347.3 642.2H348.8M348.8 639V651M348.8 639H360M360 636.9V640.1M360 636.9H372M360 640.1H372M348.8 651H355.1M355.1 646.7V653.4M355.1 646.7H360.4M360.4 644.4V648.2M360.4 644.4H372M360.4 648.2H372M355.1 653.4H372M347.3 664.9H356.4M356.4 661.5V667.3M356.4 661.5H362M362 659.5V663M362 659.5H363.5M363.5 657.6V660.5M363.5 657.6H372M363.5 660.5H372M362 663H372M356.4 667.3H372M344 676.8H349.7M349.7 673.1V680.9M349.7 673.1H355.3M355.3 671.6V674.7M355.3 671.6H372M355.3 674.7H372M349.7 680.9H353.7M353.7 679.2V682.6M353.7 679.2H372M353.7 682.6H372M230.2 810.8H270.3M270.3 744.4V880M270.3 744.4H304.5M304.5 718.6V771.7M304.5 718.6H315.7M315.7 701.6V735.7M315.7 701.6H339.3M339.3 695.2V711.8M339.3 695.2H344.8M344.8 689.2V698.9M344.8 689.2H351.3M351.3 687.1V692.2M351.3 687.1H360.5M360.5 685.3V688.3M360.5 685.3H372M360.5 688.3H372M351.3 692.2H356.7M356.7 690.6V694.1M356.7 690.6H372M356.7 694.1H372M344.8 698.9H357.6M357.6 696.8V700M357.6 696.8H372M357.6 700H372M339.3 711.8H358.4M358.4 707.8V715M358.4 707.8H360.6M360.6 704.1V709.9M360.6 704.1H362.1M362.1 702.8V706.2M362.1 702.8H372M362.1 706.2H372M360.6 709.9H372M358.4 715H359.9M359.9 713.9V717.1M359.9 713.9H372M359.9 717.1H372M315.7 735.7H341.5M341.5 727.2V740.4M341.5 727.2H348.8M348.8 724V732M348.8 724H360M360 722V725.4M360 722H361.5M361.5 720.6V723.2M361.5 720.6H372M361.5 723.2H372M360 725.4H372M348.8 732H352.2M352.2 729.6V733.7M352.2 729.6H372M352.2 733.7H372M341.5 740.4H356.9M356.9 737.8V743.1M356.9 737.8H372M356.9 743.1H372M304.5 771.7H328M328 755V787M328 755H344.2M344.2 749.6V761M344.2 749.6H360.2M360.2 747.6V752.7M360.2 747.6H372M360.2 752.7H362M362 751.1V753.5M362 751.1H372M362 753.5H372M344.2 761H358.4M358.4 758.4V766.5M358.4 758.4H359.9M359.9 756.5V759.5M359.9 756.5H372M359.9 759.5H372M358.4 766.5H359.9M359.9 763.8V768.7M359.9 763.8H363.5M363.5 762.1V764.9M363.5 762.1H372M363.5 764.9H372M359.9 768.7H372M328 787H335.4M335.4 776.9V791.6M335.4 776.9H352.5M352.5 773.4V783.4M352.5 773.4H360.3M360.3 772.4V774.8M360.3 772.4H372M360.3 774.8H372M352.5 783.4H354M354 780.7V785.3M354 780.7H362.6M362.6 778.8V782.4M362.6 778.8H372M362.6 782.4H372M354 785.3H372M335.4 791.6H358.8M358.8 788.9V795.8M358.8 788.9H372M358.8 795.8H360.3M360.3 793.5V797.6M360.3 793.5H372M360.3 797.6H372M270.3 880H330M330 848.5V898M330 848.5H331.5M331.5 824.5V857.3M331.5 824.5H349.8M349.8 812.3V836.1M349.8 812.3H351.3M351.3 807.5V817.8M351.3 807.5H356.8M356.8 803V809.2M356.8 803H358.3M358.3 801.2V804.7M358.3 801.2H372M358.3 804.7H372M356.8 809.2H372M351.3 817.8H352.8M352.8 814.7V821.9M352.8 814.7H362M362 813.6V816.1M362 813.6H372M362 816.1H372M352.8 821.9H354.3M354.3 819.8V823.1M354.3 819.8H372M354.3 823.1H372M349.8 836.1H351.3M351.3 831.1V840.6M351.3 831.1H359.9M359.9 827.1V833.3M359.9 827.1H361.4M361.4 826V828.8M361.4 826H372M361.4 828.8H372M359.9 833.3H372M351.3 840.6H354.2M354.2 838.8V844.3M354.2 838.8H372M354.2 844.3H355.7M355.7 842V846.8M355.7 842H372M355.7 846.8H372M331.5 857.3H344.6M344.6 851.8V867.4M344.6 851.8H356.5M356.5 849.9V853.8M356.5 849.9H372M356.5 853.8H358.2M358.2 852.9V855.9M358.2 852.9H372M358.2 855.9H372M344.6 867.4H349.8M349.8 863V869.5M349.8 863H351.3M351.3 860.8V865.2M351.3 860.8H361.4M361.4 859.3V862.1M361.4 859.3H372M361.4 862.1H372M351.3 865.2H372M349.8 869.5H355.6M355.6 868.6V871.6M355.6 868.6H372M355.6 871.6H372M330 898H347.5M347.5 885.2V901.7M347.5 885.2H353.1M353.1 880.4V890.5M353.1 880.4H354.6M354.6 876.9V882.4M354.6 876.9H356.1M356.1 874.5V878.6M356.1 874.5H372M356.1 878.6H372M354.6 882.4H372M353.1 890.5H358.8M358.8 888.3V893.3M358.8 888.3H361.8M361.8 887.1V889.2M361.8 887.1H372M361.8 889.2H372M358.8 893.3H360.7M360.7 891.8V896.2M360.7 891.8H372M360.7 896.2H372M347.5 901.7H355.2M355.2 900V903.8M355.2 900H372M355.2 903.8H372M209.2 964.7H304.5M304.5 934V995.7M304.5 934H320M320 923.5V944.5M320 923.5H345M345 915.4V928.2M345 915.4H357.8M357.8 911.3V920.6M357.8 911.3H360.9M360.9 908.7V913.5M360.9 908.7H362.4M362.4 907.6V909.8M362.4 907.6H372M362.4 909.8H372M360.9 913.5H372M357.8 920.6H360.4M360.4 918.1V922M360.4 918.1H361.9M361.9 916.5V919.6M361.9 916.5H372M361.9 919.6H372M360.4 922H372M345 928.2H361.5M361.5 926.5V931.5M361.5 926.5H372M361.5 931.5H363M363 929.9V932.8M363 929.9H372M363 932.8H372M320 944.5H358.2M358.2 939.6V949.8M358.2 939.6H359.7M359.7 936.2V942.7M359.7 936.2H362.3M362.3 935.4V937.5M362.3 935.4H372M362.3 937.5H372M359.7 942.7H372M358.2 949.8H359.7M359.7 946.9V951.8M359.7 946.9H361.2M361.2 945.6V948.6M361.2 945.6H372M361.2 948.6H372M359.7 951.8H372M304.5 995.7H329.4M329.4 961.5V1029.8M329.4 961.5H340.2M340.2 957.1V973.9M340.2 957.1H354.3M354.3 955.4V959.9M354.3 955.4H372M354.3 959.9H372M340.2 973.9H341.7M341.7 968.4V982.3M341.7 968.4H357.6M357.6 964.7V971.5M357.6 964.7H362.6M362.6 963.5V966.6M362.6 963.5H372M362.6 966.6H372M357.6 971.5H359.6M359.6 970V972.5M359.6 970H372M359.6 972.5H372M341.7 982.3H346.8M346.8 979.3V988.2M346.8 979.3H357.8M357.8 975.8V981M357.8 975.8H359.3M359.3 974.9V977.3M359.3 974.9H372M359.3 977.3H372M357.8 981H372M346.8 988.2H357.1M357.1 984.4V992.4M357.1 984.4H361.6M361.6 983.7V986.3M361.6 983.7H372M361.6 986.3H372M357.1 992.4H358.6M358.6 990.4V993.8M358.6 990.4H372M358.6 993.8H372M329.4 1029.8H332.4M332.4 1008.4V1036.2M332.4 1008.4H352.7M352.7 1002.6V1018.6M352.7 1002.6H354.2M354.2 999.8V1006M354.2 999.8H356.4M356.4 997.7V1000.9M356.4 997.7H372M356.4 1000.9H372M354.2 1006H355.8M355.8 1004.5V1007.4M355.8 1004.5H372M355.8 1007.4H372M352.7 1018.6H354.2M354.2 1014.3V1025.1M354.2 1014.3H358.4M358.4 1010.5V1016.4M358.4 1010.5H362.6M362.6 1009.6V1012.3M362.6 1009.6H372M362.6 1012.3H372M358.4 1016.4H372M354.2 1025.1H355.7M355.7 1020.9V1026.9M355.7 1020.9H360.2M360.2 1020V1023.6M360.2 1020H372M360.2 1023.6H372M355.7 1026.9H372M332.4 1036.2H357.6M357.6 1033.8V1039.4M357.6 1033.8H360.3M360.3 1031.3V1035.3M360.3 1031.3H372M360.3 1035.3H372M357.6 1039.4H359.1M359.1 1037.3V1042.9M359.1 1037.3H372M359.1 1042.9H361.6M361.6 1041.5V1044.2M361.6 1041.5H372M361.6 1044.2H372M153 1204.3H227M227 1149.2V1258.1M227 1149.2H275.6M275.6 1106.7V1192.5M275.6 1106.7H301.8M301.8 1082.3V1132.2M301.8 1082.3H349M349 1060.9V1086.9M349 1060.9H350.5M350.5 1053.5V1070.8M350.5 1053.5H354.5M354.5 1050.1V1056.1M354.5 1050.1H359.7M359.7 1047.8V1052.3M359.7 1047.8H372M359.7 1052.3H372M354.5 1056.1H362.1M362.1 1054.5V1058.1M362.1 1054.5H372M362.1 1058.1H372M350.5 1070.8H352M352 1064.9V1077.7M352 1064.9H357M357 1063.4V1067.8M357 1063.4H372M357 1067.8H360.9M360.9 1066V1069M360.9 1066H372M360.9 1069H372M352 1077.7H356.7M356.7 1073.4V1079.3M356.7 1073.4H359.7M359.7 1071.9V1075.9M359.7 1071.9H372M359.7 1075.9H372M356.7 1079.3H372M349 1086.9H360.2M360.2 1085.2V1089.9M360.2 1085.2H372M360.2 1089.9H361.7M361.7 1088.6V1092.8M361.7 1088.6H372M361.7 1092.8H372M301.8 1132.2H340.7M340.7 1108.5V1154.5M340.7 1108.5H342.2M342.2 1102.4V1118.4M342.2 1102.4H347.3M347.3 1098.4V1105M347.3 1098.4H356.2M356.2 1096.9V1100.2M356.2 1096.9H372M356.2 1100.2H372M347.3 1105H364.1M364.1 1103.5V1107.2M364.1 1103.5H372M364.1 1107.2H372M342.2 1118.4H345.5M345.5 1112.1V1123.1M345.5 1112.1H359.3M359.3 1110.3V1116.1M359.3 1110.3H372M359.3 1116.1H360.8M360.8 1114.3V1117.1M360.8 1114.3H372M360.8 1117.1H372M345.5 1123.1H354.8M354.8 1120.8V1128.4M354.8 1120.8H372M354.8 1128.4H360.8M360.8 1125.3V1130.2M360.8 1125.3H362.3M362.3 1124V1126.9M362.3 1124H372M362.3 1126.9H372M360.8 1130.2H372M340.7 1154.5H344.8M344.8 1144.2V1161.6M344.8 1144.2H346.3M346.3 1139.5V1148.4M346.3 1139.5H350.7M350.7 1136.1V1141.2M350.7 1136.1H362.7M362.7 1133.7V1137.6M362.7 1133.7H372M362.7 1137.6H372M350.7 1141.2H372M346.3 1148.4H350.2M350.2 1145.9V1152.4M350.2 1145.9H372M350.2 1152.4H361.8M361.8 1150.9V1153.2M361.8 1150.9H372M361.8 1153.2H372M344.8 1161.6H352.3M352.3 1157.6V1165.7M352.3 1157.6H361.2M361.2 1156.1V1159.8M361.2 1156.1H372M361.2 1159.8H372M352.3 1165.7H355.6M355.6 1163.3V1168.3M355.6 1163.3H372M355.6 1168.3H372M275.6 1192.5H341.2M341.2 1182V1201.7M341.2 1182H345.7M345.7 1177.4V1187.9M345.7 1177.4H357.2M357.2 1173.5V1179.5M357.2 1173.5H358.7M358.7 1172.1V1175.2M358.7 1172.1H372M358.7 1175.2H372M357.2 1179.5H372M345.7 1187.9H359.2M359.2 1185.6V1190.3M359.2 1185.6H360.7M360.7 1184V1186.7M360.7 1184H372M360.7 1186.7H372M359.2 1190.3H372M341.2 1201.7H343.7M343.7 1196.8V1204.8M343.7 1196.8H352.7M352.7 1194.1V1200M352.7 1194.1H372M352.7 1200H372M343.7 1204.8H362.4M362.4 1203.3V1207.3M362.4 1203.3H372M362.4 1207.3H372M227 1258.1H324M324 1234.5V1281.8M324 1234.5H328M328 1218.6V1243.1M328 1218.6H350.5M350.5 1214.9V1225.1M350.5 1214.9H352M352 1211.8V1217.2M352 1211.8H361M361 1210.1V1213.3M361 1210.1H372M361 1213.3H372M352 1217.2H372M350.5 1225.1H355.5M355.5 1221.3V1231M355.5 1221.3H362.9M362.9 1219.9V1223.3M362.9 1219.9H372M362.9 1223.3H372M355.5 1231H359.8M359.8 1228.3V1232.4M359.8 1228.3H362.4M362.4 1226.9V1229.7M362.4 1226.9H372M362.4 1229.7H372M359.8 1232.4H372M328 1243.1H344.9M344.9 1239.5V1248.4M344.9 1239.5H359.2M359.2 1236.8V1241M359.2 1236.8H372M359.2 1241H372M344.9 1248.4H355.2M355.2 1246.2V1254.1M355.2 1246.2H360M360 1245V1247M360 1245H372M360 1247H372M355.2 1254.1H357.5M357.5 1251.2V1256.3M357.5 1251.2H363.6M363.6 1250.1V1252.8M363.6 1250.1H372M363.6 1252.8H372M357.5 1256.3H372M324 1281.8H348.6M348.6 1271.5V1282.3M348.6 1271.5H350.1M350.1 1265.6V1276.9M350.1 1265.6H355.6M355.6 1262.1V1269.2M355.6 1262.1H357.1M357.1 1260.3V1263.5M357.1 1260.3H372M357.1 1263.5H372M355.6 1269.2H357.7M357.7 1267.7V1270M357.7 1267.7H372M357.7 1270H372M350.1 1276.9H351.6M351.6 1274.3V1279.8M351.6 1274.3H361.2M361.2 1272.6V1275.6M361.2 1272.6H372M361.2 1275.6H372M351.6 1279.8H372M348.6 1282.3H372M132.5 1471.4H262.5M262.5 1368.4V1574.5M262.5 1368.4H308.4M308.4 1326.4V1411.7M308.4 1326.4H328M328 1292V1360M328 1292H347.3M347.3 1288.8V1309.5M347.3 1288.8H355.4M355.4 1285.2V1290M355.4 1285.2H358.8M358.8 1284.2V1287M358.8 1284.2H372M358.8 1287H372M355.4 1290H372M347.3 1309.5H350.4M350.4 1301.9V1317.9M350.4 1301.9H351.9M351.9 1298.1V1305.7M351.9 1298.1H353.4M353.4 1294.2V1299.7M353.4 1294.2H363M363 1292.8V1296.7M363 1292.8H372M363 1296.7H372M353.4 1299.7H372M351.9 1305.7H358.3M358.3 1304.3V1308.1M358.3 1304.3H372M358.3 1308.1H372M350.4 1317.9H353.3M353.3 1312.7V1322.2M353.3 1312.7H354.8M354.8 1311.4V1315.7M354.8 1311.4H372M354.8 1315.7H362.9M362.9 1314.3V1317M362.9 1314.3H372M362.9 1317H372M353.3 1322.2H354.8M354.8 1320.5V1323.8M354.8 1320.5H372M354.8 1323.8H372M328 1360H338.5M338.5 1342.8V1368.4M338.5 1342.8H350.9M350.9 1335.7V1352.6M350.9 1335.7H352.4M352.4 1332.2V1339.4M352.4 1332.2H353.9M353.9 1329.9V1334.3M353.9 1329.9H363M363 1327.9V1331.1M363 1327.9H372M363 1331.1H372M353.9 1334.3H372M352.4 1339.4H357.3M357.3 1337.7V1341M357.3 1337.7H372M357.3 1341H372M350.9 1352.6H352.4M352.4 1347.9V1356.6M352.4 1347.9H356.9M356.9 1345.5V1349.6M356.9 1345.5H372M356.9 1349.6H372M352.4 1356.6H357.1M357.1 1354.6V1358.1M357.1 1354.6H372M357.1 1358.1H372M338.5 1368.4H346.6M346.6 1363.5V1373.1M346.6 1363.5H360.9M360.9 1361.8V1365.4M360.9 1361.8H372M360.9 1365.4H372M346.6 1373.1H360.7M360.7 1370.8V1374.9M360.7 1370.8H372M360.7 1374.9H372M308.4 1411.7H333.3M333.3 1392V1430M333.3 1392H344.4M344.4 1385V1398.9M344.4 1385H351.3M351.3 1382.4V1389M351.3 1382.4H356M356 1380.2V1383.3M356 1380.2H372M356 1383.3H372M351.3 1389H358.6M358.6 1387.1V1390.9M358.6 1387.1H372M358.6 1390.9H372M344.4 1398.9H356M356 1394.7V1406.7M356 1394.7H357.5M357.5 1393.1V1396.4M357.5 1393.1H372M357.5 1396.4H372M356 1406.7H357.5M357.5 1402.8V1409.5M357.5 1402.8H359M359 1401.3V1405.1M359 1401.3H372M359 1405.1H372M357.5 1409.5H372M333.3 1430H336.4M336.4 1423V1434.6M336.4 1423H346M346 1418.2V1427.3M346 1418.2H357.5M357.5 1413.9V1420.1M357.5 1413.9H359M359 1412.1V1415.7M359 1412.1H372M359 1415.7H372M357.5 1420.1H372M346 1427.3H361M361 1425.1V1428.5M361 1425.1H372M361 1428.5H372M336.4 1434.6H361.5M361.5 1432.7V1436.7M361.5 1432.7H372M361.5 1436.7H363M363 1435.5V1438.8M363 1435.5H372M363 1438.8H372M262.5 1574.5H319.7M319.7 1481.4V1667.7M319.7 1481.4H326.8M326.8 1459.8V1505M326.8 1459.8H332.8M332.8 1448.6V1470.9M332.8 1448.6H355.1M355.1 1443.6V1452.9M355.1 1443.6H356.9M356.9 1441.6V1445.9M356.9 1441.6H372M356.9 1445.9H372M355.1 1452.9H356.6M356.6 1450.7V1456.5M356.6 1450.7H372M356.6 1456.5H358.1M358.1 1455.1V1458.6M358.1 1455.1H372M358.1 1458.6H372M332.8 1470.9H346M346 1465.7V1477.4M346 1465.7H358.1M358.1 1461.8V1468.4M358.1 1461.8H361M361 1460.6V1463.7M361 1460.6H372M361 1463.7H372M358.1 1468.4H363.3M363.3 1466.8V1469.3M363.3 1466.8H372M363.3 1469.3H372M346 1477.4H351.3M351.3 1474.7V1479.9M351.3 1474.7H354.6M354.6 1472.7V1476.2M354.6 1472.7H372M354.6 1476.2H372M351.3 1479.9H372M326.8 1505H343.8M343.8 1493V1515.5M343.8 1493H351.6M351.6 1489.1V1497.1M351.6 1489.1H359.6M359.6 1485.3V1491M359.6 1485.3H361.1M361.1 1483.3V1486.8M361.1 1483.3H372M361.1 1486.8H372M359.6 1491H372M351.6 1497.1H358.5M358.5 1494.8V1499.6M358.5 1494.8H372M358.5 1499.6H363.5M363.5 1498.4V1501.4M363.5 1498.4H372M363.5 1501.4H372M343.8 1515.5H349.2M349.2 1510.8V1523.1M349.2 1510.8H354.1M354.1 1508.1V1513.3M354.1 1508.1H359.4M359.4 1506.6V1509.8M359.4 1506.6H372M359.4 1509.8H372M354.1 1513.3H372M349.2 1523.1H356.5M356.5 1520.1V1525.7M356.5 1520.1H358M358 1517.3V1521.9M358 1517.3H372M358 1521.9H372M356.5 1525.7H359.8M359.8 1524.6V1527.2M359.8 1524.6H372M359.8 1527.2H372M319.7 1667.7H332.8M332.8 1611.3V1722.8M332.8 1611.3H337.3M337.3 1573V1648M337.3 1573H340M340 1548V1599.5M340 1548H341.5M341.5 1538.7V1559.7M341.5 1538.7H348.4M348.4 1534.5V1544.6M348.4 1534.5H354.7M354.7 1532.6V1537.1M354.7 1532.6H372M354.7 1537.1H372M348.4 1544.6H361.8M361.8 1541.6V1546.2M361.8 1541.6H363.3M363.3 1540.5V1543.3M363.3 1540.5H372M363.3 1543.3H372M361.8 1546.2H372M341.5 1559.7H355.7M355.7 1553.7V1568.6M355.7 1553.7H359.3M359.3 1551.4V1556.9M359.3 1551.4H360.8M360.8 1549.5V1552.7M360.8 1549.5H372M360.8 1552.7H372M359.3 1556.9H362.6M362.6 1555.5V1558.1M362.6 1555.5H372M362.6 1558.1H372M355.7 1568.6H359.4M359.4 1563.1V1571.6M359.4 1563.1H360.9M360.9 1561.9V1566.4M360.9 1561.9H372M360.9 1566.4H362.4M362.4 1564.8V1567.7M362.4 1564.8H372M362.4 1567.7H372M359.4 1571.6H372M340 1599.5H341.5M341.5 1588.7V1607.3M341.5 1588.7H351.5M351.5 1583.3V1593.6M351.5 1583.3H353M353 1578V1586.6M353 1578H354.5M354.5 1576.2V1580.7M354.5 1576.2H372M354.5 1580.7H360.9M360.9 1579.1V1582M360.9 1579.1H372M360.9 1582H372M353 1586.6H362.3M362.3 1584.8V1588M362.3 1584.8H372M362.3 1588H372M351.5 1593.6H359M359 1590.6V1595.7M359 1590.6H372M359 1595.7H361.9M361.9 1594.8V1597.9M361.9 1594.8H372M361.9 1597.9H372M341.5 1607.3H343M343 1602.8V1613M343 1602.8H354M354 1601.3V1604.7M354 1601.3H372M354 1604.7H372M343 1613H348.8M348.8 1609.9V1616.9M348.8 1609.9H358.6M358.6 1608.3V1611.4M358.6 1608.3H372M358.6 1611.4H372M348.8 1616.9H355.4M355.4 1614.7V1618.8M355.4 1614.7H372M355.4 1618.8H372M337.3 1648H347.8M347.8 1636V1660M347.8 1636H349.3M349.3 1626.9V1642.3M349.3 1626.9H354.8M354.8 1624.1V1631.8M354.8 1624.1H362.9M362.9 1621.5V1625.2M362.9 1621.5H372M362.9 1625.2H372M354.8 1631.8H362.1M362.1 1629.9V1634.4M362.1 1629.9H372M362.1 1634.4H372M349.3 1642.3H356.6M356.6 1639.8V1644.3M356.6 1639.8H363.7M363.7 1637.7V1641.1M363.7 1637.7H372M363.7 1641.1H372M356.6 1644.3H358.2M358.2 1643.1V1645.7M358.2 1643.1H372M358.2 1645.7H372M347.8 1660H349.3M349.3 1654.5V1677.9M349.3 1654.5H350.8M350.8 1650.5V1656.5M350.8 1650.5H355.7M355.7 1648.9V1653M355.7 1648.9H372M355.7 1653H372M350.8 1656.5H363.6M363.6 1655.7V1657.9M363.6 1655.7H372M363.6 1657.9H372M349.3 1677.9H353.9M353.9 1667.1V1685.1M353.9 1667.1H355.4M355.4 1662.8V1672.9M355.4 1662.8H360.7M360.7 1661.8V1664.4M360.7 1661.8H372M360.7 1664.4H372M355.4 1672.9H356.9M356.9 1670.5V1675.1M356.9 1670.5H360.6M360.6 1669.3V1671.5M360.6 1669.3H372M360.6 1671.5H372M356.9 1675.1H372M353.9 1685.1H357.3M357.3 1681V1687.3M357.3 1681H360.3M360.3 1679V1683M360.3 1679H372M360.3 1683H372M357.3 1687.3H372M332.8 1722.8H342.5M342.5 1704.5V1742.5M342.5 1704.5H344M344 1696.7V1711.3M344 1696.7H354.1M354.1 1693.5V1701.3M354.1 1693.5H360.4M360.4 1691.5V1695.2M360.4 1691.5H372M360.4 1695.2H372M354.1 1701.3H360.9M360.9 1698.5V1702.5M360.9 1698.5H372M360.9 1702.5H372M344 1711.3H345.5M345.5 1708.6V1715.6M345.5 1708.6H361.8M361.8 1706.2V1710.4M361.8 1706.2H372M361.8 1710.4H372M345.5 1715.6H360.9M360.9 1713.5V1719.5M360.9 1713.5H372M360.9 1719.5H362.4M362.4 1717.9V1721.5M362.4 1717.9H372M362.4 1721.5H372M342.5 1742.5H349.9M349.9 1731.1V1744.9M349.9 1731.1H351.4M351.4 1727.8V1735.8M351.4 1727.8H356.1M356.1 1725.7V1729.1M356.1 1725.7H372M356.1 1729.1H372M351.4 1735.8H353.3M353.3 1734.1V1739.7M353.3 1734.1H372M353.3 1739.7H357.1M357.1 1737.4V1741.2M357.1 1737.4H372M357.1 1741.2H372M349.9 1744.9H361.5M361.5 1743.7V1746.3M361.5 1743.7H372M361.5 1746.3H372M1.3 1932.8H254.6M254.6 1802.9V2063.2M254.6 1802.9H319.7M319.7 1791V1814.7M319.7 1791H332.8M332.8 1779V1801.6M332.8 1779H334.3M334.3 1767.3V1786M334.3 1767.3H353.8M353.8 1759.4V1772.3M353.8 1759.4H355.3M355.3 1753.7V1763.1M355.3 1753.7H356.8M356.8 1751.3V1756.5M356.8 1751.3H359.7M359.7 1749.4V1752.7M359.7 1749.4H372M359.7 1752.7H372M356.8 1756.5H358.7M358.7 1755.2V1757.8M358.7 1755.2H372M358.7 1757.8H372M355.3 1763.1H361.4M361.4 1760.8V1765.4M361.4 1760.8H372M361.4 1765.4H372M353.8 1772.3H355.3M355.3 1770.3V1775.6M355.3 1770.3H372M355.3 1775.6H356.8M356.8 1773.9V1776.9M356.8 1773.9H372M356.8 1776.9H372M334.3 1786H355.6M355.6 1781.7V1787.8M355.6 1781.7H361.8M361.8 1780.5V1784.1M361.8 1780.5H372M361.8 1784.1H372M355.6 1787.8H372M332.8 1801.6H345.5M345.5 1797.1V1804.1M345.5 1797.1H358.3M358.3 1794.1V1799.4M358.3 1794.1H362.2M362.2 1792.4V1795.3M362.2 1792.4H372M362.2 1795.3H372M358.3 1799.4H372M345.5 1804.1H354.8M354.8 1802.7V1805.6M354.8 1802.7H372M354.8 1805.6H372M319.7 1814.7H365M365 1810.4V1820.5M365 1810.4H366.5M366.5 1808.9V1812.9M366.5 1808.9H372M366.5 1812.9H372M365 1820.5H366.5M366.5 1817.7V1824.4M366.5 1817.7H368M368 1816.6V1818.9M368 1816.6H372M368 1818.9H372M366.5 1824.4H368M368 1823V1827M368 1823H372M368 1827H369.5M369.5 1825.6V1828.5M369.5 1825.6H372M369.5 1828.5H372M254.6 2063.2H299.5M299.5 1939.6V2187.2M299.5 1939.6H304.5M304.5 1877.7V2001.8M304.5 1877.7H332M332 1860V1895M332 1860H334M334 1845.3V1866.9M334 1845.3H342.4M342.4 1838.1V1853.7M342.4 1838.1H346.4M346.4 1834.2V1841.9M346.4 1834.2H355.1M355.1 1832.2V1835.8M355.1 1832.2H372M355.1 1835.8H372M346.4 1841.9H356.3M356.3 1839.6V1843.9M356.3 1839.6H372M356.3 1843.9H372M342.4 1853.7H349.9M349.9 1848.6V1857.2M349.9 1848.6H355.9M355.9 1847V1850.9M355.9 1847H372M355.9 1850.9H372M349.9 1857.2H358.2M358.2 1855.9V1858.5M358.2 1855.9H372M358.2 1858.5H372M334 1866.9H346.6M346.6 1863V1872.6M346.6 1863H361.3M361.3 1861.6V1864.9M361.3 1861.6H372M361.3 1864.9H372M346.6 1872.6H354.2M354.2 1869.9V1875.3M354.2 1869.9H356.2M356.2 1868.7V1871.4M356.2 1868.7H372M356.2 1871.4H372M354.2 1875.3H372M332 1895H333.5M333.5 1886.8V1907.4M333.5 1886.8H343.6M343.6 1883.5V1891M343.6 1883.5H360.5M360.5 1880V1885.6M360.5 1880H362M362 1879V1881.8M362 1879H372M362 1881.8H372M360.5 1885.6H372M343.6 1891H357.2M357.2 1888.7V1893M357.2 1888.7H372M357.2 1893H372M333.5 1907.4H344.3M344.3 1900V1913.8M344.3 1900H355.5M355.5 1896.8V1903.1M355.5 1896.8H372M355.5 1903.1H357M357 1901.6V1905.6M357 1901.6H372M357 1905.6H372M344.3 1913.8H359.1M359.1 1909.7V1916.6M359.1 1909.7H363.5M363.5 1908.7V1911.6M363.5 1908.7H372M363.5 1911.6H372M359.1 1916.6H364M364 1915.3V1918.2M364 1915.3H372M364 1918.2H372M304.5 2001.8H335.8M335.8 1969V2034M335.8 1969H342M342 1945V1994M342 1945H343.5M343.5 1933.6V1955.5M343.5 1933.6H352M352 1925.8V1940.8M352 1925.8H353.5M353.5 1923.4V1930.4M353.5 1923.4H360.9M360.9 1922V1924.3M360.9 1922H372M360.9 1924.3H372M353.5 1930.4H355.1M355.1 1927.7V1932.1M355.1 1927.7H372M355.1 1932.1H372M352 1940.8H355.4M355.4 1937.1V1942.6M355.4 1937.1H356.9M356.9 1935.5V1939.1M356.9 1935.5H372M356.9 1939.1H372M355.4 1942.6H372M343.5 1955.5H345M345 1949.3V1962.4M345 1949.3H358.2M358.2 1947.1V1951.7M358.2 1947.1H372M358.2 1951.7H359.7M359.7 1950.6V1954M359.7 1950.6H372M359.7 1954H372M345 1962.4H356.4M356.4 1959.2V1965.4M356.4 1959.2H359.6M359.6 1957.7V1960.3M359.6 1957.7H372M359.6 1960.3H372M356.4 1965.4H357.9M357.9 1964.1V1967.1M357.9 1964.1H372M357.9 1967.1H372M342 1994H343.5M343.5 1981.9V2004M343.5 1981.9H345M345 1975.1V1987.5M345 1975.1H348.7M348.7 1971.7V1977.6M348.7 1971.7H357.2M357.2 1970.3V1973.7M357.2 1970.3H372M357.2 1973.7H372M348.7 1977.6H362.4M362.4 1976.1V1979.9M362.4 1976.1H372M362.4 1979.9H372M345 1987.5H360.8M360.8 1985.5V1991.6M360.8 1985.5H362.3M362.3 1984V1986.2M362.3 1984H372M362.3 1986.2H372M360.8 1991.6H362.5M362.5 1989.9V1993M362.5 1989.9H372M362.5 1993H372M343.5 2004H351.6M351.6 2000.1V2010.9M351.6 2000.1H353.1M353.1 1997.6V2002.5M353.1 1997.6H358.6M358.6 1995.5V1999M358.6 1995.5H372M358.6 1999H372M353.1 2002.5H372M351.6 2010.9H353.1M353.1 2006.9V2013.3M353.1 2006.9H361.8M361.8 2005.3V2008.9M361.8 2005.3H372M361.8 2008.9H372M353.1 2013.3H372M335.8 2034H354.6M354.6 2023.1V2041.7M354.6 2023.1H356.1M356.1 2018.9V2027.8M356.1 2018.9H360.5M360.5 2017.4V2021M360.5 2017.4H372M360.5 2021H372M356.1 2027.8H360.8M360.8 2025.5V2030.2M360.8 2025.5H372M360.8 2030.2H362.3M362.3 2029V2032.2M362.3 2029H372M362.3 2032.2H372M354.6 2041.7H356.1M356.1 2039V2046.7M356.1 2039H358.4M358.4 2036.4V2040.5M358.4 2036.4H372M358.4 2040.5H372M356.1 2046.7H357.6M357.6 2044.4V2048.3M357.6 2044.4H372M357.6 2048.3H372M299.5 2187.2H324M324 2127V2244.9M324 2127H334.6M334.6 2077V2179.7M334.6 2077H340.9M340.9 2069V2085.7M340.9 2069H342.4M342.4 2061.9V2073.5M342.4 2061.9H347.9M347.9 2057.6V2065.7M347.9 2057.6H352.3M352.3 2052.8V2059.6M352.3 2052.8H353.8M353.8 2051.4V2055.2M353.8 2051.4H372M353.8 2055.2H372M352.3 2059.6H372M347.9 2065.7H354.7M354.7 2064.3V2067.6M354.7 2064.3H372M354.7 2067.6H372M342.4 2073.5H356.1M356.1 2071.5V2075.8M356.1 2071.5H372M356.1 2075.8H372M340.9 2085.7H350.5M350.5 2081.6V2093M350.5 2081.6H354.6M354.6 2079.8V2083.6M354.6 2079.8H372M354.6 2083.6H372M350.5 2093H354.1M354.1 2089.2V2097.2M354.1 2089.2H360.5M360.5 2087.1V2091M360.5 2087.1H372M360.5 2091H372M354.1 2097.2H358.6M358.6 2095.4V2098.6M358.6 2095.4H372M358.6 2098.6H372M334.6 2179.7H342M342 2147V2211M342 2147H343.5M343.5 2121.3V2165.8M343.5 2121.3H345M345 2111.8V2132.6M345 2111.8H347.3M347.3 2105.4V2117.4M347.3 2105.4H360.6M360.6 2102.4V2109.4M360.6 2102.4H362.1M362.1 2101.5V2103.7M362.1 2101.5H372M362.1 2103.7H372M360.6 2109.4H363.9M363.9 2107.8V2110.9M363.9 2107.8H372M363.9 2110.9H372M347.3 2117.4H355.3M355.3 2114.3V2119.7M355.3 2114.3H356.8M356.8 2113V2116M356.8 2113H372M356.8 2116H372M355.3 2119.7H372M345 2132.6H346.5M346.5 2126.3V2140.2M346.5 2126.3H352.9M352.9 2124.2V2129.8M352.9 2124.2H372M352.9 2129.8H359.8M359.8 2127.8V2130.9M359.8 2127.8H372M359.8 2130.9H372M346.5 2140.2H357.4M357.4 2137.5V2144.2M357.4 2137.5H358.9M358.9 2134.8V2138.7M358.9 2134.8H372M358.9 2138.7H372M357.4 2144.2H358.9M358.9 2141.9V2145.6M358.9 2141.9H372M358.9 2145.6H372M343.5 2165.8H348.7M348.7 2157.5V2172.1M348.7 2157.5H353.1M353.1 2152.5V2162M353.1 2152.5H354.6M354.6 2150.5V2155.1M354.6 2150.5H364.2M364.2 2149.1V2151.7M364.2 2149.1H372M364.2 2151.7H372M354.6 2155.1H372M353.1 2162H356.7M356.7 2159.2V2163.8M356.7 2159.2H372M356.7 2163.8H372M348.7 2172.1H360.3M360.3 2169.2V2175.7M360.3 2169.2H361.8M361.8 2167V2170.6M361.8 2167H372M361.8 2170.6H372M360.3 2175.7H361.8M361.8 2174.3V2177.5M361.8 2174.3H372M361.8 2177.5H372M342 2211H348.3M348.3 2198.3V2212.4M348.3 2198.3H354M354 2187.6V2203.2M354 2187.6H355.5M355.5 2184.4V2194.2M355.5 2184.4H361.3M361.3 2182.5V2186.2M361.3 2182.5H362.8M362.8 2180.5V2183.2M362.8 2180.5H372M362.8 2183.2H372M361.3 2186.2H372M355.5 2194.2H361M361 2190.3V2196.5M361 2190.3H362.5M362.5 2188.8V2191.8M362.5 2188.8H372M362.5 2191.8H372M361 2196.5H372M354 2203.2H355.5M355.5 2200.5V2207M355.5 2200.5H372M355.5 2207H357M357 2205.4V2209.6M357 2205.4H372M357 2209.6H372M348.3 2212.4H372M324 2244.9H348.4M348.4 2229.8V2258.6M348.4 2229.8H349.9M349.9 2224.6V2234.9M349.9 2224.6H351.4M351.4 2218.9V2226.5M351.4 2218.9H358.6M358.6 2216.7V2221.2M358.6 2216.7H372M358.6 2221.2H360.1M360.1 2220V2222.4M360.1 2220H372M360.1 2222.4H372M351.4 2226.5H361.6M361.6 2225.5V2228.1M361.6 2225.5H372M361.6 2228.1H372M349.9 2234.9H351.4M351.4 2232.9V2240.4M351.4 2232.9H372M351.4 2240.4H358.2M358.2 2237.4V2242.4M358.2 2237.4H361M361 2236.2V2239.1M361 2236.2H372M361 2239.1H372M358.2 2242.4H372M348.4 2258.6H349.9M349.9 2250.2V2266.3M349.9 2250.2H355.9M355.9 2248V2255.6M355.9 2248H357.9M357.9 2245.7V2249M357.9 2245.7H372M357.9 2249H372M355.9 2255.6H357.4M357.4 2252.1V2257.4M357.4 2252.1H359.4M359.4 2251.2V2253.8M359.4 2251.2H372M359.4 2253.8H372M357.4 2257.4H372M349.9 2266.3H351.4M351.4 2262.8V2270.3M351.4 2262.8H357M357 2260.2V2264.9M357 2260.2H372M357 2264.9H372M351.4 2270.3H360.7M360.7 2268.9V2271.7M360.7 2268.9H372M360.7 2271.7H372"/>
<path fill="#000" d="M372 183.7L358.3 183.7L351 185.7L347.2 192L344.5 198.3L344 211L346.5 218.7L347.2 226.6L351.2 234.5L350.4 242.4L351.2 251.8L358.3 252.6L372 252.6Z M372 140.5L346.5 141.6L341 144.7L341 150.2L358.3 151L372 151Z"/>
<text x="410.5" y="84.0" class="gl">Paenibacillus</text>
<text x="410.5" y="128.4" class="gl">Streptomyces</text>
<text x="411.1" y="237.2" class="gl">Bacillus</text>
<text x="411.1" y="379.3" class="gl">Bacillus</text>
<text x="403.2" y="461.6" class="gl">Enterobacter</text>
<text x="411.1" y="603.8" class="gl">Micromonospora</text>
<text x="419.9" y="804.7" class="gl">Pseudomonas</text>
<text x="410.8" y="1227.2" class="gl">Yersinia</text>
<text x="410.8" y="1257.4" class="gl">Yersinia</text>
<text x="418.8" y="1527.0" class="gl">Delftia</text>
<text x="410.0" y="2019.4" class="gl">Chryseobacterium</text>
<line x1="396.2" y1="143.0" x2="396.2" y2="308.3" class="bar"/>
<line x1="396.2" y1="311.5" x2="396.2" y2="424.7" class="bar"/>
<line x1="396.2" y1="508.5" x2="396.2" y2="682.3" class="bar"/>
<line x1="404.8" y1="686.6" x2="404.8" y2="900.0" class="bar"/>
<line x1="396.2" y1="1210.2" x2="396.2" y2="1281.2" class="bar"/>
<line x1="404.8" y1="1284.5" x2="404.8" y2="1746.0" class="bar"/>
<line x1="396.2" y1="1750.7" x2="396.2" y2="2281.0" class="bar"/>
<text x="1574.4" y="1128.7" class="lt">Sponge</text>
<circle cx="1575.4" cy="1161.9" r="8.6" class="g"/>
<circle cx="1575.4" cy="1193.4" r="8.6" class="p"/>
<text x="1606.5" y="1171" class="ll">SCD18</text>
<text x="1606.5" y="1202.8" class="ll">SCD21</text>
</svg>
</body></html>
